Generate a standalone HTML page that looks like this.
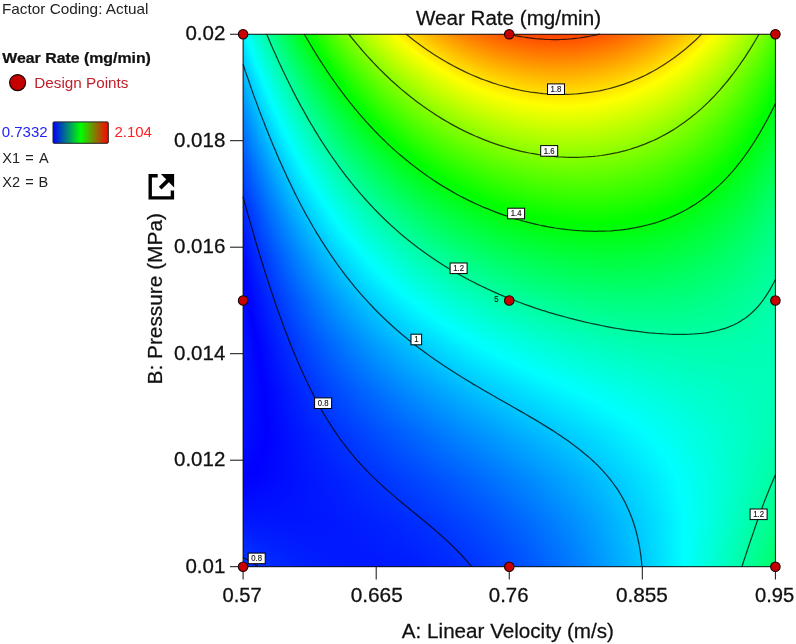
<!DOCTYPE html>
<html><head><meta charset="utf-8"><title>Wear Rate contour</title>
<style>
html,body{margin:0;padding:0;background:#fff}
body{width:796px;height:644px;position:relative;overflow:hidden;font-family:"Liberation Sans",sans-serif}
#heat{position:absolute;left:243px;top:34px;width:532.4px;height:532.7px;overflow:hidden;white-space:nowrap;font-size:0;line-height:0}
#heat i{display:inline-block;width:1px;height:533px;vertical-align:top}
#ov{position:absolute;left:0;top:0;will-change:transform}
text{font-family:"Liberation Sans",sans-serif}
</style></head><body>
<div id="heat"><i style="background:linear-gradient(#00f6ff,#00b5ff 8.3%,#007dff 16.7%,#004eff 25%,#0027ff 33.3%,#000aff 41.7%,#00f 45.4%,#000aff 50%,#0015ff 58.3%,#0017ff 66.7%,#01f 75%,#0001ff 83.3%,#00f 83.7%,#0018ff 91.7%,#003aff)"></i><i style="background:linear-gradient(#00faff,#00b9ff 8.3%,#0080ff 16.7%,#0051ff 25%,#002aff 33.3%,#000dff 41.7%,#00f 46.3%,#0008ff 50%,#0014ff 58.3%,#0016ff 66.7%,#0010ff 75%,#0001ff 83.3%,#00f 83.5%,#0018ff 91.7%,#0039ff)"></i><i style="background:linear-gradient(#0ff,#00bdff 8.3%,#0084ff 16.7%,#0054ff 25%,#002dff 33.3%,#000fff 41.7%,#00f 47.2%,#0006ff 50%,#0012ff 58.3%,#0015ff 66.7%,#000fff 75%,#00f 83.3%,#00f 83.4%,#0018ff 91.7%,#0039ff)"></i><i style="background:linear-gradient(#00fffb,#0ff 0.5%,#00c1ff 8.3%,#08f 16.7%,#0057ff 25%,#0030ff 33.3%,#01f 41.7%,#00f 48.2%,#0004ff 50%,#0010ff 58.3%,#0014ff 66.7%,#000eff 75%,#00f 83.3%,#00f 83.3%,#0018ff 91.7%,#0038ff)"></i><i style="background:linear-gradient(#00fff6,#0ff 1.1%,#00c5ff 8.3%,#008bff 16.7%,#005bff 25%,#03f 33.3%,#0014ff 41.7%,#00f 49.1%,#0002ff 50%,#000fff 58.3%,#0013ff 66.7%,#000eff 75%,#00f 83.2%,#00f 83.3%,#0017ff 91.7%,#0037ff)"></i><i style="background:linear-gradient(#00fff2,#0ff 1.6%,#00c9ff 8.3%,#008fff 16.7%,#005eff 25%,#0036ff 33.3%,#0016ff 41.7%,#00f 50%,#00f 50%,#000dff 58.3%,#0012ff 66.7%,#000dff 75%,#00f 83%,#0001ff 83.3%,#0017ff 91.7%,#0037ff)"></i><i style="background:linear-gradient(#00ffed,#0ff 2.1%,#00cdff 8.3%,#0093ff 16.7%,#0061ff 25%,#0038ff 33.3%,#0019ff 41.7%,#0002ff 50%,#00f 50.9%,#000cff 58.3%,#0010ff 66.7%,#000cff 75%,#00f 82.8%,#0001ff 83.3%,#0017ff 91.7%,#0036ff)"></i><i style="background:linear-gradient(#00ffe9,#0ff 2.6%,#00d1ff 8.3%,#0096ff 16.7%,#0064ff 25%,#003bff 33.3%,#001bff 41.7%,#0004ff 50%,#00f 51.9%,#000aff 58.3%,#000fff 66.7%,#000bff 75%,#00f 82.7%,#0001ff 83.3%,#0017ff 91.7%,#0036ff)"></i><i style="background:linear-gradient(#00ffe4,#0ff 3.1%,#00d5ff 8.3%,#009aff 16.7%,#0067ff 25%,#003eff 33.3%,#001dff 41.7%,#0006ff 50%,#00f 52.8%,#0009ff 58.3%,#000eff 66.7%,#000bff 75%,#00f 82.5%,#0002ff 83.3%,#0017ff 91.7%,#0035ff)"></i><i style="background:linear-gradient(#00ffe0,#0ff 3.7%,#00daff 8.3%,#009eff 16.7%,#006bff 25%,#0041ff 33.3%,#0020ff 41.7%,#0008ff 50%,#00f 53.8%,#0007ff 58.3%,#000dff 66.7%,#000aff 75%,#00f 82.3%,#0002ff 83.3%,#0017ff 91.7%,#0035ff)"></i><i style="background:linear-gradient(#00ffdb,#0ff 4.2%,#00deff 8.3%,#00a1ff 16.7%,#006eff 25%,#04f 33.3%,#02f 41.7%,#000aff 50%,#00f 54.8%,#0006ff 58.3%,#000cff 66.7%,#0009ff 75%,#00f 82.1%,#0002ff 83.3%,#0017ff 91.7%,#0034ff)"></i><i style="background:linear-gradient(#00ffd7,#0ff 4.7%,#00e2ff 8.3%,#00a5ff 16.7%,#0071ff 25%,#0046ff 33.3%,#0025ff 41.7%,#000cff 50%,#00f 55.7%,#0004ff 58.3%,#000bff 66.7%,#0009ff 75%,#00f 81.9%,#0003ff 83.3%,#0017ff 91.7%,#0034ff)"></i><i style="background:linear-gradient(#00ffd2,#0ff 5.2%,#00e6ff 8.3%,#00a8ff 16.7%,#0074ff 25%,#0049ff 33.3%,#0027ff 41.7%,#000eff 50%,#00f 56.7%,#0002ff 58.3%,#000aff 66.7%,#0008ff 75%,#00f 81.7%,#0003ff 83.3%,#0017ff 91.7%,#03f)"></i><i style="background:linear-gradient(#00ffce,#0ff 5.7%,#00e9ff 8.3%,#00acff 16.7%,#07f 25%,#004cff 33.3%,#0029ff 41.7%,#0010ff 50%,#00f 57.7%,#0001ff 58.3%,#0009ff 66.7%,#0007ff 75%,#00f 81.4%,#0003ff 83.3%,#0017ff 91.7%,#03f)"></i><i style="background:linear-gradient(#00ffca,#0ff 6.2%,#00edff 8.3%,#00afff 16.7%,#007bff 25%,#004fff 33.3%,#002cff 41.7%,#0012ff 50%,#0001ff 58.3%,#00f 58.8%,#0007ff 66.7%,#0006ff 75%,#00f 81.1%,#0003ff 83.3%,#0016ff 91.7%,#0032ff)"></i><i style="background:linear-gradient(#00ffc5,#0ff 6.7%,#00f1ff 8.3%,#00b3ff 16.7%,#007eff 25%,#0051ff 33.3%,#002eff 41.7%,#0014ff 50%,#0002ff 58.3%,#00f 59.8%,#0006ff 66.7%,#0006ff 75%,#00f 80.8%,#0004ff 83.3%,#0016ff 91.7%,#0032ff)"></i><i style="background:linear-gradient(#00ffc1,#0ff 7.1%,#00f5ff 8.3%,#00b7ff 16.7%,#0081ff 25%,#0054ff 33.3%,#0030ff 41.7%,#0015ff 50%,#0004ff 58.3%,#00f 60.9%,#0005ff 66.7%,#0005ff 75%,#00f 80.5%,#0004ff 83.3%,#0016ff 91.7%,#0031ff)"></i><i style="background:linear-gradient(#00ffbd,#0ff 7.6%,#00f9ff 8.3%,#00baff 16.7%,#0084ff 25%,#0057ff 33.3%,#03f 41.7%,#0017ff 50%,#0005ff 58.3%,#00f 62%,#0004ff 66.7%,#0004ff 75%,#00f 80.1%,#0004ff 83.3%,#0016ff 91.7%,#0031ff)"></i><i style="background:linear-gradient(#00ffb8,#0ff 8.1%,#00fdff 8.3%,#00beff 16.7%,#0087ff 25%,#005aff 33.3%,#0035ff 41.7%,#0019ff 50%,#0007ff 58.3%,#00f 63.2%,#0003ff 66.7%,#0004ff 75%,#00f 79.7%,#0005ff 83.3%,#0016ff 91.7%,#0030ff)"></i><i style="background:linear-gradient(#00ffb4,#00fffd 8.3%,#0ff 8.6%,#00c1ff 16.7%,#008aff 25%,#005cff 33.3%,#0037ff 41.7%,#001bff 50%,#0008ff 58.3%,#00f 64.5%,#0002ff 66.7%,#0003ff 75%,#00f 79.2%,#0005ff 83.3%,#0016ff 91.7%,#0030ff)"></i><i style="background:linear-gradient(#00ffb0,#00fff9 8.3%,#0ff 9.1%,#00c5ff 16.7%,#008dff 25%,#005fff 33.3%,#003aff 41.7%,#001dff 50%,#000aff 58.3%,#00f 65.8%,#0001ff 66.7%,#0002ff 75%,#00f 78.5%,#0005ff 83.3%,#0016ff 91.7%,#002fff)"></i><i style="background:linear-gradient(#00ffab,#00fff5 8.3%,#0ff 9.5%,#00c8ff 16.7%,#0090ff 25%,#0062ff 33.3%,#003cff 41.7%,#001fff 50%,#000bff 58.3%,#00f 66.7%,#00f 67.3%,#0001ff 75%,#00f 77.8%,#0006ff 83.3%,#0016ff 91.7%,#002fff)"></i><i style="background:linear-gradient(#00ffa7,#00fff1 8.3%,#0ff 10%,#0cf 16.7%,#0093ff 25%,#0064ff 33.3%,#003eff 41.7%,#0021ff 50%,#000dff 58.3%,#0002ff 66.7%,#00f 69%,#0001ff 75%,#00f 76.8%,#0006ff 83.3%,#0016ff 91.7%,#002fff)"></i><i style="background:linear-gradient(#00ffa3,#00ffed 8.3%,#0ff 10.4%,#00cfff 16.7%,#0096ff 25%,#0067ff 33.3%,#0040ff 41.7%,#0023ff 50%,#000eff 58.3%,#0003ff 66.7%,#00f 71.7%,#00f 75%,#0006ff 83.3%,#0016ff 91.7%,#002eff)"></i><i style="background:linear-gradient(#00ff9f,#00ffea 8.3%,#0ff 10.9%,#00d2ff 16.7%,#009aff 25%,#006aff 33.3%,#0043ff 41.7%,#0025ff 50%,#0010ff 58.3%,#0004ff 66.7%,#0001ff 75%,#0007ff 83.3%,#0016ff 91.7%,#002eff)"></i><i style="background:linear-gradient(#00ff9b,#00ffe6 8.3%,#0ff 11.4%,#00d6ff 16.7%,#009dff 25%,#006cff 33.3%,#0045ff 41.7%,#0027ff 50%,#01f 58.3%,#0005ff 66.7%,#0001ff 75%,#0007ff 83.3%,#0016ff 91.7%,#002dff)"></i><i style="background:linear-gradient(#00ff96,#00ffe2 8.3%,#0ff 11.8%,#00d9ff 16.7%,#00a0ff 25%,#006fff 33.3%,#0047ff 41.7%,#0028ff 50%,#0013ff 58.3%,#0006ff 66.7%,#0002ff 75%,#0007ff 83.3%,#0016ff 91.7%,#002dff)"></i><i style="background:linear-gradient(#00ff92,#00ffde 8.3%,#0ff 12.3%,#0df 16.7%,#00a3ff 25%,#0072ff 33.3%,#0049ff 41.7%,#002aff 50%,#0014ff 58.3%,#0007ff 66.7%,#0003ff 75%,#0008ff 83.3%,#0016ff 91.7%,#002cff)"></i><i style="background:linear-gradient(#00ff8e,#00ffda 8.3%,#0ff 12.7%,#00e0ff 16.7%,#00a6ff 25%,#0074ff 33.3%,#004cff 41.7%,#002cff 50%,#0016ff 58.3%,#0008ff 66.7%,#0004ff 75%,#0008ff 83.3%,#0015ff 91.7%,#002cff)"></i><i style="background:linear-gradient(#00ff8a,#00ffd7 8.3%,#0ff 13.2%,#00e3ff 16.7%,#00a9ff 25%,#07f 33.3%,#004eff 41.7%,#002eff 50%,#0017ff 58.3%,#0009ff 66.7%,#0004ff 75%,#0008ff 83.3%,#0015ff 91.7%,#002bff)"></i><i style="background:linear-gradient(#00ff86,#00ffd3 8.3%,#0ff 13.6%,#00e7ff 16.7%,#00acff 25%,#0079ff 33.3%,#0050ff 41.7%,#0030ff 50%,#0019ff 58.3%,#000aff 66.7%,#0005ff 75%,#0009ff 83.3%,#0015ff 91.7%,#002bff)"></i><i style="background:linear-gradient(#00ff82,#00ffcf 8.3%,#0ff 14%,#00eaff 16.7%,#00afff 25%,#007cff 33.3%,#0052ff 41.7%,#0032ff 50%,#001aff 58.3%,#000bff 66.7%,#0006ff 75%,#0009ff 83.3%,#0015ff 91.7%,#002bff)"></i><i style="background:linear-gradient(#00ff7e,#00ffcb 8.3%,#0ff 14.5%,#0ef 16.7%,#00b2ff 25%,#007fff 33.3%,#05f 41.7%,#0034ff 50%,#001cff 58.3%,#000dff 66.7%,#0007ff 75%,#0009ff 83.3%,#0015ff 91.7%,#002aff)"></i><i style="background:linear-gradient(#00ff79,#00ffc8 8.3%,#0ff 14.9%,#00f1ff 16.7%,#00b5ff 25%,#0081ff 33.3%,#0057ff 41.7%,#0035ff 50%,#001dff 58.3%,#000eff 66.7%,#0007ff 75%,#000aff 83.3%,#0015ff 91.7%,#002aff)"></i><i style="background:linear-gradient(#00ff75,#00ffc4 8.3%,#0ff 15.3%,#00f4ff 16.7%,#00b8ff 25%,#0084ff 33.3%,#0059ff 41.7%,#0037ff 50%,#001fff 58.3%,#000fff 66.7%,#0008ff 75%,#000aff 83.3%,#0015ff 91.7%,#0029ff)"></i><i style="background:linear-gradient(#00ff71,#00ffc0 8.3%,#0ff 15.7%,#00f8ff 16.7%,#00baff 25%,#0086ff 33.3%,#005bff 41.7%,#0039ff 50%,#0020ff 58.3%,#0010ff 66.7%,#0009ff 75%,#000aff 83.3%,#0015ff 91.7%,#0029ff)"></i><i style="background:linear-gradient(#00ff6d,#00ffbd 8.3%,#0ff 16.2%,#00fbff 16.7%,#00bdff 25%,#0089ff 33.3%,#005dff 41.7%,#003bff 50%,#0021ff 58.3%,#01f 66.7%,#0009ff 75%,#000bff 83.3%,#0015ff 91.7%,#0029ff)"></i><i style="background:linear-gradient(#00ff69,#00ffb9 8.3%,#0ff 16.6%,#00feff 16.7%,#00c0ff 25%,#008cff 33.3%,#0060ff 41.7%,#003dff 50%,#0023ff 58.3%,#0012ff 66.7%,#000aff 75%,#000bff 83.3%,#0015ff 91.7%,#0028ff)"></i><i style="background:linear-gradient(#00ff65,#00ffb5 8.3%,#00fffd 16.7%,#0ff 17%,#00c3ff 25%,#008eff 33.3%,#0062ff 41.7%,#003fff 50%,#0024ff 58.3%,#0013ff 66.7%,#000bff 75%,#000bff 83.3%,#0015ff 91.7%,#0028ff)"></i><i style="background:linear-gradient(#00ff61,#00ffb2 8.3%,#00fff9 16.7%,#0ff 17.4%,#00c6ff 25%,#0091ff 33.3%,#0064ff 41.7%,#0040ff 50%,#0026ff 58.3%,#0014ff 66.7%,#000cff 75%,#000cff 83.3%,#0015ff 91.7%,#0027ff)"></i><i style="background:linear-gradient(#00ff5d,#00ffae 8.3%,#00fff6 16.7%,#0ff 17.8%,#00c9ff 25%,#0093ff 33.3%,#06f 41.7%,#0042ff 50%,#0027ff 58.3%,#0015ff 66.7%,#000cff 75%,#000cff 83.3%,#0015ff 91.7%,#0027ff)"></i><i style="background:linear-gradient(#00ff59,#0fa 8.3%,#00fff3 16.7%,#0ff 18.2%,#0cf 25%,#0096ff 33.3%,#0068ff 41.7%,#04f 50%,#0029ff 58.3%,#0016ff 66.7%,#000dff 75%,#000dff 83.3%,#0015ff 91.7%,#0027ff)"></i><i style="background:linear-gradient(#0f5,#00ffa7 8.3%,#00fff0 16.7%,#0ff 18.6%,#00cfff 25%,#0098ff 33.3%,#006aff 41.7%,#0046ff 50%,#002aff 58.3%,#0017ff 66.7%,#000eff 75%,#000dff 83.3%,#0015ff 91.7%,#0026ff)"></i><i style="background:linear-gradient(#00ff51,#00ffa3 8.3%,#00ffec 16.7%,#0ff 19%,#00d2ff 25%,#009bff 33.3%,#006dff 41.7%,#0048ff 50%,#002cff 58.3%,#0018ff 66.7%,#000eff 75%,#000dff 83.3%,#0015ff 91.7%,#0026ff)"></i><i style="background:linear-gradient(#00ff4d,#00ffa0 8.3%,#00ffe9 16.7%,#0ff 19.4%,#00d5ff 25%,#009dff 33.3%,#006fff 41.7%,#0049ff 50%,#002dff 58.3%,#001aff 66.7%,#000fff 75%,#000eff 83.3%,#0015ff 91.7%,#0026ff)"></i><i style="background:linear-gradient(#00ff4a,#00ff9c 8.3%,#00ffe6 16.7%,#0ff 19.8%,#00d7ff 25%,#00a0ff 33.3%,#0071ff 41.7%,#004bff 50%,#002eff 58.3%,#001bff 66.7%,#0010ff 75%,#000eff 83.3%,#0015ff 91.7%,#0025ff)"></i><i style="background:linear-gradient(#00ff46,#0f9 8.3%,#00ffe3 16.7%,#0ff 20.2%,#00daff 25%,#00a2ff 33.3%,#0073ff 41.7%,#004dff 50%,#0030ff 58.3%,#001cff 66.7%,#01f 75%,#000eff 83.3%,#0015ff 91.7%,#0025ff)"></i><i style="background:linear-gradient(#00ff42,#00ff95 8.3%,#00ffe0 16.7%,#0ff 20.5%,#0df 25%,#00a5ff 33.3%,#0075ff 41.7%,#004fff 50%,#0031ff 58.3%,#001dff 66.7%,#01f 75%,#000fff 83.3%,#0015ff 91.7%,#0025ff)"></i><i style="background:linear-gradient(#00ff3e,#00ff92 8.3%,#00ffdc 16.7%,#0ff 20.9%,#00e0ff 25%,#00a7ff 33.3%,#07f 41.7%,#0050ff 50%,#03f 58.3%,#001eff 66.7%,#0012ff 75%,#000fff 83.3%,#0015ff 91.7%,#0024ff)"></i><i style="background:linear-gradient(#00ff3a,#00ff8e 8.3%,#00ffd9 16.7%,#0ff 21.3%,#00e3ff 25%,#0af 33.3%,#0079ff 41.7%,#0052ff 50%,#0034ff 58.3%,#001fff 66.7%,#0013ff 75%,#000fff 83.3%,#0015ff 91.7%,#0024ff)"></i><i style="background:linear-gradient(#00ff36,#00ff8b 8.3%,#00ffd6 16.7%,#0ff 21.7%,#00e5ff 25%,#00acff 33.3%,#007bff 41.7%,#0054ff 50%,#0035ff 58.3%,#0020ff 66.7%,#0013ff 75%,#0010ff 83.3%,#0015ff 91.7%,#0024ff)"></i><i style="background:linear-gradient(#00ff32,#00ff87 8.3%,#00ffd3 16.7%,#0ff 22%,#00e8ff 25%,#00aeff 33.3%,#007eff 41.7%,#0056ff 50%,#0037ff 58.3%,#0021ff 66.7%,#0014ff 75%,#0010ff 83.3%,#0015ff 91.7%,#0023ff)"></i><i style="background:linear-gradient(#00ff2f,#00ff84 8.3%,#00ffd0 16.7%,#0ff 22.4%,#00ebff 25%,#00b1ff 33.3%,#0080ff 41.7%,#0057ff 50%,#0038ff 58.3%,#02f 66.7%,#0015ff 75%,#01f 83.3%,#0015ff 91.7%,#0023ff)"></i><i style="background:linear-gradient(#00ff2b,#00ff80 8.3%,#00ffcd 16.7%,#0ff 22.8%,#0ef 25%,#00b3ff 33.3%,#0082ff 41.7%,#0059ff 50%,#003aff 58.3%,#0023ff 66.7%,#0015ff 75%,#01f 83.3%,#0015ff 91.7%,#0023ff)"></i><i style="background:linear-gradient(#00ff27,#00ff7d 8.3%,#00ffca 16.7%,#0ff 23.1%,#00f1ff 25%,#00b6ff 33.3%,#0084ff 41.7%,#005bff 50%,#003bff 58.3%,#0024ff 66.7%,#0016ff 75%,#01f 83.3%,#0015ff 91.7%,#02f)"></i><i style="background:linear-gradient(#00ff23,#00ff79 8.3%,#00ffc7 16.7%,#0ff 23.5%,#00f3ff 25%,#00b8ff 33.3%,#0086ff 41.7%,#005dff 50%,#003cff 58.3%,#0025ff 66.7%,#0017ff 75%,#0012ff 83.3%,#0015ff 91.7%,#02f)"></i><i style="background:linear-gradient(#00ff1f,#00ff76 8.3%,#00ffc3 16.7%,#0ff 23.8%,#00f6ff 25%,#0bf 33.3%,#08f 41.7%,#005eff 50%,#003eff 58.3%,#0026ff 66.7%,#0018ff 75%,#0012ff 83.3%,#0015ff 91.7%,#02f)"></i><i style="background:linear-gradient(#00ff1c,#00ff72 8.3%,#00ffc0 16.7%,#0ff 24.2%,#00f9ff 25%,#00bdff 33.3%,#008aff 41.7%,#0060ff 50%,#003fff 58.3%,#0027ff 66.7%,#0018ff 75%,#0012ff 83.3%,#0015ff 91.7%,#0021ff)"></i><i style="background:linear-gradient(#00ff18,#00ff6f 8.3%,#00ffbd 16.7%,#0ff 24.6%,#00fcff 25%,#00bfff 33.3%,#008cff 41.7%,#0062ff 50%,#0041ff 58.3%,#0028ff 66.7%,#0019ff 75%,#0013ff 83.3%,#0015ff 91.7%,#0021ff)"></i><i style="background:linear-gradient(#00ff14,#00ff6c 8.3%,#00ffba 16.7%,#0ff 24.9%,#00feff 25%,#00c2ff 33.3%,#008eff 41.7%,#0064ff 50%,#0042ff 58.3%,#0029ff 66.7%,#001aff 75%,#0013ff 83.3%,#0015ff 91.7%,#0021ff)"></i><i style="background:linear-gradient(#0f1,#00ff68 8.3%,#00ffb7 16.7%,#00fffd 25%,#0ff 25.2%,#00c4ff 33.3%,#0090ff 41.7%,#0065ff 50%,#0043ff 58.3%,#002aff 66.7%,#001aff 75%,#0014ff 83.3%,#0016ff 91.7%,#0021ff)"></i><i style="background:linear-gradient(#00ff0d,#00ff65 8.3%,#00ffb4 16.7%,#00fffa 25%,#0ff 25.6%,#00c6ff 33.3%,#0092ff 41.7%,#0067ff 50%,#0045ff 58.3%,#002bff 66.7%,#001bff 75%,#0014ff 83.3%,#0016ff 91.7%,#0020ff)"></i><i style="background:linear-gradient(#00ff09,#00ff62 8.3%,#00ffb1 16.7%,#00fff8 25%,#0ff 25.9%,#00c9ff 33.3%,#0094ff 41.7%,#0069ff 50%,#0046ff 58.3%,#002cff 66.7%,#001cff 75%,#0014ff 83.3%,#0016ff 91.7%,#0020ff)"></i><i style="background:linear-gradient(#00ff06,#00ff5e 8.3%,#00ffae 16.7%,#00fff5 25%,#0ff 26.3%,#00cbff 33.3%,#0096ff 41.7%,#006aff 50%,#0047ff 58.3%,#002eff 66.7%,#001dff 75%,#0015ff 83.3%,#0016ff 91.7%,#0020ff)"></i><i style="background:linear-gradient(#00ff02,#00ff5b 8.3%,#00ffab 16.7%,#00fff2 25%,#0ff 26.6%,#00cdff 33.3%,#0098ff 41.7%,#006cff 50%,#0049ff 58.3%,#002fff 66.7%,#001dff 75%,#0015ff 83.3%,#0016ff 91.7%,#001fff)"></i><i style="background:linear-gradient(#02ff00,#0f0 0.1%,#00ff58 8.3%,#00ffa8 16.7%,#00fff0 25%,#0ff 26.9%,#00d0ff 33.3%,#009aff 41.7%,#006eff 50%,#004aff 58.3%,#0030ff 66.7%,#001eff 75%,#0015ff 83.3%,#0016ff 91.7%,#001fff)"></i><i style="background:linear-gradient(#05ff00,#0f0 0.5%,#00ff54 8.3%,#00ffa5 16.7%,#00ffed 25%,#0ff 27.3%,#00d2ff 33.3%,#009cff 41.7%,#006fff 50%,#004cff 58.3%,#0031ff 66.7%,#001fff 75%,#0016ff 83.3%,#0016ff 91.7%,#001fff)"></i><i style="background:linear-gradient(#09ff00,#0f0 0.8%,#00ff51 8.3%,#00ffa2 16.7%,#00ffea 25%,#0ff 27.6%,#00d4ff 33.3%,#009eff 41.7%,#0071ff 50%,#004dff 58.3%,#0032ff 66.7%,#001fff 75%,#0016ff 83.3%,#0016ff 91.7%,#001fff)"></i><i style="background:linear-gradient(#0cff00,#0f0 1.1%,#00ff4e 8.3%,#00ff9f 16.7%,#00ffe8 25%,#0ff 27.9%,#00d7ff 33.3%,#00a0ff 41.7%,#0073ff 50%,#004eff 58.3%,#03f 66.7%,#0020ff 75%,#0017ff 83.3%,#0016ff 91.7%,#001eff)"></i><i style="background:linear-gradient(#10ff00,#0f0 1.4%,#00ff4b 8.3%,#00ff9d 16.7%,#00ffe5 25%,#0ff 28.2%,#00d9ff 33.3%,#00a2ff 41.7%,#0074ff 50%,#0050ff 58.3%,#0034ff 66.7%,#0021ff 75%,#0017ff 83.3%,#0016ff 91.7%,#001eff)"></i><i style="background:linear-gradient(#14ff00,#0f0 1.7%,#00ff47 8.3%,#00ff9a 16.7%,#00ffe3 25%,#0ff 28.5%,#00dbff 33.3%,#00a4ff 41.7%,#0076ff 50%,#0051ff 58.3%,#0035ff 66.7%,#02f 75%,#0017ff 83.3%,#0016ff 91.7%,#001eff)"></i><i style="background:linear-gradient(#17ff00,#0f0 2%,#0f4 8.3%,#00ff97 16.7%,#00ffe0 25%,#0ff 28.9%,#00deff 33.3%,#00a6ff 41.7%,#0078ff 50%,#0052ff 58.3%,#0036ff 66.7%,#02f 75%,#0018ff 83.3%,#0016ff 91.7%,#001eff)"></i><i style="background:linear-gradient(#1bff00,#0f0 2.3%,#00ff41 8.3%,#00ff94 16.7%,#0fd 25%,#0ff 29.2%,#00e0ff 33.3%,#00a8ff 41.7%,#0079ff 50%,#0054ff 58.3%,#0037ff 66.7%,#0023ff 75%,#0018ff 83.3%,#0016ff 91.7%,#001dff)"></i><i style="background:linear-gradient(#1eff00,#0f0 2.6%,#00ff3e 8.3%,#00ff91 16.7%,#00ffdb 25%,#0ff 29.5%,#00e2ff 33.3%,#0af 41.7%,#007bff 50%,#05f 58.3%,#0038ff 66.7%,#0024ff 75%,#0019ff 83.3%,#0016ff 91.7%,#001dff)"></i><i style="background:linear-gradient(#2f0,#0f0 2.9%,#00ff3b 8.3%,#00ff8e 16.7%,#00ffd8 25%,#0ff 29.8%,#00e4ff 33.3%,#00acff 41.7%,#007dff 50%,#0056ff 58.3%,#0039ff 66.7%,#0024ff 75%,#0019ff 83.3%,#0016ff 91.7%,#001dff)"></i><i style="background:linear-gradient(#25ff00,#0f0 3.2%,#00ff38 8.3%,#00ff8b 16.7%,#00ffd6 25%,#0ff 30.1%,#00e7ff 33.3%,#00aeff 41.7%,#007eff 50%,#0058ff 58.3%,#003aff 66.7%,#0025ff 75%,#0019ff 83.3%,#0017ff 91.7%,#001dff)"></i><i style="background:linear-gradient(#28ff00,#0f0 3.5%,#00ff34 8.3%,#0f8 16.7%,#00ffd3 25%,#0ff 30.4%,#00e9ff 33.3%,#00b0ff 41.7%,#0080ff 50%,#0059ff 58.3%,#003bff 66.7%,#0026ff 75%,#001aff 83.3%,#0017ff 91.7%,#001dff)"></i><i style="background:linear-gradient(#2cff00,#0f0 3.8%,#00ff31 8.3%,#00ff86 16.7%,#00ffd1 25%,#0ff 30.7%,#00ebff 33.3%,#00b2ff 41.7%,#0081ff 50%,#005aff 58.3%,#003cff 66.7%,#0026ff 75%,#001aff 83.3%,#0017ff 91.7%,#001cff)"></i><i style="background:linear-gradient(#2fff00,#0f0 4.1%,#00ff2e 8.3%,#00ff83 16.7%,#00ffce 25%,#0ff 31%,#00edff 33.3%,#00b4ff 41.7%,#0083ff 50%,#005bff 58.3%,#003dff 66.7%,#0027ff 75%,#001bff 83.3%,#0017ff 91.7%,#001cff)"></i><i style="background:linear-gradient(#3f0,#0f0 4.4%,#00ff2b 8.3%,#00ff80 16.7%,#0fc 25%,#0ff 31.3%,#00efff 33.3%,#00b6ff 41.7%,#0085ff 50%,#005dff 58.3%,#003eff 66.7%,#0028ff 75%,#001bff 83.3%,#0017ff 91.7%,#001cff)"></i><i style="background:linear-gradient(#36ff00,#0f0 4.7%,#00ff28 8.3%,#00ff7d 16.7%,#00ffc9 25%,#0ff 31.6%,#00f2ff 33.3%,#00b7ff 41.7%,#0086ff 50%,#005eff 58.3%,#003fff 66.7%,#0029ff 75%,#001bff 83.3%,#0017ff 91.7%,#001cff)"></i><i style="background:linear-gradient(#3aff00,#0f0 5%,#00ff25 8.3%,#00ff7a 16.7%,#00ffc7 25%,#0ff 31.9%,#00f4ff 33.3%,#00b9ff 41.7%,#08f 50%,#005fff 58.3%,#0040ff 66.7%,#0029ff 75%,#001cff 83.3%,#0017ff 91.7%,#001cff)"></i><i style="background:linear-gradient(#3dff00,#0f0 5.3%,#0f2 8.3%,#00ff78 16.7%,#00ffc4 25%,#0ff 32.2%,#00f6ff 33.3%,#0bf 41.7%,#0089ff 50%,#0061ff 58.3%,#0041ff 66.7%,#002aff 75%,#001cff 83.3%,#0017ff 91.7%,#001bff)"></i><i style="background:linear-gradient(#40ff00,#0f0 5.5%,#00ff1f 8.3%,#00ff75 16.7%,#00ffc2 25%,#0ff 32.5%,#00f8ff 33.3%,#00bdff 41.7%,#008bff 50%,#0062ff 58.3%,#0042ff 66.7%,#002bff 75%,#001dff 83.3%,#0017ff 91.7%,#001bff)"></i><i style="background:linear-gradient(#4f0,#0f0 5.8%,#00ff1c 8.3%,#00ff72 16.7%,#00ffbf 25%,#0ff 32.7%,#00faff 33.3%,#00bfff 41.7%,#008dff 50%,#0063ff 58.3%,#0043ff 66.7%,#002bff 75%,#001dff 83.3%,#0018ff 91.7%,#001bff)"></i><i style="background:linear-gradient(#47ff00,#0f0 6.1%,#00ff19 8.3%,#00ff6f 16.7%,#00ffbd 25%,#0ff 33%,#00fdff 33.3%,#00c1ff 41.7%,#008eff 50%,#0065ff 58.3%,#04f 66.7%,#002cff 75%,#001dff 83.3%,#0018ff 91.7%,#001bff)"></i><i style="background:linear-gradient(#4aff00,#0f0 6.4%,#00ff16 8.3%,#00ff6d 16.7%,#00ffba 25%,#0ff 33.3%,#0ff 33.3%,#00c3ff 41.7%,#0090ff 50%,#06f 58.3%,#0045ff 66.7%,#002dff 75%,#001eff 83.3%,#0018ff 91.7%,#001bff)"></i><i style="background:linear-gradient(#4eff00,#0f0 6.7%,#00ff13 8.3%,#00ff6a 16.7%,#00ffb8 25%,#00fffd 33.3%,#0ff 33.6%,#00c5ff 41.7%,#0091ff 50%,#0067ff 58.3%,#0046ff 66.7%,#002eff 75%,#001eff 83.3%,#0018ff 91.7%,#001bff)"></i><i style="background:linear-gradient(#51ff00,#0f0 6.9%,#00ff10 8.3%,#00ff67 16.7%,#00ffb6 25%,#00fffb 33.3%,#0ff 33.8%,#00c6ff 41.7%,#0093ff 50%,#0068ff 58.3%,#0047ff 66.7%,#002eff 75%,#001fff 83.3%,#0018ff 91.7%,#001aff)"></i><i style="background:linear-gradient(#54ff00,#0f0 7.2%,#00ff0d 8.3%,#00ff64 16.7%,#00ffb3 25%,#00fff9 33.3%,#0ff 34.1%,#00c8ff 41.7%,#0094ff 50%,#006aff 58.3%,#0048ff 66.7%,#002fff 75%,#001fff 83.3%,#0018ff 91.7%,#001aff)"></i><i style="background:linear-gradient(#57ff00,#0f0 7.5%,#00ff0a 8.3%,#00ff62 16.7%,#00ffb1 25%,#00fff7 33.3%,#0ff 34.4%,#00caff 41.7%,#0096ff 50%,#006bff 58.3%,#0049ff 66.7%,#0030ff 75%,#001fff 83.3%,#0018ff 91.7%,#001aff)"></i><i style="background:linear-gradient(#5bff00,#0f0 7.7%,#00ff07 8.3%,#00ff5f 16.7%,#00ffae 25%,#00fff5 33.3%,#0ff 34.6%,#0cf 41.7%,#0098ff 50%,#006cff 58.3%,#004aff 66.7%,#0030ff 75%,#0020ff 83.3%,#0018ff 91.7%,#001aff)"></i><i style="background:linear-gradient(#5eff00,#0f0 8%,#00ff04 8.3%,#00ff5c 16.7%,#00ffac 25%,#00fff3 33.3%,#0ff 34.9%,#00ceff 41.7%,#09f 50%,#006dff 58.3%,#004bff 66.7%,#0031ff 75%,#0020ff 83.3%,#0019ff 91.7%,#001aff)"></i><i style="background:linear-gradient(#61ff00,#0f0 8.3%,#00ff01 8.3%,#00ff5a 16.7%,#0fa 25%,#00fff0 33.3%,#0ff 35.2%,#00d0ff 41.7%,#009bff 50%,#006fff 58.3%,#004cff 66.7%,#0032ff 75%,#0021ff 83.3%,#0019ff 91.7%,#001aff)"></i><i style="background:linear-gradient(#64ff00,#02ff00 8.3%,#0f0 8.5%,#00ff57 16.7%,#00ffa7 25%,#0fe 33.3%,#0ff 35.4%,#00d1ff 41.7%,#009cff 50%,#0070ff 58.3%,#004dff 66.7%,#0032ff 75%,#0021ff 83.3%,#0019ff 91.7%,#001aff)"></i><i style="background:linear-gradient(#67ff00,#05ff00 8.3%,#0f0 8.8%,#00ff54 16.7%,#00ffa5 25%,#00ffec 33.3%,#0ff 35.7%,#00d3ff 41.7%,#009eff 50%,#0071ff 58.3%,#004eff 66.7%,#03f 75%,#02f 83.3%,#0019ff 91.7%,#0019ff)"></i><i style="background:linear-gradient(#6bff00,#08ff00 8.3%,#0f0 9%,#00ff52 16.7%,#00ffa3 25%,#00ffea 33.3%,#0ff 36%,#00d5ff 41.7%,#009fff 50%,#0072ff 58.3%,#004fff 66.7%,#0034ff 75%,#02f 83.3%,#0019ff 91.7%,#0019ff)"></i><i style="background:linear-gradient(#6eff00,#0bff00 8.3%,#0f0 9.3%,#00ff4f 16.7%,#00ffa0 25%,#00ffe8 33.3%,#0ff 36.2%,#00d7ff 41.7%,#00a1ff 50%,#0074ff 58.3%,#0050ff 66.7%,#0035ff 75%,#02f 83.3%,#0019ff 91.7%,#0019ff)"></i><i style="background:linear-gradient(#71ff00,#0eff00 8.3%,#0f0 9.5%,#00ff4d 16.7%,#00ff9e 25%,#00ffe6 33.3%,#0ff 36.5%,#00d9ff 41.7%,#00a2ff 50%,#0075ff 58.3%,#0051ff 66.7%,#0035ff 75%,#0023ff 83.3%,#0019ff 91.7%,#0019ff)"></i><i style="background:linear-gradient(#74ff00,#10ff00 8.3%,#0f0 9.8%,#00ff4a 16.7%,#00ff9c 25%,#00ffe4 33.3%,#0ff 36.7%,#00daff 41.7%,#00a4ff 50%,#0076ff 58.3%,#0052ff 66.7%,#0036ff 75%,#0023ff 83.3%,#001aff 91.7%,#0019ff)"></i><i style="background:linear-gradient(#7f0,#13ff00 8.3%,#0f0 10%,#00ff48 16.7%,#0f9 25%,#00ffe2 33.3%,#0ff 37%,#00dcff 41.7%,#00a5ff 50%,#07f 58.3%,#0053ff 66.7%,#0037ff 75%,#0024ff 83.3%,#001aff 91.7%,#0019ff)"></i><i style="background:linear-gradient(#7aff00,#16ff00 8.3%,#0f0 10.3%,#00ff45 16.7%,#00ff97 25%,#00ffe0 33.3%,#0ff 37.2%,#00deff 41.7%,#00a7ff 50%,#0079ff 58.3%,#0053ff 66.7%,#0037ff 75%,#0024ff 83.3%,#001aff 91.7%,#0019ff)"></i><i style="background:linear-gradient(#7dff00,#19ff00 8.3%,#0f0 10.5%,#00ff42 16.7%,#00ff95 25%,#00ffde 33.3%,#0ff 37.5%,#00e0ff 41.7%,#00a8ff 50%,#007aff 58.3%,#0054ff 66.7%,#0038ff 75%,#0025ff 83.3%,#001aff 91.7%,#0019ff)"></i><i style="background:linear-gradient(#80ff00,#1cff00 8.3%,#0f0 10.8%,#00ff40 16.7%,#00ff92 25%,#00ffdc 33.3%,#0ff 37.7%,#00e1ff 41.7%,#0af 50%,#007bff 58.3%,#05f 66.7%,#0039ff 75%,#0025ff 83.3%,#001aff 91.7%,#0019ff)"></i><i style="background:linear-gradient(#83ff00,#1fff00 8.3%,#0f0 11%,#00ff3d 16.7%,#00ff90 25%,#00ffda 33.3%,#0ff 37.9%,#00e3ff 41.7%,#00abff 50%,#007cff 58.3%,#0056ff 66.7%,#0039ff 75%,#0025ff 83.3%,#001bff 91.7%,#0019ff)"></i><i style="background:linear-gradient(#86ff00,#21ff00 8.3%,#0f0 11.2%,#00ff3b 16.7%,#00ff8e 25%,#00ffd8 33.3%,#0ff 38.2%,#00e5ff 41.7%,#00adff 50%,#007eff 58.3%,#0057ff 66.7%,#003aff 75%,#0026ff 83.3%,#001bff 91.7%,#0018ff)"></i><i style="background:linear-gradient(#89ff00,#24ff00 8.3%,#0f0 11.5%,#00ff38 16.7%,#00ff8c 25%,#00ffd6 33.3%,#0ff 38.4%,#00e7ff 41.7%,#00aeff 50%,#007fff 58.3%,#0058ff 66.7%,#003bff 75%,#0026ff 83.3%,#001bff 91.7%,#0018ff)"></i><i style="background:linear-gradient(#8cff00,#27ff00 8.3%,#0f0 11.7%,#00ff36 16.7%,#00ff89 25%,#00ffd4 33.3%,#0ff 38.6%,#00e8ff 41.7%,#00b0ff 50%,#0080ff 58.3%,#0059ff 66.7%,#003cff 75%,#0027ff 83.3%,#001bff 91.7%,#0018ff)"></i><i style="background:linear-gradient(#8fff00,#2aff00 8.3%,#0f0 12%,#0f3 16.7%,#00ff87 25%,#00ffd2 33.3%,#0ff 38.9%,#00eaff 41.7%,#00b1ff 50%,#0081ff 58.3%,#005aff 66.7%,#003cff 75%,#0027ff 83.3%,#001bff 91.7%,#0018ff)"></i><i style="background:linear-gradient(#92ff00,#2cff00 8.3%,#0f0 12.2%,#00ff31 16.7%,#00ff85 25%,#00ffd0 33.3%,#0ff 39.1%,#00ecff 41.7%,#00b3ff 50%,#0082ff 58.3%,#005bff 66.7%,#003dff 75%,#0028ff 83.3%,#001bff 91.7%,#0018ff)"></i><i style="background:linear-gradient(#95ff00,#2fff00 8.3%,#0f0 12.4%,#00ff2e 16.7%,#00ff83 25%,#00ffce 33.3%,#0ff 39.4%,#00edff 41.7%,#00b4ff 50%,#0084ff 58.3%,#005cff 66.7%,#003eff 75%,#0028ff 83.3%,#001cff 91.7%,#0018ff)"></i><i style="background:linear-gradient(#98ff00,#32ff00 8.3%,#0f0 12.7%,#00ff2c 16.7%,#00ff81 25%,#0fc 33.3%,#0ff 39.6%,#00efff 41.7%,#00b5ff 50%,#0085ff 58.3%,#005dff 66.7%,#003eff 75%,#0029ff 83.3%,#001cff 91.7%,#0018ff)"></i><i style="background:linear-gradient(#9bff00,#34ff00 8.3%,#0f0 12.9%,#00ff2a 16.7%,#00ff7e 25%,#00ffca 33.3%,#0ff 39.8%,#00f1ff 41.7%,#00b7ff 50%,#0086ff 58.3%,#005eff 66.7%,#003fff 75%,#0029ff 83.3%,#001cff 91.7%,#0018ff)"></i><i style="background:linear-gradient(#9eff00,#37ff00 8.3%,#0f0 13.1%,#00ff27 16.7%,#00ff7c 25%,#00ffc8 33.3%,#0ff 40%,#00f2ff 41.7%,#00b8ff 50%,#0087ff 58.3%,#005fff 66.7%,#0040ff 75%,#0029ff 83.3%,#001cff 91.7%,#0018ff)"></i><i style="background:linear-gradient(#a1ff00,#3aff00 8.3%,#0f0 13.3%,#00ff25 16.7%,#00ff7a 25%,#00ffc6 33.3%,#0ff 40.2%,#00f4ff 41.7%,#00baff 50%,#08f 58.3%,#0060ff 66.7%,#0040ff 75%,#002aff 83.3%,#001cff 91.7%,#0018ff)"></i><i style="background:linear-gradient(#a4ff00,#3cff00 8.3%,#0f0 13.6%,#0f2 16.7%,#00ff78 25%,#00ffc5 33.3%,#0ff 40.5%,#00f6ff 41.7%,#0bf 50%,#008aff 58.3%,#0061ff 66.7%,#0041ff 75%,#002aff 83.3%,#001dff 91.7%,#0018ff)"></i><i style="background:linear-gradient(#a7ff00,#3fff00 8.3%,#0f0 13.8%,#00ff20 16.7%,#00ff76 25%,#00ffc3 33.3%,#0ff 40.7%,#00f7ff 41.7%,#00bdff 50%,#008bff 58.3%,#0062ff 66.7%,#0042ff 75%,#002bff 83.3%,#001dff 91.7%,#0018ff)"></i><i style="background:linear-gradient(#af0,#42ff00 8.3%,#0f0 14%,#00ff1e 16.7%,#00ff74 25%,#00ffc1 33.3%,#0ff 40.9%,#00f9ff 41.7%,#00beff 50%,#008cff 58.3%,#0063ff 66.7%,#0042ff 75%,#002bff 83.3%,#001dff 91.7%,#0018ff)"></i><i style="background:linear-gradient(#acff00,#4f0 8.3%,#0f0 14.2%,#00ff1b 16.7%,#00ff72 25%,#00ffbf 33.3%,#0ff 41.1%,#00fbff 41.7%,#00bfff 50%,#008dff 58.3%,#0064ff 66.7%,#0043ff 75%,#002cff 83.3%,#001dff 91.7%,#0018ff)"></i><i style="background:linear-gradient(#afff00,#47ff00 8.3%,#0f0 14.4%,#00ff19 16.7%,#00ff6f 25%,#00ffbd 33.3%,#0ff 41.3%,#00fcff 41.7%,#00c1ff 50%,#008eff 58.3%,#0065ff 66.7%,#04f 75%,#002cff 83.3%,#001eff 91.7%,#0018ff)"></i><i style="background:linear-gradient(#b2ff00,#49ff00 8.3%,#0f0 14.6%,#00ff17 16.7%,#00ff6d 25%,#0fb 33.3%,#0ff 41.5%,#00feff 41.7%,#00c2ff 50%,#008fff 58.3%,#0065ff 66.7%,#0045ff 75%,#002dff 83.3%,#001eff 91.7%,#0018ff)"></i><i style="background:linear-gradient(#b5ff00,#4cff00 8.3%,#0f0 14.8%,#00ff14 16.7%,#00ff6b 25%,#00ffb9 33.3%,#00fffe 41.7%,#0ff 41.8%,#00c4ff 50%,#0091ff 58.3%,#06f 66.7%,#0045ff 75%,#002dff 83.3%,#001eff 91.7%,#0018ff)"></i><i style="background:linear-gradient(#b8ff00,#4eff00 8.3%,#0f0 15.1%,#00ff12 16.7%,#00ff69 25%,#00ffb7 33.3%,#00fffd 41.7%,#0ff 42%,#00c5ff 50%,#0092ff 58.3%,#0067ff 66.7%,#0046ff 75%,#002eff 83.3%,#001eff 91.7%,#0018ff)"></i><i style="background:linear-gradient(#baff00,#51ff00 8.3%,#0f0 15.3%,#00ff10 16.7%,#00ff67 25%,#00ffb6 33.3%,#00fffb 41.7%,#0ff 42.2%,#00c6ff 50%,#0093ff 58.3%,#0068ff 66.7%,#0047ff 75%,#002eff 83.3%,#001eff 91.7%,#0018ff)"></i><i style="background:linear-gradient(#bdff00,#53ff00 8.3%,#0f0 15.5%,#00ff0d 16.7%,#00ff65 25%,#00ffb4 33.3%,#00fffa 41.7%,#0ff 42.4%,#00c8ff 50%,#0094ff 58.3%,#0069ff 66.7%,#0047ff 75%,#002fff 83.3%,#001fff 91.7%,#0018ff)"></i><i style="background:linear-gradient(#c0ff00,#56ff00 8.3%,#0f0 15.7%,#00ff0b 16.7%,#00ff63 25%,#00ffb2 33.3%,#00fff8 41.7%,#0ff 42.6%,#00c9ff 50%,#0095ff 58.3%,#006aff 66.7%,#0048ff 75%,#002fff 83.3%,#001fff 91.7%,#0018ff)"></i><i style="background:linear-gradient(#c3ff00,#58ff00 8.3%,#0f0 15.9%,#00ff09 16.7%,#00ff61 25%,#00ffb0 33.3%,#00fff6 41.7%,#0ff 42.8%,#00cbff 50%,#0096ff 58.3%,#006bff 66.7%,#0049ff 75%,#002fff 83.3%,#001fff 91.7%,#0018ff)"></i><i style="background:linear-gradient(#c5ff00,#5bff00 8.3%,#0f0 16.1%,#00ff07 16.7%,#00ff5f 25%,#00ffae 33.3%,#00fff5 41.7%,#0ff 43%,#0cf 50%,#0097ff 58.3%,#006cff 66.7%,#0049ff 75%,#0030ff 83.3%,#001fff 91.7%,#0018ff)"></i><i style="background:linear-gradient(#c8ff00,#5dff00 8.3%,#0f0 16.3%,#00ff04 16.7%,#00ff5d 25%,#00ffac 33.3%,#00fff3 41.7%,#0ff 43.2%,#00cdff 50%,#09f 58.3%,#006dff 66.7%,#004aff 75%,#0030ff 83.3%,#0020ff 91.7%,#0018ff)"></i><i style="background:linear-gradient(#cbff00,#60ff00 8.3%,#0f0 16.5%,#00ff02 16.7%,#00ff5b 25%,#00ffab 33.3%,#00fff2 41.7%,#0ff 43.4%,#00cfff 50%,#009aff 58.3%,#006eff 66.7%,#004bff 75%,#0031ff 83.3%,#0020ff 91.7%,#0018ff)"></i><i style="background:linear-gradient(#cdff00,#62ff00 8.3%,#0f0 16.7%,#0f0 16.7%,#00ff59 25%,#00ffa9 33.3%,#00fff0 41.7%,#0ff 43.6%,#00d0ff 50%,#009bff 58.3%,#006fff 66.7%,#004cff 75%,#0031ff 83.3%,#0020ff 91.7%,#0018ff)"></i><i style="background:linear-gradient(#d0ff00,#65ff00 8.3%,#02ff00 16.7%,#0f0 16.9%,#00ff57 25%,#00ffa7 33.3%,#0fe 41.7%,#0ff 43.8%,#00d1ff 50%,#009cff 58.3%,#0070ff 66.7%,#004cff 75%,#0032ff 83.3%,#0020ff 91.7%,#0018ff)"></i><i style="background:linear-gradient(#d3ff00,#67ff00 8.3%,#05ff00 16.7%,#0f0 17.1%,#0f5 25%,#00ffa5 33.3%,#00ffed 41.7%,#0ff 44%,#00d3ff 50%,#009dff 58.3%,#0070ff 66.7%,#004dff 75%,#0032ff 83.3%,#0021ff 91.7%,#0018ff)"></i><i style="background:linear-gradient(#d5ff00,#6aff00 8.3%,#07ff00 16.7%,#0f0 17.3%,#00ff53 25%,#00ffa4 33.3%,#00ffeb 41.7%,#0ff 44.2%,#00d4ff 50%,#009eff 58.3%,#0071ff 66.7%,#004eff 75%,#03f 83.3%,#0021ff 91.7%,#0018ff)"></i><i style="background:linear-gradient(#d8ff00,#6cff00 8.3%,#09ff00 16.7%,#0f0 17.5%,#00ff51 25%,#00ffa2 33.3%,#00ffea 41.7%,#0ff 44.4%,#00d5ff 50%,#009fff 58.3%,#0072ff 66.7%,#004eff 75%,#03f 83.3%,#0021ff 91.7%,#0018ff)"></i><i style="background:linear-gradient(#daff00,#6eff00 8.3%,#0bff00 16.7%,#0f0 17.7%,#00ff4f 25%,#00ffa0 33.3%,#00ffe8 41.7%,#0ff 44.5%,#00d7ff 50%,#00a0ff 58.3%,#0073ff 66.7%,#004fff 75%,#0034ff 83.3%,#0021ff 91.7%,#0018ff)"></i><i style="background:linear-gradient(#df0,#71ff00 8.3%,#0dff00 16.7%,#0f0 17.8%,#00ff4d 25%,#00ff9e 33.3%,#00ffe7 41.7%,#0ff 44.7%,#00d8ff 50%,#00a2ff 58.3%,#0074ff 66.7%,#0050ff 75%,#0034ff 83.3%,#02f 91.7%,#0018ff)"></i><i style="background:linear-gradient(#e0ff00,#73ff00 8.3%,#0fff00 16.7%,#0f0 18%,#00ff4b 25%,#00ff9d 33.3%,#00ffe5 41.7%,#0ff 44.9%,#00d9ff 50%,#00a3ff 58.3%,#0075ff 66.7%,#0050ff 75%,#0035ff 83.3%,#02f 91.7%,#0018ff)"></i><i style="background:linear-gradient(#e2ff00,#75ff00 8.3%,#12ff00 16.7%,#0f0 18.2%,#00ff49 25%,#00ff9b 33.3%,#00ffe4 41.7%,#0ff 45.1%,#00dbff 50%,#00a4ff 58.3%,#0076ff 66.7%,#0051ff 75%,#0035ff 83.3%,#02f 91.7%,#0018ff)"></i><i style="background:linear-gradient(#e5ff00,#78ff00 8.3%,#14ff00 16.7%,#0f0 18.4%,#00ff47 25%,#0f9 33.3%,#00ffe2 41.7%,#0ff 45.3%,#00dcff 50%,#00a5ff 58.3%,#07f 66.7%,#0052ff 75%,#0036ff 83.3%,#0023ff 91.7%,#0018ff)"></i><i style="background:linear-gradient(#e7ff00,#7aff00 8.3%,#16ff00 16.7%,#0f0 18.6%,#00ff45 25%,#00ff97 33.3%,#00ffe1 41.7%,#0ff 45.5%,#0df 50%,#00a6ff 58.3%,#0078ff 66.7%,#0052ff 75%,#0036ff 83.3%,#0023ff 91.7%,#0019ff)"></i><i style="background:linear-gradient(#eaff00,#7cff00 8.3%,#18ff00 16.7%,#0f0 18.8%,#00ff43 25%,#00ff96 33.3%,#00ffdf 41.7%,#0ff 45.6%,#00deff 50%,#00a7ff 58.3%,#0079ff 66.7%,#0053ff 75%,#0037ff 83.3%,#0023ff 91.7%,#0019ff)"></i><i style="background:linear-gradient(#ecff00,#7fff00 8.3%,#1aff00 16.7%,#0f0 18.9%,#00ff42 25%,#00ff94 33.3%,#00ffde 41.7%,#0ff 45.8%,#00e0ff 50%,#00a8ff 58.3%,#0079ff 66.7%,#0054ff 75%,#0037ff 83.3%,#0023ff 91.7%,#0019ff)"></i><i style="background:linear-gradient(#efff00,#81ff00 8.3%,#1cff00 16.7%,#0f0 19.1%,#00ff40 25%,#00ff92 33.3%,#00ffdc 41.7%,#0ff 46%,#00e1ff 50%,#00a9ff 58.3%,#007aff 66.7%,#0054ff 75%,#0038ff 83.3%,#0024ff 91.7%,#0019ff)"></i><i style="background:linear-gradient(#f1ff00,#83ff00 8.3%,#1eff00 16.7%,#0f0 19.3%,#00ff3e 25%,#00ff91 33.3%,#00ffdb 41.7%,#0ff 46.2%,#00e2ff 50%,#0af 58.3%,#007bff 66.7%,#05f 75%,#0038ff 83.3%,#0024ff 91.7%,#0019ff)"></i><i style="background:linear-gradient(#f3ff00,#85ff00 8.3%,#20ff00 16.7%,#0f0 19.5%,#00ff3c 25%,#00ff8f 33.3%,#00ffd9 41.7%,#0ff 46.4%,#00e4ff 50%,#00abff 58.3%,#007cff 66.7%,#0056ff 75%,#0039ff 83.3%,#0024ff 91.7%,#0019ff)"></i><i style="background:linear-gradient(#f6ff00,#8f0 8.3%,#2f0 16.7%,#0f0 19.7%,#00ff3a 25%,#00ff8d 33.3%,#00ffd8 41.7%,#0ff 46.5%,#00e5ff 50%,#00acff 58.3%,#007dff 66.7%,#0057ff 75%,#0039ff 83.3%,#0025ff 91.7%,#0019ff)"></i><i style="background:linear-gradient(#f8ff00,#8aff00 8.3%,#24ff00 16.7%,#0f0 19.8%,#00ff38 25%,#00ff8c 33.3%,#00ffd6 41.7%,#0ff 46.7%,#00e6ff 50%,#00adff 58.3%,#007eff 66.7%,#0057ff 75%,#003aff 83.3%,#0025ff 91.7%,#0019ff)"></i><i style="background:linear-gradient(#fbff00,#8cff00 8.3%,#26ff00 16.7%,#0f0 20%,#00ff36 25%,#00ff8a 33.3%,#00ffd5 41.7%,#0ff 46.9%,#00e7ff 50%,#00afff 58.3%,#007fff 66.7%,#0058ff 75%,#003aff 83.3%,#0025ff 91.7%,#0019ff)"></i><i style="background:linear-gradient(#fdff00,#8eff00 8.3%,#28ff00 16.7%,#0f0 20.2%,#00ff35 25%,#0f8 33.3%,#00ffd3 41.7%,#0ff 47%,#00e9ff 50%,#00b0ff 58.3%,#0080ff 66.7%,#0059ff 75%,#003bff 83.3%,#0026ff 91.7%,#0019ff)"></i><i style="background:linear-gradient(#ff0,#ff0 0%,#90ff00 8.3%,#2aff00 16.7%,#0f0 20.3%,#0f3 25%,#00ff87 33.3%,#00ffd2 41.7%,#0ff 47.2%,#00eaff 50%,#00b1ff 58.3%,#0080ff 66.7%,#0059ff 75%,#003bff 83.3%,#0026ff 91.7%,#001aff)"></i><i style="background:linear-gradient(#fffc00,#ff0 0.2%,#93ff00 8.3%,#2cff00 16.7%,#0f0 20.5%,#00ff31 25%,#00ff85 33.3%,#00ffd1 41.7%,#0ff 47.4%,#00ebff 50%,#00b2ff 58.3%,#0081ff 66.7%,#005aff 75%,#003cff 83.3%,#0026ff 91.7%,#001aff)"></i><i style="background:linear-gradient(#fffa00,#ff0 0.4%,#95ff00 8.3%,#2eff00 16.7%,#0f0 20.7%,#00ff2f 25%,#00ff84 33.3%,#00ffcf 41.7%,#0ff 47.5%,#00ecff 50%,#00b3ff 58.3%,#0082ff 66.7%,#005bff 75%,#003cff 83.3%,#0026ff 91.7%,#001aff)"></i><i style="background:linear-gradient(#fff800,#ff0 0.5%,#97ff00 8.3%,#30ff00 16.7%,#0f0 20.9%,#00ff2d 25%,#00ff82 33.3%,#00ffce 41.7%,#0ff 47.7%,#0ef 50%,#00b4ff 58.3%,#0083ff 66.7%,#005bff 75%,#003dff 83.3%,#0027ff 91.7%,#001aff)"></i><i style="background:linear-gradient(#fff500,#ff0 0.7%,#9f0 8.3%,#32ff00 16.7%,#0f0 21%,#00ff2c 25%,#00ff80 33.3%,#0fc 41.7%,#0ff 47.9%,#00efff 50%,#00b5ff 58.3%,#0084ff 66.7%,#005cff 75%,#003dff 83.3%,#0027ff 91.7%,#001aff)"></i><i style="background:linear-gradient(#fff300,#ff0 0.9%,#9bff00 8.3%,#34ff00 16.7%,#0f0 21.2%,#00ff2a 25%,#00ff7f 33.3%,#00ffcb 41.7%,#0ff 48%,#00f0ff 50%,#00b6ff 58.3%,#0085ff 66.7%,#005dff 75%,#003eff 83.3%,#0027ff 91.7%,#001aff)"></i><i style="background:linear-gradient(#fff100,#ff0 1%,#9dff00 8.3%,#36ff00 16.7%,#0f0 21.3%,#00ff28 25%,#00ff7d 33.3%,#00ffca 41.7%,#0ff 48.2%,#00f1ff 50%,#00b7ff 58.3%,#0086ff 66.7%,#005dff 75%,#003eff 83.3%,#0028ff 91.7%,#001aff)"></i><i style="background:linear-gradient(#fe0,#ff0 1.2%,#9fff00 8.3%,#38ff00 16.7%,#0f0 21.5%,#00ff26 25%,#00ff7c 33.3%,#00ffc8 41.7%,#0ff 48.4%,#00f2ff 50%,#00b8ff 58.3%,#0087ff 66.7%,#005eff 75%,#003fff 83.3%,#0028ff 91.7%,#001bff)"></i><i style="background:linear-gradient(#ffec00,#ff0 1.4%,#a1ff00 8.3%,#3aff00 16.7%,#0f0 21.7%,#00ff25 25%,#00ff7a 33.3%,#00ffc7 41.7%,#0ff 48.5%,#00f4ff 50%,#00b9ff 58.3%,#0087ff 66.7%,#005fff 75%,#003fff 83.3%,#0028ff 91.7%,#001bff)"></i><i style="background:linear-gradient(#ffea00,#ff0 1.5%,#a3ff00 8.3%,#3cff00 16.7%,#0f0 21.8%,#00ff23 25%,#00ff79 33.3%,#00ffc5 41.7%,#0ff 48.7%,#00f5ff 50%,#00baff 58.3%,#08f 66.7%,#005fff 75%,#0040ff 83.3%,#0029ff 91.7%,#001bff)"></i><i style="background:linear-gradient(#ffe800,#ff0 1.7%,#a6ff00 8.3%,#3eff00 16.7%,#0f0 22%,#00ff21 25%,#0f7 33.3%,#00ffc4 41.7%,#0ff 48.8%,#00f6ff 50%,#0bf 58.3%,#0089ff 66.7%,#0060ff 75%,#0040ff 83.3%,#0029ff 91.7%,#001bff)"></i><i style="background:linear-gradient(#ffe500,#ff0 1.8%,#a8ff00 8.3%,#3fff00 16.7%,#0f0 22.1%,#00ff20 25%,#00ff76 33.3%,#00ffc3 41.7%,#0ff 49%,#00f7ff 50%,#00bcff 58.3%,#008aff 66.7%,#0061ff 75%,#0041ff 83.3%,#0029ff 91.7%,#001bff)"></i><i style="background:linear-gradient(#ffe300,#ff0 2%,#af0 8.3%,#41ff00 16.7%,#0f0 22.3%,#00ff1e 25%,#00ff74 33.3%,#00ffc1 41.7%,#0ff 49.1%,#00f8ff 50%,#00bdff 58.3%,#008bff 66.7%,#0062ff 75%,#0041ff 83.3%,#002aff 91.7%,#001bff)"></i><i style="background:linear-gradient(#ffe100,#ff0 2.1%,#acff00 8.3%,#43ff00 16.7%,#0f0 22.4%,#00ff1c 25%,#00ff73 33.3%,#00ffc0 41.7%,#0ff 49.3%,#00faff 50%,#00beff 58.3%,#008cff 66.7%,#0062ff 75%,#0042ff 83.3%,#002aff 91.7%,#001cff)"></i><i style="background:linear-gradient(#ffdf00,#ff0 2.3%,#aeff00 8.3%,#45ff00 16.7%,#0f0 22.6%,#00ff1b 25%,#00ff71 33.3%,#00ffbf 41.7%,#0ff 49.5%,#00fbff 50%,#00bfff 58.3%,#008dff 66.7%,#0063ff 75%,#0042ff 83.3%,#002bff 91.7%,#001cff)"></i><i style="background:linear-gradient(#fd0,#ff0 2.4%,#b0ff00 8.3%,#47ff00 16.7%,#0f0 22.8%,#00ff19 25%,#00ff70 33.3%,#00ffbd 41.7%,#0ff 49.6%,#00fcff 50%,#00c0ff 58.3%,#008dff 66.7%,#0064ff 75%,#0043ff 83.3%,#002bff 91.7%,#001cff)"></i><i style="background:linear-gradient(#ffdb00,#ff0 2.6%,#b2ff00 8.3%,#49ff00 16.7%,#0f0 22.9%,#00ff17 25%,#00ff6e 33.3%,#00ffbc 41.7%,#0ff 49.8%,#00fdff 50%,#00c1ff 58.3%,#008eff 66.7%,#0064ff 75%,#0043ff 83.3%,#002bff 91.7%,#001cff)"></i><i style="background:linear-gradient(#ffd900,#ff0 2.7%,#b4ff00 8.3%,#4aff00 16.7%,#0f0 23.1%,#00ff16 25%,#00ff6d 33.3%,#0fb 41.7%,#0ff 49.9%,#00feff 50%,#00c2ff 58.3%,#008fff 66.7%,#0065ff 75%,#04f 83.3%,#002cff 91.7%,#001cff)"></i><i style="background:linear-gradient(#ffd600,#ff0 2.9%,#b5ff00 8.3%,#4cff00 16.7%,#0f0 23.2%,#00ff14 25%,#00ff6b 33.3%,#00ffb9 41.7%,#0ff 50%,#0ff 50%,#00c3ff 58.3%,#0090ff 66.7%,#06f 75%,#04f 83.3%,#002cff 91.7%,#001dff)"></i><i style="background:linear-gradient(#ffd400,#ff0 3%,#b7ff00 8.3%,#4eff00 16.7%,#0f0 23.4%,#00ff12 25%,#00ff6a 33.3%,#00ffb8 41.7%,#00fffd 50%,#0ff 50.2%,#00c4ff 58.3%,#0091ff 66.7%,#06f 75%,#0045ff 83.3%,#002cff 91.7%,#001dff)"></i><i style="background:linear-gradient(#ffd200,#ff0 3.2%,#b9ff00 8.3%,#50ff00 16.7%,#0f0 23.5%,#0f1 25%,#00ff68 33.3%,#00ffb7 41.7%,#00fffc 50%,#0ff 50.3%,#00c5ff 58.3%,#0092ff 66.7%,#0067ff 75%,#0045ff 83.3%,#002dff 91.7%,#001dff)"></i><i style="background:linear-gradient(#ffd000,#ff0 3.3%,#bf0 8.3%,#51ff00 16.7%,#0f0 23.6%,#00ff0f 25%,#00ff67 33.3%,#00ffb5 41.7%,#00fffb 50%,#0ff 50.5%,#00c6ff 58.3%,#0092ff 66.7%,#0068ff 75%,#0046ff 83.3%,#002dff 91.7%,#001dff)"></i><i style="background:linear-gradient(#ffce00,#ff0 3.5%,#bdff00 8.3%,#53ff00 16.7%,#0f0 23.8%,#00ff0e 25%,#00ff65 33.3%,#00ffb4 41.7%,#00fffa 50%,#0ff 50.6%,#00c7ff 58.3%,#0093ff 66.7%,#0068ff 75%,#0046ff 83.3%,#002dff 91.7%,#001eff)"></i><i style="background:linear-gradient(#fc0,#ff0 3.6%,#bfff00 8.3%,#5f0 16.7%,#0f0 23.9%,#00ff0c 25%,#00ff64 33.3%,#00ffb3 41.7%,#00fff9 50%,#0ff 50.8%,#00c8ff 58.3%,#0094ff 66.7%,#0069ff 75%,#0047ff 83.3%,#002eff 91.7%,#001eff)"></i><i style="background:linear-gradient(#ffca00,#ff0 3.8%,#c1ff00 8.3%,#57ff00 16.7%,#0f0 24.1%,#00ff0a 25%,#00ff62 33.3%,#00ffb2 41.7%,#00fff8 50%,#0ff 50.9%,#00c9ff 58.3%,#0095ff 66.7%,#006aff 75%,#0047ff 83.3%,#002eff 91.7%,#001eff)"></i><i style="background:linear-gradient(#ffc800,#ff0 3.9%,#c3ff00 8.3%,#58ff00 16.7%,#0f0 24.2%,#00ff09 25%,#00ff61 33.3%,#00ffb0 41.7%,#00fff7 50%,#0ff 51.1%,#00caff 58.3%,#0096ff 66.7%,#006aff 75%,#0048ff 83.3%,#002fff 91.7%,#001eff)"></i><i style="background:linear-gradient(#ffc600,#ff0 4%,#c5ff00 8.3%,#5aff00 16.7%,#0f0 24.3%,#00ff07 25%,#00ff60 33.3%,#00ffaf 41.7%,#00fff6 50%,#0ff 51.2%,#00cbff 58.3%,#0097ff 66.7%,#006bff 75%,#0049ff 83.3%,#002fff 91.7%,#001eff)"></i><i style="background:linear-gradient(#ffc400,#ff0 4.2%,#c6ff00 8.3%,#5cff00 16.7%,#0f0 24.5%,#00ff06 25%,#00ff5e 33.3%,#00ffae 41.7%,#00fff4 50%,#0ff 51.3%,#0cf 58.3%,#0097ff 66.7%,#006cff 75%,#0049ff 83.3%,#002fff 91.7%,#001fff)"></i><i style="background:linear-gradient(#ffc200,#ff0 4.3%,#c8ff00 8.3%,#5dff00 16.7%,#0f0 24.6%,#00ff04 25%,#00ff5d 33.3%,#00ffad 41.7%,#00fff3 50%,#0ff 51.5%,#00cdff 58.3%,#0098ff 66.7%,#006cff 75%,#004aff 83.3%,#0030ff 91.7%,#001fff)"></i><i style="background:linear-gradient(#ffc000,#ff0 4.4%,#caff00 8.3%,#5fff00 16.7%,#0f0 24.8%,#00ff03 25%,#00ff5b 33.3%,#00ffab 41.7%,#00fff2 50%,#0ff 51.6%,#00ceff 58.3%,#09f 66.7%,#006dff 75%,#004aff 83.3%,#0030ff 91.7%,#001fff)"></i><i style="background:linear-gradient(#ffbe00,#ff0 4.6%,#cf0 8.3%,#61ff00 16.7%,#0f0 24.9%,#00ff01 25%,#00ff5a 33.3%,#0fa 41.7%,#00fff1 50%,#0ff 51.8%,#00cfff 58.3%,#009aff 66.7%,#006eff 75%,#004bff 83.3%,#0031ff 91.7%,#0020ff)"></i><i style="background:linear-gradient(#ffbc00,#ff0 4.7%,#ceff00 8.3%,#62ff00 16.7%,#0f0 25%,#0f0 25%,#00ff59 33.3%,#00ffa9 41.7%,#00fff0 50%,#0ff 51.9%,#00d0ff 58.3%,#009bff 66.7%,#006eff 75%,#004bff 83.3%,#0031ff 91.7%,#0020ff)"></i><i style="background:linear-gradient(#fb0,#ff0 4.8%,#cfff00 8.3%,#64ff00 16.7%,#02ff00 25%,#0f0 25.2%,#00ff57 33.3%,#00ffa8 41.7%,#00ffef 50%,#0ff 52%,#00d1ff 58.3%,#009bff 66.7%,#006fff 75%,#004cff 83.3%,#0031ff 91.7%,#0020ff)"></i><i style="background:linear-gradient(#ffb900,#ff0 5%,#d1ff00 8.3%,#6f0 16.7%,#03ff00 25%,#0f0 25.3%,#00ff56 33.3%,#00ffa6 41.7%,#0fe 50%,#0ff 52.2%,#00d2ff 58.3%,#009cff 66.7%,#0070ff 75%,#004cff 83.3%,#0032ff 91.7%,#0020ff)"></i><i style="background:linear-gradient(#ffb700,#ff0 5.1%,#d3ff00 8.3%,#67ff00 16.7%,#05ff00 25%,#0f0 25.4%,#0f5 33.3%,#00ffa5 41.7%,#00ffed 50%,#0ff 52.3%,#00d3ff 58.3%,#009dff 66.7%,#0070ff 75%,#004dff 83.3%,#0032ff 91.7%,#0021ff)"></i><i style="background:linear-gradient(#ffb500,#ff0 5.2%,#d5ff00 8.3%,#69ff00 16.7%,#06ff00 25%,#0f0 25.6%,#00ff53 33.3%,#00ffa4 41.7%,#00ffec 50%,#0ff 52.4%,#00d4ff 58.3%,#009eff 66.7%,#0071ff 75%,#004dff 83.3%,#03f 91.7%,#0021ff)"></i><i style="background:linear-gradient(#ffb300,#ff0 5.3%,#d6ff00 8.3%,#6aff00 16.7%,#08ff00 25%,#0f0 25.7%,#00ff52 33.3%,#00ffa3 41.7%,#00ffeb 50%,#0ff 52.6%,#00d5ff 58.3%,#009fff 66.7%,#0072ff 75%,#004eff 83.3%,#03f 91.7%,#0021ff)"></i><i style="background:linear-gradient(#ffb100,#ff0 5.5%,#d8ff00 8.3%,#6cff00 16.7%,#09ff00 25%,#0f0 25.8%,#00ff51 33.3%,#00ffa2 41.7%,#00ffea 50%,#0ff 52.7%,#00d5ff 58.3%,#009fff 66.7%,#0073ff 75%,#004fff 83.3%,#0034ff 91.7%,#0021ff)"></i><i style="background:linear-gradient(#ffaf00,#ff0 5.6%,#daff00 8.3%,#6eff00 16.7%,#0bff00 25%,#0f0 25.9%,#00ff4f 33.3%,#00ffa1 41.7%,#00ffe9 50%,#0ff 52.8%,#00d6ff 58.3%,#00a0ff 66.7%,#0073ff 75%,#004fff 83.3%,#0034ff 91.7%,#02f)"></i><i style="background:linear-gradient(#ffae00,#ff0 5.7%,#dbff00 8.3%,#6fff00 16.7%,#0cff00 25%,#0f0 26.1%,#00ff4e 33.3%,#00ff9f 41.7%,#00ffe7 50%,#0ff 53%,#00d7ff 58.3%,#00a1ff 66.7%,#0074ff 75%,#0050ff 83.3%,#0034ff 91.7%,#02f)"></i><i style="background:linear-gradient(#ffac00,#ff0 5.8%,#df0 8.3%,#71ff00 16.7%,#0dff00 25%,#0f0 26.2%,#00ff4d 33.3%,#00ff9e 41.7%,#00ffe6 50%,#0ff 53.1%,#00d8ff 58.3%,#00a2ff 66.7%,#0075ff 75%,#0050ff 83.3%,#0035ff 91.7%,#02f)"></i><i style="background:linear-gradient(#fa0,#ff0 6%,#dfff00 8.3%,#72ff00 16.7%,#0fff00 25%,#0f0 26.3%,#00ff4c 33.3%,#00ff9d 41.7%,#00ffe5 50%,#0ff 53.2%,#00d9ff 58.3%,#00a3ff 66.7%,#0075ff 75%,#0051ff 83.3%,#0035ff 91.7%,#0023ff)"></i><i style="background:linear-gradient(#ffa800,#ff0 6.1%,#e0ff00 8.3%,#74ff00 16.7%,#10ff00 25%,#0f0 26.4%,#00ff4a 33.3%,#00ff9c 41.7%,#00ffe4 50%,#0ff 53.3%,#00daff 58.3%,#00a3ff 66.7%,#0076ff 75%,#0051ff 83.3%,#0036ff 91.7%,#0023ff)"></i><i style="background:linear-gradient(#ffa700,#ff0 6.2%,#e2ff00 8.3%,#75ff00 16.7%,#12ff00 25%,#0f0 26.6%,#00ff49 33.3%,#00ff9b 41.7%,#00ffe3 50%,#0ff 53.5%,#00dbff 58.3%,#00a4ff 66.7%,#07f 75%,#0052ff 83.3%,#0036ff 91.7%,#0023ff)"></i><i style="background:linear-gradient(#ffa500,#ff0 6.3%,#e3ff00 8.3%,#7f0 16.7%,#13ff00 25%,#0f0 26.7%,#00ff48 33.3%,#00ff9a 41.7%,#00ffe2 50%,#0ff 53.6%,#00dcff 58.3%,#00a5ff 66.7%,#07f 75%,#0052ff 83.3%,#0037ff 91.7%,#0024ff)"></i><i style="background:linear-gradient(#ffa300,#ff0 6.4%,#e5ff00 8.3%,#78ff00 16.7%,#14ff00 25%,#0f0 26.8%,#00ff47 33.3%,#00ff98 41.7%,#00ffe1 50%,#0ff 53.7%,#0df 58.3%,#00a6ff 66.7%,#0078ff 75%,#0053ff 83.3%,#0037ff 91.7%,#0024ff)"></i><i style="background:linear-gradient(#ffa200,#ff0 6.6%,#e7ff00 8.3%,#7aff00 16.7%,#16ff00 25%,#0f0 26.9%,#00ff45 33.3%,#00ff97 41.7%,#00ffe0 50%,#0ff 53.8%,#00deff 58.3%,#00a7ff 66.7%,#0079ff 75%,#0054ff 83.3%,#0037ff 91.7%,#0024ff)"></i><i style="background:linear-gradient(#ffa000,#ff0 6.7%,#e8ff00 8.3%,#7bff00 16.7%,#17ff00 25%,#0f0 27%,#0f4 33.3%,#00ff96 41.7%,#00ffdf 50%,#0ff 54%,#00dfff 58.3%,#00a7ff 66.7%,#0079ff 75%,#0054ff 83.3%,#0038ff 91.7%,#0025ff)"></i><i style="background:linear-gradient(#ff9e00,#ff0 6.8%,#eaff00 8.3%,#7cff00 16.7%,#18ff00 25%,#0f0 27.2%,#00ff43 33.3%,#00ff95 41.7%,#00ffde 50%,#0ff 54.1%,#00e0ff 58.3%,#00a8ff 66.7%,#007aff 75%,#05f 83.3%,#0038ff 91.7%,#0025ff)"></i><i style="background:linear-gradient(#ff9d00,#ff0 6.9%,#ebff00 8.3%,#7eff00 16.7%,#1aff00 25%,#0f0 27.3%,#00ff42 33.3%,#00ff94 41.7%,#0fd 50%,#0ff 54.2%,#00e0ff 58.3%,#00a9ff 66.7%,#007bff 75%,#05f 83.3%,#0039ff 91.7%,#0025ff)"></i><i style="background:linear-gradient(#ff9b00,#ff0 7%,#edff00 8.3%,#7fff00 16.7%,#1bff00 25%,#0f0 27.4%,#00ff40 33.3%,#00ff93 41.7%,#00ffdc 50%,#0ff 54.3%,#00e1ff 58.3%,#0af 66.7%,#007bff 75%,#0056ff 83.3%,#0039ff 91.7%,#0026ff)"></i><i style="background:linear-gradient(#f90,#ff0 7.1%,#ef0 8.3%,#81ff00 16.7%,#1cff00 25%,#0f0 27.5%,#00ff3f 33.3%,#00ff92 41.7%,#00ffdb 50%,#0ff 54.5%,#00e2ff 58.3%,#00abff 66.7%,#007cff 75%,#0056ff 83.3%,#003aff 91.7%,#0026ff)"></i><i style="background:linear-gradient(#ff9800,#ff0 7.2%,#f0ff00 8.3%,#82ff00 16.7%,#1eff00 25%,#0f0 27.6%,#00ff3e 33.3%,#00ff91 41.7%,#00ffda 50%,#0ff 54.6%,#00e3ff 58.3%,#00abff 66.7%,#007dff 75%,#0057ff 83.3%,#003aff 91.7%,#0026ff)"></i><i style="background:linear-gradient(#ff9600,#ff0 7.3%,#f1ff00 8.3%,#84ff00 16.7%,#1fff00 25%,#0f0 27.7%,#00ff3d 33.3%,#00ff90 41.7%,#00ffd9 50%,#0ff 54.7%,#00e4ff 58.3%,#00acff 66.7%,#007dff 75%,#0058ff 83.3%,#003bff 91.7%,#0027ff)"></i><i style="background:linear-gradient(#ff9500,#ff0 7.4%,#f3ff00 8.3%,#85ff00 16.7%,#20ff00 25%,#0f0 27.8%,#00ff3c 33.3%,#00ff8f 41.7%,#00ffd8 50%,#0ff 54.8%,#00e5ff 58.3%,#00adff 66.7%,#007eff 75%,#0058ff 83.3%,#003bff 91.7%,#0027ff)"></i><i style="background:linear-gradient(#ff9300,#ff0 7.5%,#f4ff00 8.3%,#86ff00 16.7%,#21ff00 25%,#0f0 27.9%,#00ff3a 33.3%,#00ff8d 41.7%,#00ffd7 50%,#0ff 54.9%,#00e6ff 58.3%,#00aeff 66.7%,#007fff 75%,#0059ff 83.3%,#003cff 91.7%,#0028ff)"></i><i style="background:linear-gradient(#ff9100,#ff0 7.6%,#f6ff00 8.3%,#8f0 16.7%,#23ff00 25%,#0f0 28%,#00ff39 33.3%,#00ff8c 41.7%,#00ffd6 50%,#0ff 55.1%,#00e7ff 58.3%,#00aeff 66.7%,#007fff 75%,#0059ff 83.3%,#003cff 91.7%,#0028ff)"></i><i style="background:linear-gradient(#ff9000,#ff0 7.8%,#f7ff00 8.3%,#89ff00 16.7%,#24ff00 25%,#0f0 28.1%,#00ff38 33.3%,#00ff8b 41.7%,#00ffd5 50%,#0ff 55.2%,#00e7ff 58.3%,#00afff 66.7%,#0080ff 75%,#005aff 83.3%,#003dff 91.7%,#0028ff)"></i><i style="background:linear-gradient(#ff8e00,#ff0 7.9%,#f9ff00 8.3%,#8aff00 16.7%,#25ff00 25%,#0f0 28.3%,#00ff37 33.3%,#00ff8a 41.7%,#00ffd5 50%,#0ff 55.3%,#00e8ff 58.3%,#00b0ff 66.7%,#0081ff 75%,#005aff 83.3%,#003dff 91.7%,#0029ff)"></i><i style="background:linear-gradient(#ff8d00,#ff0 8%,#faff00 8.3%,#8cff00 16.7%,#26ff00 25%,#0f0 28.4%,#00ff36 33.3%,#00ff89 41.7%,#00ffd4 50%,#0ff 55.4%,#00e9ff 58.3%,#00b1ff 66.7%,#0081ff 75%,#005bff 83.3%,#003eff 91.7%,#0029ff)"></i><i style="background:linear-gradient(#ff8b00,#ff0 8.1%,#fbff00 8.3%,#8dff00 16.7%,#28ff00 25%,#0f0 28.5%,#00ff35 33.3%,#0f8 41.7%,#00ffd3 50%,#0ff 55.5%,#00eaff 58.3%,#00b1ff 66.7%,#0082ff 75%,#005cff 83.3%,#003eff 91.7%,#002aff)"></i><i style="background:linear-gradient(#ff8a00,#ff0 8.2%,#fdff00 8.3%,#8eff00 16.7%,#29ff00 25%,#0f0 28.6%,#00ff34 33.3%,#00ff87 41.7%,#00ffd2 50%,#0ff 55.6%,#00ebff 58.3%,#00b2ff 66.7%,#0083ff 75%,#005cff 83.3%,#003fff 91.7%,#002aff)"></i><i style="background:linear-gradient(#f80,#ff0 8.3%,#feff00 8.3%,#8fff00 16.7%,#2aff00 25%,#0f0 28.7%,#0f3 33.3%,#00ff86 41.7%,#00ffd1 50%,#0ff 55.8%,#00ecff 58.3%,#00b3ff 66.7%,#0083ff 75%,#005dff 83.3%,#003fff 91.7%,#002aff)"></i><i style="background:linear-gradient(#ff8700,#ff0 8.3%,#ff0 8.4%,#91ff00 16.7%,#2bff00 25%,#0f0 28.8%,#00ff31 33.3%,#00ff85 41.7%,#00ffd0 50%,#0ff 55.9%,#00ecff 58.3%,#00b4ff 66.7%,#0084ff 75%,#005dff 83.3%,#0040ff 91.7%,#002bff)"></i><i style="background:linear-gradient(#ff8600,#fffd00 8.3%,#ff0 8.5%,#92ff00 16.7%,#2cff00 25%,#0f0 28.9%,#00ff30 33.3%,#00ff84 41.7%,#00ffcf 50%,#0ff 56%,#00edff 58.3%,#00b4ff 66.7%,#0085ff 75%,#005eff 83.3%,#0040ff 91.7%,#002bff)"></i><i style="background:linear-gradient(#ff8400,#fffc00 8.3%,#ff0 8.6%,#93ff00 16.7%,#2dff00 25%,#0f0 29%,#00ff2f 33.3%,#00ff83 41.7%,#00ffce 50%,#0ff 56.1%,#0ef 58.3%,#00b5ff 66.7%,#0085ff 75%,#005eff 83.3%,#0041ff 91.7%,#002cff)"></i><i style="background:linear-gradient(#ff8300,#fffb00 8.3%,#ff0 8.6%,#94ff00 16.7%,#2fff00 25%,#0f0 29.1%,#00ff2e 33.3%,#00ff82 41.7%,#00ffcd 50%,#0ff 56.2%,#00efff 58.3%,#00b6ff 66.7%,#0086ff 75%,#005fff 83.3%,#0041ff 91.7%,#002cff)"></i><i style="background:linear-gradient(#ff8100,#fff900 8.3%,#ff0 8.7%,#96ff00 16.7%,#30ff00 25%,#0f0 29.2%,#00ff2d 33.3%,#00ff81 41.7%,#0fc 50%,#0ff 56.3%,#00f0ff 58.3%,#00b7ff 66.7%,#0087ff 75%,#0060ff 83.3%,#0042ff 91.7%,#002cff)"></i><i style="background:linear-gradient(#ff8000,#fff800 8.3%,#ff0 8.8%,#97ff00 16.7%,#31ff00 25%,#0f0 29.3%,#00ff2c 33.3%,#00ff80 41.7%,#00ffcb 50%,#0ff 56.4%,#00f1ff 58.3%,#00b7ff 66.7%,#0087ff 75%,#0060ff 83.3%,#0042ff 91.7%,#002dff)"></i><i style="background:linear-gradient(#ff7f00,#fff700 8.3%,#ff0 8.9%,#98ff00 16.7%,#32ff00 25%,#0f0 29.4%,#00ff2b 33.3%,#00ff7f 41.7%,#00ffca 50%,#0ff 56.5%,#00f1ff 58.3%,#00b8ff 66.7%,#08f 75%,#0061ff 83.3%,#0043ff 91.7%,#002dff)"></i><i style="background:linear-gradient(#ff7d00,#fff500 8.3%,#ff0 9%,#9f0 16.7%,#3f0 25%,#0f0 29.5%,#00ff2a 33.3%,#00ff7e 41.7%,#00ffc9 50%,#0ff 56.6%,#00f2ff 58.3%,#00b9ff 66.7%,#0089ff 75%,#0061ff 83.3%,#0043ff 91.7%,#002eff)"></i><i style="background:linear-gradient(#ff7c00,#fff400 8.3%,#ff0 9.1%,#9aff00 16.7%,#34ff00 25%,#0f0 29.6%,#00ff29 33.3%,#00ff7d 41.7%,#00ffc9 50%,#0ff 56.8%,#00f3ff 58.3%,#00baff 66.7%,#0089ff 75%,#0062ff 83.3%,#04f 91.7%,#002eff)"></i><i style="background:linear-gradient(#ff7b00,#fff300 8.3%,#ff0 9.2%,#9cff00 16.7%,#35ff00 25%,#0f0 29.7%,#00ff28 33.3%,#00ff7c 41.7%,#00ffc8 50%,#0ff 56.9%,#00f4ff 58.3%,#00baff 66.7%,#008aff 75%,#0063ff 83.3%,#04f 91.7%,#002fff)"></i><i style="background:linear-gradient(#ff7900,#fff200 8.3%,#ff0 9.3%,#9dff00 16.7%,#36ff00 25%,#0f0 29.8%,#00ff27 33.3%,#00ff7b 41.7%,#00ffc7 50%,#0ff 57%,#00f5ff 58.3%,#0bf 66.7%,#008bff 75%,#0063ff 83.3%,#0045ff 91.7%,#002fff)"></i><i style="background:linear-gradient(#ff7800,#fff100 8.3%,#ff0 9.4%,#9eff00 16.7%,#38ff00 25%,#0f0 29.8%,#00ff26 33.3%,#00ff7a 41.7%,#00ffc6 50%,#0ff 57.1%,#00f6ff 58.3%,#00bcff 66.7%,#008bff 75%,#0064ff 83.3%,#0045ff 91.7%,#0030ff)"></i><i style="background:linear-gradient(#f70,#ffef00 8.3%,#ff0 9.5%,#9fff00 16.7%,#39ff00 25%,#0f0 29.9%,#00ff25 33.3%,#00ff7a 41.7%,#00ffc5 50%,#0ff 57.2%,#00f6ff 58.3%,#00bdff 66.7%,#008cff 75%,#0064ff 83.3%,#0046ff 91.7%,#0030ff)"></i><i style="background:linear-gradient(#ff7600,#fe0 8.3%,#ff0 9.6%,#a0ff00 16.7%,#3aff00 25%,#0f0 30%,#00ff24 33.3%,#00ff79 41.7%,#00ffc4 50%,#0ff 57.3%,#00f7ff 58.3%,#00bdff 66.7%,#008dff 75%,#0065ff 83.3%,#0046ff 91.7%,#0031ff)"></i><i style="background:linear-gradient(#ff7400,#ffed00 8.3%,#ff0 9.6%,#a1ff00 16.7%,#3bff00 25%,#0f0 30.1%,#00ff23 33.3%,#00ff78 41.7%,#00ffc3 50%,#0ff 57.4%,#00f8ff 58.3%,#00beff 66.7%,#008dff 75%,#06f 83.3%,#0047ff 91.7%,#0031ff)"></i><i style="background:linear-gradient(#ff7300,#ffec00 8.3%,#ff0 9.7%,#a2ff00 16.7%,#3cff00 25%,#0f0 30.2%,#0f2 33.3%,#0f7 41.7%,#00ffc3 50%,#0ff 57.5%,#00f9ff 58.3%,#00bfff 66.7%,#008eff 75%,#06f 83.3%,#0047ff 91.7%,#0032ff)"></i><i style="background:linear-gradient(#ff7200,#ffeb00 8.3%,#ff0 9.8%,#a3ff00 16.7%,#3dff00 25%,#0f0 30.3%,#00ff21 33.3%,#00ff76 41.7%,#00ffc2 50%,#0ff 57.6%,#00f9ff 58.3%,#00c0ff 66.7%,#008fff 75%,#0067ff 83.3%,#0048ff 91.7%,#0032ff)"></i><i style="background:linear-gradient(#ff7100,#ffea00 8.3%,#ff0 9.9%,#a5ff00 16.7%,#3eff00 25%,#0f0 30.4%,#00ff20 33.3%,#00ff75 41.7%,#00ffc1 50%,#0ff 57.7%,#00faff 58.3%,#00c0ff 66.7%,#008fff 75%,#0067ff 83.3%,#0048ff 91.7%,#03f)"></i><i style="background:linear-gradient(#ff7000,#ffe800 8.3%,#ff0 10%,#a6ff00 16.7%,#3fff00 25%,#0f0 30.5%,#00ff1f 33.3%,#00ff74 41.7%,#00ffc0 50%,#0ff 57.8%,#00fbff 58.3%,#00c1ff 66.7%,#0090ff 75%,#0068ff 83.3%,#0049ff 91.7%,#03f)"></i><i style="background:linear-gradient(#ff6e00,#ffe700 8.3%,#ff0 10%,#a7ff00 16.7%,#40ff00 25%,#0f0 30.6%,#00ff1e 33.3%,#00ff73 41.7%,#00ffbf 50%,#0ff 57.9%,#00fcff 58.3%,#00c2ff 66.7%,#0091ff 75%,#0069ff 83.3%,#004aff 91.7%,#03f)"></i><i style="background:linear-gradient(#ff6d00,#ffe600 8.3%,#ff0 10.1%,#a8ff00 16.7%,#41ff00 25%,#0f0 30.6%,#00ff1d 33.3%,#00ff72 41.7%,#00ffbe 50%,#0ff 58%,#00fdff 58.3%,#00c2ff 66.7%,#0091ff 75%,#0069ff 83.3%,#004aff 91.7%,#0034ff)"></i><i style="background:linear-gradient(#ff6c00,#ffe500 8.3%,#ff0 10.2%,#a9ff00 16.7%,#42ff00 25%,#0f0 30.7%,#00ff1c 33.3%,#00ff71 41.7%,#00ffbe 50%,#0ff 58.1%,#00fdff 58.3%,#00c3ff 66.7%,#0092ff 75%,#006aff 83.3%,#004bff 91.7%,#0035ff)"></i><i style="background:linear-gradient(#ff6b00,#ffe400 8.3%,#ff0 10.3%,#af0 16.7%,#43ff00 25%,#0f0 30.8%,#00ff1b 33.3%,#00ff71 41.7%,#00ffbd 50%,#0ff 58.2%,#00feff 58.3%,#00c4ff 66.7%,#0093ff 75%,#006bff 83.3%,#004bff 91.7%,#0035ff)"></i><i style="background:linear-gradient(#ff6a00,#ffe300 8.3%,#ff0 10.3%,#abff00 16.7%,#4f0 25%,#0f0 30.9%,#00ff1a 33.3%,#00ff70 41.7%,#00ffbc 50%,#0ff 58.3%,#0ff 58.3%,#00c5ff 66.7%,#0093ff 75%,#006bff 83.3%,#004cff 91.7%,#0036ff)"></i><i style="background:linear-gradient(#ff6900,#ffe200 8.3%,#ff0 10.4%,#acff00 16.7%,#45ff00 25%,#0f0 31%,#00ff1a 33.3%,#00ff6f 41.7%,#0fb 50%,#00fffe 58.3%,#0ff 58.4%,#00c5ff 66.7%,#0094ff 75%,#006cff 83.3%,#004cff 91.7%,#0036ff)"></i><i style="background:linear-gradient(#ff6800,#ffe100 8.3%,#ff0 10.5%,#adff00 16.7%,#46ff00 25%,#0f0 31.1%,#00ff19 33.3%,#00ff6e 41.7%,#00ffba 50%,#00fffe 58.3%,#0ff 58.5%,#00c6ff 66.7%,#0095ff 75%,#006cff 83.3%,#004dff 91.7%,#0037ff)"></i><i style="background:linear-gradient(#ff6700,#ffe000 8.3%,#ff0 10.6%,#aeff00 16.7%,#46ff00 25%,#0f0 31.1%,#00ff18 33.3%,#00ff6d 41.7%,#00ffba 50%,#00fffd 58.3%,#0ff 58.6%,#00c7ff 66.7%,#0095ff 75%,#006dff 83.3%,#004eff 91.7%,#0037ff)"></i><i style="background:linear-gradient(#f60,#ffdf00 8.3%,#ff0 10.6%,#afff00 16.7%,#47ff00 25%,#0f0 31.2%,#00ff17 33.3%,#00ff6c 41.7%,#00ffb9 50%,#00fffc 58.3%,#0ff 58.7%,#00c7ff 66.7%,#0096ff 75%,#006eff 83.3%,#004eff 91.7%,#0038ff)"></i><i style="background:linear-gradient(#ff6500,#ffde00 8.3%,#ff0 10.7%,#b0ff00 16.7%,#48ff00 25%,#0f0 31.3%,#00ff16 33.3%,#00ff6c 41.7%,#00ffb8 50%,#00fffb 58.3%,#0ff 58.8%,#00c8ff 66.7%,#0097ff 75%,#006eff 83.3%,#004fff 91.7%,#0038ff)"></i><i style="background:linear-gradient(#ff6400,#fd0 8.3%,#ff0 10.8%,#b1ff00 16.7%,#49ff00 25%,#0f0 31.4%,#00ff15 33.3%,#00ff6b 41.7%,#00ffb7 50%,#00fffb 58.3%,#0ff 58.9%,#00c9ff 66.7%,#0097ff 75%,#006fff 83.3%,#004fff 91.7%,#0039ff)"></i><i style="background:linear-gradient(#ff6300,#ffdc00 8.3%,#ff0 10.8%,#b1ff00 16.7%,#4aff00 25%,#0f0 31.5%,#00ff14 33.3%,#00ff6a 41.7%,#00ffb6 50%,#00fffa 58.3%,#0ff 59%,#00caff 66.7%,#0098ff 75%,#006fff 83.3%,#0050ff 91.7%,#0039ff)"></i><i style="background:linear-gradient(#ff6200,#ffdb00 8.3%,#ff0 10.9%,#b2ff00 16.7%,#4bff00 25%,#0f0 31.5%,#00ff14 33.3%,#00ff69 41.7%,#00ffb6 50%,#00fff9 58.3%,#0ff 59.1%,#00caff 66.7%,#09f 75%,#0070ff 83.3%,#0050ff 91.7%,#003aff)"></i><i style="background:linear-gradient(#ff6100,#ffda00 8.3%,#ff0 11%,#b3ff00 16.7%,#4cff00 25%,#0f0 31.6%,#00ff13 33.3%,#00ff68 41.7%,#00ffb5 50%,#00fff8 58.3%,#0ff 59.2%,#00cbff 66.7%,#09f 75%,#0071ff 83.3%,#0051ff 91.7%,#003aff)"></i><i style="background:linear-gradient(#ff6000,#ffd900 8.3%,#ff0 11.1%,#b4ff00 16.7%,#4dff00 25%,#0f0 31.7%,#00ff12 33.3%,#00ff68 41.7%,#00ffb4 50%,#00fff8 58.3%,#0ff 59.3%,#0cf 66.7%,#009aff 75%,#0071ff 83.3%,#0052ff 91.7%,#003bff)"></i><i style="background:linear-gradient(#ff5f00,#ffd800 8.3%,#ff0 11.1%,#b5ff00 16.7%,#4eff00 25%,#0f0 31.8%,#0f1 33.3%,#00ff67 41.7%,#00ffb3 50%,#00fff7 58.3%,#0ff 59.4%,#0cf 66.7%,#009bff 75%,#0072ff 83.3%,#0052ff 91.7%,#003cff)"></i><i style="background:linear-gradient(#ff5e00,#ffd700 8.3%,#ff0 11.2%,#b6ff00 16.7%,#4eff00 25%,#0f0 31.8%,#00ff10 33.3%,#0f6 41.7%,#00ffb3 50%,#00fff6 58.3%,#0ff 59.5%,#00cdff 66.7%,#009bff 75%,#0073ff 83.3%,#0053ff 91.7%,#003cff)"></i><i style="background:linear-gradient(#ff5d00,#ffd700 8.3%,#ff0 11.2%,#b7ff00 16.7%,#4fff00 25%,#0f0 31.9%,#00ff0f 33.3%,#00ff65 41.7%,#00ffb2 50%,#00fff6 58.3%,#0ff 59.6%,#00ceff 66.7%,#009cff 75%,#0073ff 83.3%,#0053ff 91.7%,#003dff)"></i><i style="background:linear-gradient(#ff5c00,#ffd600 8.3%,#ff0 11.3%,#b8ff00 16.7%,#50ff00 25%,#0f0 32%,#00ff0f 33.3%,#00ff64 41.7%,#00ffb1 50%,#00fff5 58.3%,#0ff 59.7%,#00ceff 66.7%,#009dff 75%,#0074ff 83.3%,#0054ff 91.7%,#003dff)"></i><i style="background:linear-gradient(#ff5b00,#ffd500 8.3%,#ff0 11.4%,#b8ff00 16.7%,#51ff00 25%,#0f0 32.1%,#00ff0e 33.3%,#00ff64 41.7%,#00ffb0 50%,#00fff4 58.3%,#0ff 59.8%,#00cfff 66.7%,#009dff 75%,#0075ff 83.3%,#05f 91.7%,#003eff)"></i><i style="background:linear-gradient(#ff5a00,#ffd400 8.3%,#ff0 11.4%,#b9ff00 16.7%,#52ff00 25%,#0f0 32.1%,#00ff0d 33.3%,#00ff63 41.7%,#00ffb0 50%,#00fff3 58.3%,#0ff 59.9%,#00d0ff 66.7%,#009eff 75%,#0075ff 83.3%,#05f 91.7%,#003eff)"></i><i style="background:linear-gradient(#ff5900,#ffd300 8.3%,#ff0 11.5%,#baff00 16.7%,#52ff00 25%,#0f0 32.2%,#00ff0c 33.3%,#00ff62 41.7%,#00ffaf 50%,#00fff3 58.3%,#0ff 60%,#00d0ff 66.7%,#009fff 75%,#0076ff 83.3%,#0056ff 91.7%,#003fff)"></i><i style="background:linear-gradient(#ff5900,#ffd200 8.3%,#ff0 11.6%,#bf0 16.7%,#53ff00 25%,#0f0 32.3%,#00ff0c 33.3%,#00ff61 41.7%,#00ffae 50%,#00fff2 58.3%,#0ff 60.1%,#00d1ff 66.7%,#009fff 75%,#0076ff 83.3%,#0057ff 91.7%,#0040ff)"></i><i style="background:linear-gradient(#ff5800,#ffd200 8.3%,#ff0 11.6%,#bcff00 16.7%,#54ff00 25%,#0f0 32.3%,#00ff0b 33.3%,#00ff61 41.7%,#00ffad 50%,#00fff1 58.3%,#0ff 60.2%,#00d2ff 66.7%,#00a0ff 75%,#07f 83.3%,#0057ff 91.7%,#0040ff)"></i><i style="background:linear-gradient(#ff5700,#ffd100 8.3%,#ff0 11.7%,#bcff00 16.7%,#5f0 25%,#0f0 32.4%,#00ff0a 33.3%,#00ff60 41.7%,#00ffad 50%,#00fff1 58.3%,#0ff 60.3%,#00d2ff 66.7%,#00a1ff 75%,#0078ff 83.3%,#0058ff 91.7%,#0041ff)"></i><i style="background:linear-gradient(#ff5600,#ffd000 8.3%,#ff0 11.7%,#bdff00 16.7%,#5f0 25%,#0f0 32.5%,#00ff09 33.3%,#00ff5f 41.7%,#00ffac 50%,#00fff0 58.3%,#0ff 60.4%,#00d3ff 66.7%,#00a1ff 75%,#0078ff 83.3%,#0058ff 91.7%,#0042ff)"></i><i style="background:linear-gradient(#f50,#ffcf00 8.3%,#ff0 11.8%,#beff00 16.7%,#56ff00 25%,#0f0 32.5%,#00ff09 33.3%,#00ff5f 41.7%,#00ffab 50%,#00ffef 58.3%,#0ff 60.4%,#00d4ff 66.7%,#00a2ff 75%,#0079ff 83.3%,#0059ff 91.7%,#0042ff)"></i><i style="background:linear-gradient(#f50,#ffce00 8.3%,#ff0 11.8%,#bfff00 16.7%,#57ff00 25%,#0f0 32.6%,#00ff08 33.3%,#00ff5e 41.7%,#00ffab 50%,#00ffef 58.3%,#0ff 60.5%,#00d5ff 66.7%,#00a3ff 75%,#007aff 83.3%,#005aff 91.7%,#0043ff)"></i><i style="background:linear-gradient(#ff5400,#ffce00 8.3%,#ff0 11.9%,#bfff00 16.7%,#58ff00 25%,#0f0 32.7%,#00ff07 33.3%,#00ff5d 41.7%,#0fa 50%,#0fe 58.3%,#0ff 60.6%,#00d5ff 66.7%,#00a3ff 75%,#007aff 83.3%,#005aff 91.7%,#0043ff)"></i><i style="background:linear-gradient(#ff5300,#ffcd00 8.3%,#ff0 11.9%,#c0ff00 16.7%,#58ff00 25%,#0f0 32.7%,#00ff06 33.3%,#00ff5c 41.7%,#00ffa9 50%,#00ffed 58.3%,#0ff 60.7%,#00d6ff 66.7%,#00a4ff 75%,#007bff 83.3%,#005bff 91.7%,#04f)"></i><i style="background:linear-gradient(#ff5200,#fc0 8.3%,#ff0 12%,#c1ff00 16.7%,#59ff00 25%,#0f0 32.8%,#00ff06 33.3%,#00ff5c 41.7%,#00ffa9 50%,#00ffed 58.3%,#0ff 60.8%,#00d7ff 66.7%,#00a5ff 75%,#007cff 83.3%,#005cff 91.7%,#0045ff)"></i><i style="background:linear-gradient(#ff5200,#fc0 8.3%,#ff0 12%,#c2ff00 16.7%,#5aff00 25%,#0f0 32.9%,#00ff05 33.3%,#00ff5b 41.7%,#00ffa8 50%,#00ffec 58.3%,#0ff 60.9%,#00d7ff 66.7%,#00a5ff 75%,#007cff 83.3%,#005cff 91.7%,#0045ff)"></i><i style="background:linear-gradient(#ff5100,#ffcb00 8.3%,#ff0 12.1%,#c2ff00 16.7%,#5aff00 25%,#0f0 32.9%,#00ff04 33.3%,#00ff5a 41.7%,#00ffa7 50%,#00ffeb 58.3%,#0ff 61%,#00d8ff 66.7%,#00a6ff 75%,#007dff 83.3%,#005dff 91.7%,#0046ff)"></i><i style="background:linear-gradient(#ff5000,#ffca00 8.3%,#ff0 12.2%,#c3ff00 16.7%,#5bff00 25%,#0f0 33%,#00ff04 33.3%,#00ff5a 41.7%,#00ffa7 50%,#00ffeb 58.3%,#0ff 61.1%,#00d8ff 66.7%,#00a7ff 75%,#007eff 83.3%,#005eff 91.7%,#0047ff)"></i><i style="background:linear-gradient(#ff5000,#ffca00 8.3%,#ff0 12.2%,#c4ff00 16.7%,#5cff00 25%,#0f0 33%,#00ff03 33.3%,#00ff59 41.7%,#00ffa6 50%,#00ffea 58.3%,#0ff 61.2%,#00d9ff 66.7%,#00a7ff 75%,#007eff 83.3%,#005eff 91.7%,#0047ff)"></i><i style="background:linear-gradient(#ff4f00,#ffc900 8.3%,#ff0 12.2%,#c4ff00 16.7%,#5cff00 25%,#0f0 33.1%,#00ff02 33.3%,#00ff58 41.7%,#00ffa5 50%,#00ffe9 58.3%,#0ff 61.3%,#00daff 66.7%,#00a8ff 75%,#007fff 83.3%,#005fff 91.7%,#0048ff)"></i><i style="background:linear-gradient(#ff4e00,#ffc800 8.3%,#ff0 12.3%,#c5ff00 16.7%,#5dff00 25%,#0f0 33.2%,#00ff02 33.3%,#00ff58 41.7%,#00ffa5 50%,#00ffe9 58.3%,#0ff 61.4%,#00daff 66.7%,#00a9ff 75%,#0080ff 83.3%,#0060ff 91.7%,#0049ff)"></i><i style="background:linear-gradient(#ff4e00,#ffc800 8.3%,#ff0 12.3%,#c5ff00 16.7%,#5eff00 25%,#0f0 33.2%,#00ff01 33.3%,#00ff57 41.7%,#00ffa4 50%,#00ffe8 58.3%,#0ff 61.5%,#00dbff 66.7%,#00a9ff 75%,#0080ff 83.3%,#0060ff 91.7%,#0049ff)"></i><i style="background:linear-gradient(#ff4d00,#ffc700 8.3%,#ff0 12.4%,#c6ff00 16.7%,#5eff00 25%,#0f0 33.3%,#00ff01 33.3%,#00ff57 41.7%,#00ffa3 50%,#00ffe7 58.3%,#0ff 61.5%,#00dcff 66.7%,#0af 75%,#0081ff 83.3%,#0061ff 91.7%,#004aff)"></i><i style="background:linear-gradient(#ff4d00,#ffc600 8.3%,#ff0 12.4%,#c7ff00 16.7%,#5fff00 25%,#0f0 33.3%,#0f0 33.3%,#00ff56 41.7%,#00ffa3 50%,#00ffe7 58.3%,#0ff 61.6%,#00dcff 66.7%,#00abff 75%,#0082ff 83.3%,#0062ff 91.7%,#004bff)"></i><i style="background:linear-gradient(#ff4c00,#ffc600 8.3%,#ff0 12.5%,#c7ff00 16.7%,#5fff00 25%,#01ff00 33.3%,#0f0 33.4%,#0f5 41.7%,#00ffa2 50%,#00ffe6 58.3%,#0ff 61.7%,#0df 66.7%,#00abff 75%,#0082ff 83.3%,#0062ff 91.7%,#004bff)"></i><i style="background:linear-gradient(#ff4c00,#ffc500 8.3%,#ff0 12.5%,#c8ff00 16.7%,#60ff00 25%,#01ff00 33.3%,#0f0 33.5%,#0f5 41.7%,#00ffa1 50%,#00ffe5 58.3%,#0ff 61.8%,#00deff 66.7%,#00acff 75%,#0083ff 83.3%,#0063ff 91.7%,#004cff)"></i><i style="background:linear-gradient(#ff4b00,#ffc500 8.3%,#ff0 12.6%,#c8ff00 16.7%,#61ff00 25%,#02ff00 33.3%,#0f0 33.5%,#00ff54 41.7%,#00ffa1 50%,#00ffe5 58.3%,#0ff 61.9%,#00deff 66.7%,#00acff 75%,#0084ff 83.3%,#0064ff 91.7%,#004dff)"></i><i style="background:linear-gradient(#ff4a00,#ffc400 8.3%,#ff0 12.6%,#c9ff00 16.7%,#61ff00 25%,#02ff00 33.3%,#0f0 33.6%,#00ff53 41.7%,#00ffa0 50%,#00ffe4 58.3%,#0ff 62%,#00dfff 66.7%,#00adff 75%,#0084ff 83.3%,#0064ff 91.7%,#004dff)"></i><i style="background:linear-gradient(#ff4a00,#ffc400 8.3%,#ff0 12.6%,#caff00 16.7%,#62ff00 25%,#03ff00 33.3%,#0f0 33.6%,#00ff53 41.7%,#00ffa0 50%,#00ffe3 58.3%,#0ff 62.1%,#00e0ff 66.7%,#00aeff 75%,#0085ff 83.3%,#0065ff 91.7%,#004eff)"></i><i style="background:linear-gradient(#ff4900,#ffc300 8.3%,#ff0 12.7%,#caff00 16.7%,#62ff00 25%,#04ff00 33.3%,#0f0 33.7%,#00ff52 41.7%,#00ff9f 50%,#00ffe3 58.3%,#0ff 62.2%,#00e0ff 66.7%,#00aeff 75%,#0086ff 83.3%,#06f 91.7%,#004fff)"></i><i style="background:linear-gradient(#ff4900,#ffc300 8.3%,#ff0 12.7%,#cbff00 16.7%,#63ff00 25%,#04ff00 33.3%,#0f0 33.7%,#00ff52 41.7%,#00ff9e 50%,#00ffe2 58.3%,#0ff 62.3%,#00e1ff 66.7%,#00afff 75%,#0086ff 83.3%,#06f 91.7%,#004fff)"></i><i style="background:linear-gradient(#ff4900,#ffc200 8.3%,#ff0 12.8%,#cbff00 16.7%,#63ff00 25%,#05ff00 33.3%,#0f0 33.8%,#00ff51 41.7%,#00ff9e 50%,#00ffe2 58.3%,#0ff 62.3%,#00e2ff 66.7%,#00b0ff 75%,#0087ff 83.3%,#0067ff 91.7%,#0050ff)"></i><i style="background:linear-gradient(#ff4800,#ffc200 8.3%,#ff0 12.8%,#cf0 16.7%,#64ff00 25%,#05ff00 33.3%,#0f0 33.8%,#00ff51 41.7%,#00ff9d 50%,#00ffe1 58.3%,#0ff 62.4%,#00e2ff 66.7%,#00b0ff 75%,#08f 83.3%,#0068ff 91.7%,#0051ff)"></i><i style="background:linear-gradient(#ff4800,#ffc100 8.3%,#ff0 12.8%,#cf0 16.7%,#64ff00 25%,#06ff00 33.3%,#0f0 33.9%,#00ff50 41.7%,#00ff9d 50%,#00ffe0 58.3%,#0ff 62.5%,#00e3ff 66.7%,#00b1ff 75%,#08f 83.3%,#0068ff 91.7%,#0052ff)"></i><i style="background:linear-gradient(#ff4700,#ffc100 8.3%,#ff0 12.8%,#cdff00 16.7%,#65ff00 25%,#06ff00 33.3%,#0f0 33.9%,#00ff4f 41.7%,#00ff9c 50%,#00ffe0 58.3%,#0ff 62.6%,#00e3ff 66.7%,#00b2ff 75%,#0089ff 83.3%,#0069ff 91.7%,#0052ff)"></i><i style="background:linear-gradient(#ff4700,#ffc000 8.3%,#ff0 12.9%,#cdff00 16.7%,#65ff00 25%,#07ff00 33.3%,#0f0 34%,#00ff4f 41.7%,#00ff9c 50%,#00ffdf 58.3%,#0ff 62.7%,#00e4ff 66.7%,#00b2ff 75%,#008aff 83.3%,#006aff 91.7%,#0053ff)"></i><i style="background:linear-gradient(#ff4600,#ffc000 8.3%,#ff0 12.9%,#cdff00 16.7%,#6f0 25%,#07ff00 33.3%,#0f0 34%,#00ff4e 41.7%,#00ff9b 50%,#00ffdf 58.3%,#0ff 62.8%,#00e5ff 66.7%,#00b3ff 75%,#008aff 83.3%,#006bff 91.7%,#0054ff)"></i><i style="background:linear-gradient(#ff4600,#ffbf00 8.3%,#ff0 13%,#ceff00 16.7%,#6f0 25%,#08ff00 33.3%,#0f0 34.1%,#00ff4e 41.7%,#00ff9a 50%,#00ffde 58.3%,#0ff 62.9%,#00e5ff 66.7%,#00b4ff 75%,#008bff 83.3%,#006bff 91.7%,#05f)"></i><i style="background:linear-gradient(#ff4600,#ffbf00 8.3%,#ff0 13%,#ceff00 16.7%,#67ff00 25%,#08ff00 33.3%,#0f0 34.1%,#00ff4d 41.7%,#00ff9a 50%,#0fd 58.3%,#0ff 62.9%,#00e6ff 66.7%,#00b4ff 75%,#008cff 83.3%,#006cff 91.7%,#05f)"></i><i style="background:linear-gradient(#ff4500,#ffbf00 8.3%,#ff0 13%,#cfff00 16.7%,#67ff00 25%,#09ff00 33.3%,#0f0 34.2%,#00ff4d 41.7%,#0f9 50%,#0fd 58.3%,#0ff 63%,#00e7ff 66.7%,#00b5ff 75%,#008cff 83.3%,#006dff 91.7%,#0056ff)"></i><i style="background:linear-gradient(#ff4500,#ffbe00 8.3%,#ff0 13%,#cfff00 16.7%,#68ff00 25%,#09ff00 33.3%,#0f0 34.2%,#00ff4c 41.7%,#0f9 50%,#00ffdc 58.3%,#0ff 63.1%,#00e7ff 66.7%,#00b6ff 75%,#008dff 83.3%,#006dff 91.7%,#0057ff)"></i><i style="background:linear-gradient(#ff4500,#ffbe00 8.3%,#ff0 13.1%,#d0ff00 16.7%,#68ff00 25%,#0aff00 33.3%,#0f0 34.2%,#00ff4c 41.7%,#00ff98 50%,#00ffdc 58.3%,#0ff 63.2%,#00e8ff 66.7%,#00b6ff 75%,#008eff 83.3%,#006eff 91.7%,#0058ff)"></i><i style="background:linear-gradient(#f40,#ffbe00 8.3%,#ff0 13.1%,#d0ff00 16.7%,#69ff00 25%,#0aff00 33.3%,#0f0 34.3%,#00ff4b 41.7%,#00ff98 50%,#00ffdb 58.3%,#0ff 63.3%,#00e8ff 66.7%,#00b7ff 75%,#008eff 83.3%,#006fff 91.7%,#0058ff)"></i><i style="background:linear-gradient(#f40,#ffbd00 8.3%,#ff0 13.1%,#d0ff00 16.7%,#69ff00 25%,#0bff00 33.3%,#0f0 34.3%,#00ff4b 41.7%,#00ff97 50%,#00ffdb 58.3%,#0ff 63.4%,#00e9ff 66.7%,#00b8ff 75%,#008fff 83.3%,#0070ff 91.7%,#0059ff)"></i><i style="background:linear-gradient(#f40,#ffbd00 8.3%,#ff0 13.2%,#d1ff00 16.7%,#69ff00 25%,#0bff00 33.3%,#0f0 34.4%,#00ff4a 41.7%,#00ff97 50%,#00ffda 58.3%,#0ff 63.5%,#00eaff 66.7%,#00b8ff 75%,#0090ff 83.3%,#0070ff 91.7%,#005aff)"></i><i style="background:linear-gradient(#ff4300,#ffbd00 8.3%,#ff0 13.2%,#d1ff00 16.7%,#6aff00 25%,#0cff00 33.3%,#0f0 34.4%,#00ff4a 41.7%,#00ff96 50%,#00ffd9 58.3%,#0ff 63.5%,#00eaff 66.7%,#00b9ff 75%,#0090ff 83.3%,#0071ff 91.7%,#005bff)"></i><i style="background:linear-gradient(#ff4300,#ffbc00 8.3%,#ff0 13.2%,#d1ff00 16.7%,#6aff00 25%,#0cff00 33.3%,#0f0 34.4%,#00ff49 41.7%,#00ff96 50%,#00ffd9 58.3%,#0ff 63.6%,#00ebff 66.7%,#00baff 75%,#0091ff 83.3%,#0072ff 91.7%,#005bff)"></i><i style="background:linear-gradient(#ff4300,#ffbc00 8.3%,#ff0 13.2%,#d2ff00 16.7%,#6bff00 25%,#0cff00 33.3%,#0f0 34.5%,#00ff49 41.7%,#00ff95 50%,#00ffd8 58.3%,#0ff 63.7%,#00ebff 66.7%,#00baff 75%,#0092ff 83.3%,#0073ff 91.7%,#005cff)"></i><i style="background:linear-gradient(#ff4300,#ffbc00 8.3%,#ff0 13.2%,#d2ff00 16.7%,#6bff00 25%,#0dff00 33.3%,#0f0 34.5%,#00ff48 41.7%,#00ff95 50%,#00ffd8 58.3%,#0ff 63.8%,#00ecff 66.7%,#0bf 75%,#0093ff 83.3%,#0073ff 91.7%,#005dff)"></i><i style="background:linear-gradient(#ff4300,#ffbc00 8.3%,#ff0 13.3%,#d2ff00 16.7%,#6bff00 25%,#0dff00 33.3%,#0f0 34.6%,#00ff48 41.7%,#00ff94 50%,#00ffd7 58.3%,#0ff 63.9%,#00edff 66.7%,#0bf 75%,#0093ff 83.3%,#0074ff 91.7%,#005eff)"></i><i style="background:linear-gradient(#ff4200,#fb0 8.3%,#ff0 13.3%,#d3ff00 16.7%,#6cff00 25%,#0eff00 33.3%,#0f0 34.6%,#00ff48 41.7%,#00ff94 50%,#00ffd7 58.3%,#0ff 64%,#00edff 66.7%,#00bcff 75%,#0094ff 83.3%,#0075ff 91.7%,#005fff)"></i><i style="background:linear-gradient(#ff4200,#fb0 8.3%,#ff0 13.3%,#d3ff00 16.7%,#6cff00 25%,#0eff00 33.3%,#0f0 34.6%,#00ff47 41.7%,#00ff93 50%,#00ffd6 58.3%,#0ff 64.1%,#0ef 66.7%,#00bdff 75%,#0095ff 83.3%,#0076ff 91.7%,#005fff)"></i><i style="background:linear-gradient(#ff4200,#fb0 8.3%,#ff0 13.3%,#d3ff00 16.7%,#6cff00 25%,#0eff00 33.3%,#0f0 34.7%,#00ff47 41.7%,#00ff93 50%,#00ffd6 58.3%,#0ff 64.1%,#0ef 66.7%,#00bdff 75%,#0095ff 83.3%,#0076ff 91.7%,#0060ff)"></i><i style="background:linear-gradient(#ff4200,#fb0 8.3%,#ff0 13.3%,#d3ff00 16.7%,#6dff00 25%,#0fff00 33.3%,#0f0 34.7%,#00ff46 41.7%,#00ff92 50%,#00ffd5 58.3%,#0ff 64.2%,#00efff 66.7%,#00beff 75%,#0096ff 83.3%,#07f 91.7%,#0061ff)"></i><i style="background:linear-gradient(#ff4200,#ffba00 8.3%,#ff0 13.4%,#d4ff00 16.7%,#6dff00 25%,#0fff00 33.3%,#0f0 34.8%,#00ff46 41.7%,#00ff92 50%,#00ffd4 58.3%,#0ff 64.3%,#00f0ff 66.7%,#00bfff 75%,#0097ff 83.3%,#0078ff 91.7%,#0062ff)"></i><i style="background:linear-gradient(#ff4200,#ffba00 8.3%,#ff0 13.4%,#d4ff00 16.7%,#6dff00 25%,#0fff00 33.3%,#0f0 34.8%,#00ff45 41.7%,#00ff91 50%,#00ffd4 58.3%,#0ff 64.4%,#00f0ff 66.7%,#00bfff 75%,#0098ff 83.3%,#0079ff 91.7%,#0063ff)"></i><i style="background:linear-gradient(#ff4200,#ffba00 8.3%,#ff0 13.4%,#d4ff00 16.7%,#6dff00 25%,#10ff00 33.3%,#0f0 34.8%,#00ff45 41.7%,#00ff91 50%,#00ffd3 58.3%,#0ff 64.5%,#00f1ff 66.7%,#00c0ff 75%,#0098ff 83.3%,#0079ff 91.7%,#0064ff)"></i><i style="background:linear-gradient(#ff4100,#ffba00 8.3%,#ff0 13.4%,#d4ff00 16.7%,#6eff00 25%,#10ff00 33.3%,#0f0 34.8%,#00ff45 41.7%,#00ff90 50%,#00ffd3 58.3%,#0ff 64.6%,#00f1ff 66.7%,#00c1ff 75%,#09f 83.3%,#007aff 91.7%,#0064ff)"></i><i style="background:linear-gradient(#ff4100,#ffba00 8.3%,#ff0 13.4%,#d5ff00 16.7%,#6eff00 25%,#10ff00 33.3%,#0f0 34.9%,#0f4 41.7%,#00ff90 50%,#00ffd2 58.3%,#0ff 64.7%,#00f2ff 66.7%,#00c1ff 75%,#009aff 83.3%,#007bff 91.7%,#0065ff)"></i><i style="background:linear-gradient(#ff4100,#ffba00 8.3%,#ff0 13.4%,#d5ff00 16.7%,#6eff00 25%,#1f0 33.3%,#0f0 34.9%,#0f4 41.7%,#00ff8f 50%,#00ffd2 58.3%,#0ff 64.8%,#00f3ff 66.7%,#00c2ff 75%,#009aff 83.3%,#007cff 91.7%,#06f)"></i><i style="background:linear-gradient(#ff4100,#ffba00 8.3%,#ff0 13.4%,#d5ff00 16.7%,#6eff00 25%,#1f0 33.3%,#0f0 34.9%,#00ff43 41.7%,#00ff8f 50%,#00ffd1 58.3%,#0ff 64.8%,#00f3ff 66.7%,#00c3ff 75%,#009bff 83.3%,#007cff 91.7%,#0067ff)"></i><i style="background:linear-gradient(#ff4100,#ffba00 8.3%,#ff0 13.5%,#d5ff00 16.7%,#6fff00 25%,#1f0 33.3%,#0f0 35%,#00ff43 41.7%,#00ff8e 50%,#00ffd1 58.3%,#0ff 64.9%,#00f4ff 66.7%,#00c3ff 75%,#009cff 83.3%,#007dff 91.7%,#0068ff)"></i><i style="background:linear-gradient(#ff4100,#ffb900 8.3%,#ff0 13.5%,#d5ff00 16.7%,#6fff00 25%,#12ff00 33.3%,#0f0 35%,#00ff43 41.7%,#00ff8e 50%,#00ffd0 58.3%,#0ff 65%,#00f4ff 66.7%,#00c4ff 75%,#009cff 83.3%,#007eff 91.7%,#0069ff)"></i><i style="background:linear-gradient(#ff4100,#ffb900 8.3%,#ff0 13.5%,#d5ff00 16.7%,#6fff00 25%,#12ff00 33.3%,#0f0 35%,#00ff42 41.7%,#00ff8e 50%,#00ffd0 58.3%,#0ff 65.1%,#00f5ff 66.7%,#00c5ff 75%,#009dff 83.3%,#007fff 91.7%,#0069ff)"></i><i style="background:linear-gradient(#ff4100,#ffb900 8.3%,#ff0 13.5%,#d5ff00 16.7%,#6fff00 25%,#12ff00 33.3%,#0f0 35.1%,#00ff42 41.7%,#00ff8d 50%,#00ffcf 58.3%,#0ff 65.2%,#00f5ff 66.7%,#00c5ff 75%,#009eff 83.3%,#0080ff 91.7%,#006aff)"></i><i style="background:linear-gradient(#ff4100,#ffb900 8.3%,#ff0 13.5%,#d6ff00 16.7%,#70ff00 25%,#13ff00 33.3%,#0f0 35.1%,#00ff42 41.7%,#00ff8d 50%,#00ffcf 58.3%,#0ff 65.3%,#00f6ff 66.7%,#00c6ff 75%,#009fff 83.3%,#0080ff 91.7%,#006bff)"></i><i style="background:linear-gradient(#ff4100,#ffb900 8.3%,#ff0 13.5%,#d6ff00 16.7%,#70ff00 25%,#13ff00 33.3%,#0f0 35.1%,#00ff41 41.7%,#00ff8c 50%,#00ffce 58.3%,#0ff 65.3%,#00f7ff 66.7%,#00c6ff 75%,#009fff 83.3%,#0081ff 91.7%,#006cff)"></i><i style="background:linear-gradient(#ff4100,#ffb900 8.3%,#ff0 13.5%,#d6ff00 16.7%,#70ff00 25%,#13ff00 33.3%,#0f0 35.1%,#00ff41 41.7%,#00ff8c 50%,#00ffce 58.3%,#0ff 65.4%,#00f7ff 66.7%,#00c7ff 75%,#00a0ff 83.3%,#0082ff 91.7%,#006dff)"></i><i style="background:linear-gradient(#ff4100,#ffb900 8.3%,#ff0 13.5%,#d6ff00 16.7%,#70ff00 25%,#13ff00 33.3%,#0f0 35.2%,#00ff41 41.7%,#00ff8c 50%,#00ffcd 58.3%,#0ff 65.5%,#00f8ff 66.7%,#00c8ff 75%,#00a1ff 83.3%,#0083ff 91.7%,#006eff)"></i><i style="background:linear-gradient(#ff4200,#ffb900 8.3%,#ff0 13.5%,#d6ff00 16.7%,#70ff00 25%,#14ff00 33.3%,#0f0 35.2%,#00ff40 41.7%,#00ff8b 50%,#00ffcd 58.3%,#0ff 65.6%,#00f8ff 66.7%,#00c8ff 75%,#00a2ff 83.3%,#0084ff 91.7%,#006fff)"></i><i style="background:linear-gradient(#ff4200,#ffb900 8.3%,#ff0 13.5%,#d6ff00 16.7%,#70ff00 25%,#14ff00 33.3%,#0f0 35.2%,#00ff40 41.7%,#00ff8b 50%,#0fc 58.3%,#0ff 65.7%,#00f9ff 66.7%,#00c9ff 75%,#00a2ff 83.3%,#0084ff 91.7%,#0070ff)"></i><i style="background:linear-gradient(#ff4200,#ffb900 8.3%,#ff0 13.5%,#d6ff00 16.7%,#71ff00 25%,#14ff00 33.3%,#0f0 35.2%,#00ff40 41.7%,#00ff8a 50%,#0fc 58.3%,#0ff 65.8%,#00f9ff 66.7%,#00caff 75%,#00a3ff 83.3%,#0085ff 91.7%,#0071ff)"></i><i style="background:linear-gradient(#ff4200,#ffb900 8.3%,#ff0 13.5%,#d6ff00 16.7%,#71ff00 25%,#14ff00 33.3%,#0f0 35.3%,#00ff3f 41.7%,#00ff8a 50%,#00ffcb 58.3%,#0ff 65.9%,#00faff 66.7%,#00caff 75%,#00a4ff 83.3%,#0086ff 91.7%,#0071ff)"></i><i style="background:linear-gradient(#ff4200,#ffb900 8.3%,#ff0 13.5%,#d6ff00 16.7%,#71ff00 25%,#14ff00 33.3%,#0f0 35.3%,#00ff3f 41.7%,#00ff8a 50%,#00ffcb 58.3%,#0ff 66%,#00faff 66.7%,#00cbff 75%,#00a4ff 83.3%,#0087ff 91.7%,#0072ff)"></i><i style="background:linear-gradient(#ff4200,#ffb900 8.3%,#ff0 13.5%,#d6ff00 16.7%,#71ff00 25%,#15ff00 33.3%,#0f0 35.3%,#00ff3f 41.7%,#00ff89 50%,#00ffcb 58.3%,#0ff 66%,#00fbff 66.7%,#0cf 75%,#00a5ff 83.3%,#08f 91.7%,#0073ff)"></i><i style="background:linear-gradient(#ff4200,#ffba00 8.3%,#ff0 13.5%,#d6ff00 16.7%,#71ff00 25%,#15ff00 33.3%,#0f0 35.3%,#00ff3f 41.7%,#00ff89 50%,#00ffca 58.3%,#0ff 66.1%,#00fcff 66.7%,#0cf 75%,#00a6ff 83.3%,#0089ff 91.7%,#0074ff)"></i><i style="background:linear-gradient(#ff4300,#ffba00 8.3%,#ff0 13.5%,#d6ff00 16.7%,#71ff00 25%,#15ff00 33.3%,#0f0 35.3%,#00ff3e 41.7%,#0f8 50%,#00ffca 58.3%,#0ff 66.2%,#00fcff 66.7%,#00cdff 75%,#00a7ff 83.3%,#0089ff 91.7%,#0075ff)"></i><i style="background:linear-gradient(#ff4300,#ffba00 8.3%,#ff0 13.5%,#d6ff00 16.7%,#71ff00 25%,#15ff00 33.3%,#0f0 35.4%,#00ff3e 41.7%,#0f8 50%,#00ffc9 58.3%,#0ff 66.3%,#00fdff 66.7%,#00ceff 75%,#00a7ff 83.3%,#008aff 91.7%,#0076ff)"></i><i style="background:linear-gradient(#ff4300,#ffba00 8.3%,#ff0 13.5%,#d6ff00 16.7%,#71ff00 25%,#15ff00 33.3%,#0f0 35.4%,#00ff3e 41.7%,#0f8 50%,#00ffc9 58.3%,#0ff 66.4%,#00fdff 66.7%,#00ceff 75%,#00a8ff 83.3%,#008bff 91.7%,#07f)"></i><i style="background:linear-gradient(#ff4300,#ffba00 8.3%,#ff0 13.5%,#d6ff00 16.7%,#71ff00 25%,#15ff00 33.3%,#0f0 35.4%,#00ff3e 41.7%,#00ff87 50%,#00ffc8 58.3%,#0ff 66.5%,#00feff 66.7%,#00cfff 75%,#00a9ff 83.3%,#008cff 91.7%,#0078ff)"></i><i style="background:linear-gradient(#f40,#ffba00 8.3%,#ff0 13.5%,#d6ff00 16.7%,#71ff00 25%,#16ff00 33.3%,#0f0 35.4%,#00ff3d 41.7%,#00ff87 50%,#00ffc8 58.3%,#0ff 66.5%,#00feff 66.7%,#00cfff 75%,#0af 83.3%,#008dff 91.7%,#0079ff)"></i><i style="background:linear-gradient(#f40,#ffba00 8.3%,#ff0 13.5%,#d6ff00 16.7%,#71ff00 25%,#16ff00 33.3%,#0f0 35.4%,#00ff3d 41.7%,#00ff87 50%,#00ffc7 58.3%,#0ff 66.6%,#0ff 66.7%,#00d0ff 75%,#0af 83.3%,#008eff 91.7%,#007aff)"></i><i style="background:linear-gradient(#f40,#fb0 8.3%,#ff0 13.5%,#d6ff00 16.7%,#71ff00 25%,#16ff00 33.3%,#0f0 35.4%,#00ff3d 41.7%,#00ff86 50%,#00ffc7 58.3%,#0ff 66.7%,#0ff 66.7%,#00d1ff 75%,#00abff 83.3%,#008eff 91.7%,#007bff)"></i><i style="background:linear-gradient(#f40,#fb0 8.3%,#ff0 13.5%,#d6ff00 16.7%,#71ff00 25%,#16ff00 33.3%,#0f0 35.5%,#00ff3d 41.7%,#00ff86 50%,#00ffc7 58.3%,#00fffe 66.7%,#0ff 66.8%,#00d1ff 75%,#00acff 83.3%,#008fff 91.7%,#007cff)"></i><i style="background:linear-gradient(#ff4500,#fb0 8.3%,#ff0 13.4%,#d6ff00 16.7%,#71ff00 25%,#16ff00 33.3%,#0f0 35.5%,#00ff3c 41.7%,#00ff86 50%,#00ffc6 58.3%,#00fffe 66.7%,#0ff 66.9%,#00d2ff 75%,#00adff 83.3%,#0090ff 91.7%,#007dff)"></i><i style="background:linear-gradient(#ff4500,#fb0 8.3%,#ff0 13.4%,#d6ff00 16.7%,#71ff00 25%,#16ff00 33.3%,#0f0 35.5%,#00ff3c 41.7%,#00ff85 50%,#00ffc6 58.3%,#00fffd 66.7%,#0ff 67%,#00d3ff 75%,#00adff 83.3%,#0091ff 91.7%,#007eff)"></i><i style="background:linear-gradient(#ff4500,#fb0 8.3%,#ff0 13.4%,#d5ff00 16.7%,#71ff00 25%,#16ff00 33.3%,#0f0 35.5%,#00ff3c 41.7%,#00ff85 50%,#00ffc5 58.3%,#00fffc 66.7%,#0ff 67.1%,#00d3ff 75%,#00aeff 83.3%,#0092ff 91.7%,#007fff)"></i><i style="background:linear-gradient(#ff4600,#ffbc00 8.3%,#ff0 13.4%,#d5ff00 16.7%,#71ff00 25%,#16ff00 33.3%,#0f0 35.5%,#00ff3c 41.7%,#00ff85 50%,#00ffc5 58.3%,#00fffc 66.7%,#0ff 67.2%,#00d4ff 75%,#00afff 83.3%,#0093ff 91.7%,#0080ff)"></i><i style="background:linear-gradient(#ff4600,#ffbc00 8.3%,#ff0 13.4%,#d5ff00 16.7%,#71ff00 25%,#16ff00 33.3%,#0f0 35.5%,#00ff3c 41.7%,#00ff84 50%,#00ffc4 58.3%,#00fffb 66.7%,#0ff 67.3%,#00d5ff 75%,#00b0ff 83.3%,#0094ff 91.7%,#0080ff)"></i><i style="background:linear-gradient(#ff4600,#ffbc00 8.3%,#ff0 13.4%,#d5ff00 16.7%,#71ff00 25%,#16ff00 33.3%,#0f0 35.5%,#00ff3b 41.7%,#00ff84 50%,#00ffc4 58.3%,#00fffb 66.7%,#0ff 67.3%,#00d5ff 75%,#00b0ff 83.3%,#0094ff 91.7%,#0081ff)"></i><i style="background:linear-gradient(#ff4700,#ffbc00 8.3%,#ff0 13.4%,#d5ff00 16.7%,#71ff00 25%,#17ff00 33.3%,#0f0 35.5%,#00ff3b 41.7%,#00ff84 50%,#00ffc4 58.3%,#00fffa 66.7%,#0ff 67.4%,#00d6ff 75%,#00b1ff 83.3%,#0095ff 91.7%,#0082ff)"></i><i style="background:linear-gradient(#ff4700,#ffbd00 8.3%,#ff0 13.3%,#d5ff00 16.7%,#71ff00 25%,#17ff00 33.3%,#0f0 35.5%,#00ff3b 41.7%,#00ff84 50%,#00ffc3 58.3%,#00fffa 66.7%,#0ff 67.5%,#00d6ff 75%,#00b2ff 83.3%,#0096ff 91.7%,#0083ff)"></i><i style="background:linear-gradient(#ff4800,#ffbd00 8.3%,#ff0 13.3%,#d4ff00 16.7%,#71ff00 25%,#17ff00 33.3%,#0f0 35.6%,#00ff3b 41.7%,#00ff83 50%,#00ffc3 58.3%,#00fff9 66.7%,#0ff 67.6%,#00d7ff 75%,#00b3ff 83.3%,#0097ff 91.7%,#0084ff)"></i><i style="background:linear-gradient(#ff4800,#ffbd00 8.3%,#ff0 13.3%,#d4ff00 16.7%,#71ff00 25%,#17ff00 33.3%,#0f0 35.6%,#00ff3b 41.7%,#00ff83 50%,#00ffc2 58.3%,#00fff9 66.7%,#0ff 67.7%,#00d8ff 75%,#00b3ff 83.3%,#0098ff 91.7%,#0085ff)"></i><i style="background:linear-gradient(#ff4900,#ffbe00 8.3%,#ff0 13.3%,#d4ff00 16.7%,#71ff00 25%,#17ff00 33.3%,#0f0 35.6%,#00ff3b 41.7%,#00ff83 50%,#00ffc2 58.3%,#00fff8 66.7%,#0ff 67.8%,#00d8ff 75%,#00b4ff 83.3%,#09f 91.7%,#0086ff)"></i><i style="background:linear-gradient(#ff4900,#ffbe00 8.3%,#ff0 13.3%,#d4ff00 16.7%,#71ff00 25%,#17ff00 33.3%,#0f0 35.6%,#00ff3a 41.7%,#00ff83 50%,#00ffc2 58.3%,#00fff8 66.7%,#0ff 67.9%,#00d9ff 75%,#00b5ff 83.3%,#009aff 91.7%,#0087ff)"></i><i style="background:linear-gradient(#ff4a00,#ffbe00 8.3%,#ff0 13.2%,#d4ff00 16.7%,#71ff00 25%,#17ff00 33.3%,#0f0 35.6%,#00ff3a 41.7%,#00ff82 50%,#00ffc1 58.3%,#00fff7 66.7%,#0ff 68%,#00daff 75%,#00b6ff 83.3%,#009bff 91.7%,#08f)"></i><i style="background:linear-gradient(#ff4a00,#ffbf00 8.3%,#ff0 13.2%,#d3ff00 16.7%,#71ff00 25%,#17ff00 33.3%,#0f0 35.6%,#00ff3a 41.7%,#00ff82 50%,#00ffc1 58.3%,#00fff7 66.7%,#0ff 68.1%,#00daff 75%,#00b6ff 83.3%,#009bff 91.7%,#0089ff)"></i><i style="background:linear-gradient(#ff4b00,#ffbf00 8.3%,#ff0 13.2%,#d3ff00 16.7%,#70ff00 25%,#17ff00 33.3%,#0f0 35.6%,#00ff3a 41.7%,#00ff82 50%,#00ffc0 58.3%,#00fff6 66.7%,#0ff 68.2%,#00dbff 75%,#00b7ff 83.3%,#009cff 91.7%,#008bff)"></i><i style="background:linear-gradient(#ff4b00,#ffc000 8.3%,#ff0 13.2%,#d3ff00 16.7%,#70ff00 25%,#17ff00 33.3%,#0f0 35.6%,#00ff3a 41.7%,#00ff81 50%,#00ffc0 58.3%,#00fff6 66.7%,#0ff 68.3%,#00dcff 75%,#00b8ff 83.3%,#009dff 91.7%,#008cff)"></i><i style="background:linear-gradient(#ff4c00,#ffc000 8.3%,#ff0 13.1%,#d3ff00 16.7%,#70ff00 25%,#17ff00 33.3%,#0f0 35.6%,#00ff3a 41.7%,#00ff81 50%,#00ffc0 58.3%,#00fff5 66.7%,#0ff 68.4%,#00dcff 75%,#00b9ff 83.3%,#009eff 91.7%,#008dff)"></i><i style="background:linear-gradient(#ff4c00,#ffc000 8.3%,#ff0 13.1%,#d2ff00 16.7%,#70ff00 25%,#17ff00 33.3%,#0f0 35.6%,#00ff3a 41.7%,#00ff81 50%,#00ffbf 58.3%,#00fff5 66.7%,#0ff 68.5%,#0df 75%,#00b9ff 83.3%,#009fff 91.7%,#008eff)"></i><i style="background:linear-gradient(#ff4d00,#ffc100 8.3%,#ff0 13.1%,#d2ff00 16.7%,#70ff00 25%,#17ff00 33.3%,#0f0 35.6%,#00ff3a 41.7%,#00ff81 50%,#00ffbf 58.3%,#00fff4 66.7%,#0ff 68.5%,#00deff 75%,#00baff 83.3%,#00a0ff 91.7%,#008fff)"></i><i style="background:linear-gradient(#ff4d00,#ffc100 8.3%,#ff0 13.1%,#d2ff00 16.7%,#70ff00 25%,#17ff00 33.3%,#0f0 35.6%,#00ff3a 41.7%,#00ff81 50%,#00ffbf 58.3%,#00fff4 66.7%,#0ff 68.6%,#00deff 75%,#0bf 83.3%,#00a1ff 91.7%,#0090ff)"></i><i style="background:linear-gradient(#ff4e00,#ffc200 8.3%,#ff0 13%,#d1ff00 16.7%,#6fff00 25%,#17ff00 33.3%,#0f0 35.6%,#00ff39 41.7%,#00ff80 50%,#00ffbe 58.3%,#00fff3 66.7%,#0ff 68.7%,#00dfff 75%,#00bcff 83.3%,#00a2ff 91.7%,#0091ff)"></i><i style="background:linear-gradient(#ff4f00,#ffc200 8.3%,#ff0 13%,#d1ff00 16.7%,#6fff00 25%,#16ff00 33.3%,#0f0 35.6%,#00ff39 41.7%,#00ff80 50%,#00ffbe 58.3%,#00fff3 66.7%,#0ff 68.8%,#00dfff 75%,#00bdff 83.3%,#00a3ff 91.7%,#0092ff)"></i><i style="background:linear-gradient(#ff4f00,#ffc300 8.3%,#ff0 13%,#d1ff00 16.7%,#6fff00 25%,#16ff00 33.3%,#0f0 35.6%,#00ff39 41.7%,#00ff80 50%,#00ffbe 58.3%,#00fff2 66.7%,#0ff 68.9%,#00e0ff 75%,#00bdff 83.3%,#00a4ff 91.7%,#0093ff)"></i><i style="background:linear-gradient(#ff5000,#ffc300 8.3%,#ff0 12.9%,#d0ff00 16.7%,#6fff00 25%,#16ff00 33.3%,#0f0 35.6%,#00ff39 41.7%,#00ff80 50%,#00ffbd 58.3%,#00fff2 66.7%,#0ff 69%,#00e1ff 75%,#00beff 83.3%,#00a4ff 91.7%,#0094ff)"></i><i style="background:linear-gradient(#ff5100,#ffc400 8.3%,#ff0 12.9%,#d0ff00 16.7%,#6fff00 25%,#16ff00 33.3%,#0f0 35.6%,#00ff39 41.7%,#00ff7f 50%,#00ffbd 58.3%,#00fff1 66.7%,#0ff 69.1%,#00e1ff 75%,#00bfff 83.3%,#00a5ff 91.7%,#0095ff)"></i><i style="background:linear-gradient(#ff5100,#ffc400 8.3%,#ff0 12.8%,#cfff00 16.7%,#6eff00 25%,#16ff00 33.3%,#0f0 35.6%,#00ff39 41.7%,#00ff7f 50%,#00ffbd 58.3%,#00fff1 66.7%,#0ff 69.2%,#00e2ff 75%,#00c0ff 83.3%,#00a6ff 91.7%,#0096ff)"></i><i style="background:linear-gradient(#ff5200,#ffc500 8.3%,#ff0 12.8%,#cfff00 16.7%,#6eff00 25%,#16ff00 33.3%,#0f0 35.6%,#00ff39 41.7%,#00ff7f 50%,#00ffbc 58.3%,#00fff0 66.7%,#0ff 69.3%,#00e3ff 75%,#00c0ff 83.3%,#00a7ff 91.7%,#0097ff)"></i><i style="background:linear-gradient(#ff5300,#ffc500 8.3%,#ff0 12.8%,#cfff00 16.7%,#6eff00 25%,#16ff00 33.3%,#0f0 35.5%,#00ff39 41.7%,#00ff7f 50%,#00ffbc 58.3%,#00fff0 66.7%,#0ff 69.4%,#00e3ff 75%,#00c1ff 83.3%,#00a8ff 91.7%,#0098ff)"></i><i style="background:linear-gradient(#ff5300,#ffc600 8.3%,#ff0 12.7%,#ceff00 16.7%,#6eff00 25%,#16ff00 33.3%,#0f0 35.5%,#00ff39 41.7%,#00ff7f 50%,#00ffbc 58.3%,#00ffef 66.7%,#0ff 69.5%,#00e4ff 75%,#00c2ff 83.3%,#00a9ff 91.7%,#09f)"></i><i style="background:linear-gradient(#ff5400,#ffc700 8.3%,#ff0 12.7%,#ceff00 16.7%,#6dff00 25%,#16ff00 33.3%,#0f0 35.5%,#00ff39 41.7%,#00ff7f 50%,#0fb 58.3%,#00ffef 66.7%,#0ff 69.6%,#00e4ff 75%,#00c3ff 83.3%,#0af 91.7%,#009aff)"></i><i style="background:linear-gradient(#f50,#ffc700 8.3%,#ff0 12.7%,#cdff00 16.7%,#6dff00 25%,#16ff00 33.3%,#0f0 35.5%,#00ff39 41.7%,#00ff7e 50%,#0fb 58.3%,#0fe 66.7%,#0ff 69.7%,#00e5ff 75%,#00c4ff 83.3%,#00abff 91.7%,#009bff)"></i><i style="background:linear-gradient(#ff5600,#ffc800 8.3%,#ff0 12.6%,#cdff00 16.7%,#6dff00 25%,#15ff00 33.3%,#0f0 35.5%,#00ff39 41.7%,#00ff7e 50%,#0fb 58.3%,#0fe 66.7%,#0ff 69.8%,#00e6ff 75%,#00c4ff 83.3%,#00acff 91.7%,#009dff)"></i><i style="background:linear-gradient(#ff5600,#ffc800 8.3%,#ff0 12.6%,#cf0 16.7%,#6cff00 25%,#15ff00 33.3%,#0f0 35.5%,#00ff39 41.7%,#00ff7e 50%,#00ffba 58.3%,#00ffed 66.7%,#0ff 69.9%,#00e6ff 75%,#00c5ff 83.3%,#00adff 91.7%,#009eff)"></i><i style="background:linear-gradient(#ff5700,#ffc900 8.3%,#ff0 12.5%,#cf0 16.7%,#6cff00 25%,#15ff00 33.3%,#0f0 35.5%,#00ff39 41.7%,#00ff7e 50%,#00ffba 58.3%,#00ffed 66.7%,#0ff 70%,#00e7ff 75%,#00c6ff 83.3%,#00aeff 91.7%,#009fff)"></i><i style="background:linear-gradient(#ff5800,#ffca00 8.3%,#ff0 12.5%,#cbff00 16.7%,#6cff00 25%,#15ff00 33.3%,#0f0 35.5%,#00ff39 41.7%,#00ff7e 50%,#00ffba 58.3%,#00ffec 66.7%,#0ff 70.1%,#00e8ff 75%,#00c7ff 83.3%,#00afff 91.7%,#00a0ff)"></i><i style="background:linear-gradient(#ff5900,#ffca00 8.3%,#ff0 12.4%,#cbff00 16.7%,#6bff00 25%,#15ff00 33.3%,#0f0 35.5%,#00ff39 41.7%,#00ff7e 50%,#00ffb9 58.3%,#00ffec 66.7%,#0ff 70.2%,#00e8ff 75%,#00c8ff 83.3%,#00b0ff 91.7%,#00a1ff)"></i><i style="background:linear-gradient(#ff5a00,#ffcb00 8.3%,#ff0 12.4%,#caff00 16.7%,#6bff00 25%,#15ff00 33.3%,#0f0 35.4%,#00ff39 41.7%,#00ff7d 50%,#00ffb9 58.3%,#00ffec 66.7%,#0ff 70.3%,#00e9ff 75%,#00c8ff 83.3%,#00b1ff 91.7%,#00a2ff)"></i><i style="background:linear-gradient(#ff5b00,#fc0 8.3%,#ff0 12.3%,#caff00 16.7%,#6bff00 25%,#14ff00 33.3%,#0f0 35.4%,#00ff39 41.7%,#00ff7d 50%,#00ffb9 58.3%,#00ffeb 66.7%,#0ff 70.5%,#00eaff 75%,#00c9ff 83.3%,#00b2ff 91.7%,#00a3ff)"></i><i style="background:linear-gradient(#ff5b00,#fc0 8.3%,#ff0 12.3%,#c9ff00 16.7%,#6aff00 25%,#14ff00 33.3%,#0f0 35.4%,#00ff39 41.7%,#00ff7d 50%,#00ffb8 58.3%,#00ffeb 66.7%,#0ff 70.6%,#00eaff 75%,#00caff 83.3%,#00b3ff 91.7%,#00a4ff)"></i><i style="background:linear-gradient(#ff5c00,#ffcd00 8.3%,#ff0 12.2%,#c9ff00 16.7%,#6aff00 25%,#14ff00 33.3%,#0f0 35.4%,#00ff39 41.7%,#00ff7d 50%,#00ffb8 58.3%,#00ffea 66.7%,#0ff 70.7%,#00ebff 75%,#00cbff 83.3%,#00b4ff 91.7%,#00a6ff)"></i><i style="background:linear-gradient(#ff5d00,#ffce00 8.3%,#ff0 12.2%,#c8ff00 16.7%,#6aff00 25%,#14ff00 33.3%,#0f0 35.4%,#00ff39 41.7%,#00ff7d 50%,#00ffb8 58.3%,#00ffea 66.7%,#0ff 70.8%,#00ebff 75%,#0cf 83.3%,#00b5ff 91.7%,#00a7ff)"></i><i style="background:linear-gradient(#ff5e00,#ffcf00 8.3%,#ff0 12.1%,#c8ff00 16.7%,#69ff00 25%,#14ff00 33.3%,#0f0 35.4%,#00ff39 41.7%,#00ff7d 50%,#00ffb8 58.3%,#00ffe9 66.7%,#0ff 70.9%,#00ecff 75%,#0cf 83.3%,#00b6ff 91.7%,#00a8ff)"></i><i style="background:linear-gradient(#ff5f00,#ffcf00 8.3%,#ff0 12.1%,#c7ff00 16.7%,#69ff00 25%,#13ff00 33.3%,#0f0 35.3%,#00ff39 41.7%,#00ff7d 50%,#00ffb7 58.3%,#00ffe9 66.7%,#0ff 71%,#00edff 75%,#00cdff 83.3%,#00b7ff 91.7%,#00a9ff)"></i><i style="background:linear-gradient(#ff6000,#ffd000 8.3%,#ff0 12%,#c7ff00 16.7%,#68ff00 25%,#13ff00 33.3%,#0f0 35.3%,#00ff39 41.7%,#00ff7d 50%,#00ffb7 58.3%,#00ffe8 66.7%,#0ff 71.1%,#00edff 75%,#00ceff 83.3%,#00b8ff 91.7%,#0af)"></i><i style="background:linear-gradient(#ff6100,#ffd100 8.3%,#ff0 12%,#c6ff00 16.7%,#68ff00 25%,#13ff00 33.3%,#0f0 35.3%,#00ff39 41.7%,#00ff7d 50%,#00ffb7 58.3%,#00ffe8 66.7%,#0ff 71.2%,#0ef 75%,#00cfff 83.3%,#00b8ff 91.7%,#00abff)"></i><i style="background:linear-gradient(#ff6200,#ffd200 8.3%,#ff0 11.9%,#c5ff00 16.7%,#67ff00 25%,#13ff00 33.3%,#0f0 35.3%,#00ff39 41.7%,#00ff7c 50%,#00ffb6 58.3%,#00ffe7 66.7%,#0ff 71.4%,#00efff 75%,#00d0ff 83.3%,#00b9ff 91.7%,#00acff)"></i><i style="background:linear-gradient(#ff6300,#ffd300 8.3%,#ff0 11.8%,#c5ff00 16.7%,#67ff00 25%,#12ff00 33.3%,#0f0 35.2%,#00ff3a 41.7%,#00ff7c 50%,#00ffb6 58.3%,#00ffe7 66.7%,#0ff 71.5%,#00efff 75%,#00d0ff 83.3%,#00baff 91.7%,#00aeff)"></i><i style="background:linear-gradient(#ff6400,#ffd300 8.3%,#ff0 11.8%,#c4ff00 16.7%,#67ff00 25%,#12ff00 33.3%,#0f0 35.2%,#00ff3a 41.7%,#00ff7c 50%,#00ffb6 58.3%,#00ffe7 66.7%,#0ff 71.6%,#00f0ff 75%,#00d1ff 83.3%,#0bf 91.7%,#00afff)"></i><i style="background:linear-gradient(#ff6500,#ffd400 8.3%,#ff0 11.7%,#c3ff00 16.7%,#6f0 25%,#12ff00 33.3%,#0f0 35.2%,#00ff3a 41.7%,#00ff7c 50%,#00ffb6 58.3%,#00ffe6 66.7%,#0ff 71.7%,#00f0ff 75%,#00d2ff 83.3%,#00bcff 91.7%,#00b0ff)"></i><i style="background:linear-gradient(#f60,#ffd500 8.3%,#ff0 11.7%,#c3ff00 16.7%,#6f0 25%,#1f0 33.3%,#0f0 35.2%,#00ff3a 41.7%,#00ff7c 50%,#00ffb5 58.3%,#00ffe6 66.7%,#0ff 71.8%,#00f1ff 75%,#00d3ff 83.3%,#00bdff 91.7%,#00b1ff)"></i><i style="background:linear-gradient(#ff6700,#ffd600 8.3%,#ff0 11.6%,#c2ff00 16.7%,#65ff00 25%,#1f0 33.3%,#0f0 35.1%,#00ff3a 41.7%,#00ff7c 50%,#00ffb5 58.3%,#00ffe5 66.7%,#0ff 72%,#00f2ff 75%,#00d4ff 83.3%,#00beff 91.7%,#00b2ff)"></i><i style="background:linear-gradient(#ff6800,#ffd700 8.3%,#ff0 11.5%,#c1ff00 16.7%,#65ff00 25%,#1f0 33.3%,#0f0 35.1%,#00ff3a 41.7%,#00ff7c 50%,#00ffb5 58.3%,#00ffe5 66.7%,#0ff 72.1%,#00f2ff 75%,#00d4ff 83.3%,#00bfff 91.7%,#00b3ff)"></i><i style="background:linear-gradient(#ff6900,#ffd800 8.3%,#ff0 11.5%,#c1ff00 16.7%,#64ff00 25%,#10ff00 33.3%,#0f0 35.1%,#00ff3a 41.7%,#00ff7c 50%,#00ffb5 58.3%,#00ffe4 66.7%,#0ff 72.2%,#00f3ff 75%,#00d5ff 83.3%,#00c0ff 91.7%,#00b5ff)"></i><i style="background:linear-gradient(#ff6a00,#ffd900 8.3%,#ff0 11.4%,#c0ff00 16.7%,#64ff00 25%,#10ff00 33.3%,#0f0 35%,#00ff3a 41.7%,#00ff7c 50%,#00ffb4 58.3%,#00ffe4 66.7%,#0ff 72.3%,#00f4ff 75%,#00d6ff 83.3%,#00c1ff 91.7%,#00b6ff)"></i><i style="background:linear-gradient(#ff6b00,#ffd900 8.3%,#ff0 11.3%,#bfff00 16.7%,#63ff00 25%,#10ff00 33.3%,#0f0 35%,#00ff3b 41.7%,#00ff7c 50%,#00ffb4 58.3%,#00ffe3 66.7%,#0ff 72.5%,#00f4ff 75%,#00d7ff 83.3%,#00c2ff 91.7%,#00b7ff)"></i><i style="background:linear-gradient(#ff6c00,#ffda00 8.3%,#ff0 11.3%,#beff00 16.7%,#62ff00 25%,#0fff00 33.3%,#0f0 35%,#00ff3b 41.7%,#00ff7c 50%,#00ffb4 58.3%,#00ffe3 66.7%,#0ff 72.6%,#00f5ff 75%,#00d8ff 83.3%,#00c3ff 91.7%,#00b8ff)"></i><i style="background:linear-gradient(#ff6e00,#ffdb00 8.3%,#ff0 11.2%,#beff00 16.7%,#62ff00 25%,#0fff00 33.3%,#0f0 34.9%,#00ff3b 41.7%,#00ff7c 50%,#00ffb4 58.3%,#00ffe3 66.7%,#0ff 72.7%,#00f5ff 75%,#00d9ff 83.3%,#00c5ff 91.7%,#00baff)"></i><i style="background:linear-gradient(#ff6f00,#ffdc00 8.3%,#ff0 11.1%,#bdff00 16.7%,#61ff00 25%,#0fff00 33.3%,#0f0 34.9%,#00ff3b 41.7%,#00ff7c 50%,#00ffb3 58.3%,#00ffe2 66.7%,#0ff 72.8%,#00f6ff 75%,#00d9ff 83.3%,#00c6ff 91.7%,#0bf)"></i><i style="background:linear-gradient(#ff7000,#fd0 8.3%,#ff0 11.1%,#bcff00 16.7%,#61ff00 25%,#0eff00 33.3%,#0f0 34.9%,#00ff3b 41.7%,#00ff7c 50%,#00ffb3 58.3%,#00ffe2 66.7%,#0ff 73%,#00f7ff 75%,#00daff 83.3%,#00c7ff 91.7%,#00bcff)"></i><i style="background:linear-gradient(#ff7100,#ffde00 8.3%,#ff0 11%,#bf0 16.7%,#60ff00 25%,#0eff00 33.3%,#0f0 34.8%,#00ff3b 41.7%,#00ff7c 50%,#00ffb3 58.3%,#00ffe1 66.7%,#0ff 73.1%,#00f7ff 75%,#00dbff 83.3%,#00c8ff 91.7%,#00bdff)"></i><i style="background:linear-gradient(#ff7200,#ffdf00 8.3%,#ff0 10.9%,#bf0 16.7%,#60ff00 25%,#0eff00 33.3%,#0f0 34.8%,#00ff3c 41.7%,#00ff7c 50%,#00ffb3 58.3%,#00ffe1 66.7%,#0ff 73.3%,#00f8ff 75%,#00dcff 83.3%,#00c9ff 91.7%,#00beff)"></i><i style="background:linear-gradient(#ff7300,#ffe000 8.3%,#ff0 10.8%,#baff00 16.7%,#5fff00 25%,#0dff00 33.3%,#0f0 34.8%,#00ff3c 41.7%,#00ff7c 50%,#00ffb2 58.3%,#00ffe0 66.7%,#0ff 73.4%,#00f9ff 75%,#0df 83.3%,#00caff 91.7%,#00c0ff)"></i><i style="background:linear-gradient(#ff7500,#ffe100 8.3%,#ff0 10.7%,#b9ff00 16.7%,#5eff00 25%,#0dff00 33.3%,#0f0 34.7%,#00ff3c 41.7%,#00ff7c 50%,#00ffb2 58.3%,#00ffe0 66.7%,#0ff 73.5%,#00f9ff 75%,#0df 83.3%,#00cbff 91.7%,#00c1ff)"></i><i style="background:linear-gradient(#ff7600,#ffe200 8.3%,#ff0 10.7%,#b8ff00 16.7%,#5eff00 25%,#0cff00 33.3%,#0f0 34.7%,#00ff3c 41.7%,#00ff7c 50%,#00ffb2 58.3%,#00ffe0 66.7%,#0ff 73.7%,#00faff 75%,#00deff 83.3%,#0cf 91.7%,#00c2ff)"></i><i style="background:linear-gradient(#f70,#ffe300 8.3%,#ff0 10.6%,#b7ff00 16.7%,#5dff00 25%,#0cff00 33.3%,#0f0 34.6%,#00ff3c 41.7%,#00ff7c 50%,#00ffb2 58.3%,#00ffdf 66.7%,#0ff 73.8%,#00faff 75%,#00dfff 83.3%,#00cdff 91.7%,#00c3ff)"></i><i style="background:linear-gradient(#ff7800,#ffe400 8.3%,#ff0 10.5%,#b7ff00 16.7%,#5dff00 25%,#0cff00 33.3%,#0f0 34.6%,#00ff3d 41.7%,#00ff7c 50%,#00ffb2 58.3%,#00ffdf 66.7%,#0ff 74%,#00fbff 75%,#00e0ff 83.3%,#00ceff 91.7%,#00c5ff)"></i><i style="background:linear-gradient(#ff7a00,#ffe500 8.3%,#ff0 10.4%,#b6ff00 16.7%,#5cff00 25%,#0bff00 33.3%,#0f0 34.5%,#00ff3d 41.7%,#00ff7c 50%,#00ffb1 58.3%,#00ffde 66.7%,#0ff 74.1%,#00fcff 75%,#00e1ff 83.3%,#00cfff 91.7%,#00c6ff)"></i><i style="background:linear-gradient(#ff7b00,#ffe700 8.3%,#ff0 10.3%,#b5ff00 16.7%,#5bff00 25%,#0bff00 33.3%,#0f0 34.5%,#00ff3d 41.7%,#00ff7c 50%,#00ffb1 58.3%,#00ffde 66.7%,#0ff 74.3%,#00fcff 75%,#00e2ff 83.3%,#00d0ff 91.7%,#00c7ff)"></i><i style="background:linear-gradient(#ff7c00,#ffe800 8.3%,#ff0 10.2%,#b4ff00 16.7%,#5bff00 25%,#0aff00 33.3%,#0f0 34.5%,#00ff3d 41.7%,#00ff7c 50%,#00ffb1 58.3%,#00ffde 66.7%,#0ff 74.5%,#00fdff 75%,#00e2ff 83.3%,#00d1ff 91.7%,#00c8ff)"></i><i style="background:linear-gradient(#ff7e00,#ffe900 8.3%,#ff0 10.2%,#b3ff00 16.7%,#5aff00 25%,#0aff00 33.3%,#0f0 34.4%,#00ff3d 41.7%,#00ff7c 50%,#00ffb1 58.3%,#0fd 66.7%,#0ff 74.6%,#00feff 75%,#00e3ff 83.3%,#00d2ff 91.7%,#00caff)"></i><i style="background:linear-gradient(#ff7f00,#ffea00 8.3%,#ff0 10.1%,#b2ff00 16.7%,#59ff00 25%,#09ff00 33.3%,#0f0 34.4%,#00ff3e 41.7%,#00ff7c 50%,#00ffb1 58.3%,#0fd 66.7%,#0ff 74.8%,#00feff 75%,#00e4ff 83.3%,#00d3ff 91.7%,#00cbff)"></i><i style="background:linear-gradient(#ff8000,#ffeb00 8.3%,#ff0 10%,#b1ff00 16.7%,#59ff00 25%,#09ff00 33.3%,#0f0 34.3%,#00ff3e 41.7%,#00ff7c 50%,#00ffb1 58.3%,#00ffdc 66.7%,#0ff 75%,#0ff 75%,#00e5ff 83.3%,#00d4ff 91.7%,#0cf)"></i><i style="background:linear-gradient(#ff8200,#ffec00 8.3%,#ff0 9.9%,#b0ff00 16.7%,#58ff00 25%,#08ff00 33.3%,#0f0 34.3%,#00ff3e 41.7%,#00ff7c 50%,#00ffb0 58.3%,#00ffdc 66.7%,#0ff 75%,#0ff 75.1%,#00e6ff 83.3%,#00d5ff 91.7%,#00ceff)"></i><i style="background:linear-gradient(#ff8300,#ffed00 8.3%,#ff0 9.8%,#afff00 16.7%,#57ff00 25%,#08ff00 33.3%,#0f0 34.2%,#00ff3f 41.7%,#00ff7c 50%,#00ffb0 58.3%,#00ffdc 66.7%,#00fffe 75%,#0ff 75.3%,#00e7ff 83.3%,#00d6ff 91.7%,#00cfff)"></i><i style="background:linear-gradient(#ff8500,#fe0 8.3%,#ff0 9.7%,#aeff00 16.7%,#56ff00 25%,#07ff00 33.3%,#0f0 34.2%,#00ff3f 41.7%,#00ff7c 50%,#00ffb0 58.3%,#00ffdb 66.7%,#00fffd 75%,#0ff 75.5%,#00e8ff 83.3%,#00d7ff 91.7%,#00d0ff)"></i><i style="background:linear-gradient(#ff8600,#fff000 8.3%,#ff0 9.6%,#adff00 16.7%,#56ff00 25%,#07ff00 33.3%,#0f0 34.1%,#00ff3f 41.7%,#00ff7c 50%,#00ffb0 58.3%,#00ffdb 66.7%,#00fffd 75%,#0ff 75.7%,#00e8ff 83.3%,#00d8ff 91.7%,#00d1ff)"></i><i style="background:linear-gradient(#ff8700,#fff100 8.3%,#ff0 9.5%,#acff00 16.7%,#5f0 25%,#06ff00 33.3%,#0f0 34%,#00ff3f 41.7%,#00ff7c 50%,#00ffb0 58.3%,#00ffda 66.7%,#00fffc 75%,#0ff 75.8%,#00e9ff 83.3%,#00d9ff 91.7%,#00d3ff)"></i><i style="background:linear-gradient(#ff8900,#fff200 8.3%,#ff0 9.4%,#abff00 16.7%,#54ff00 25%,#06ff00 33.3%,#0f0 34%,#00ff40 41.7%,#00ff7c 50%,#00ffaf 58.3%,#00ffda 66.7%,#00fffb 75%,#0ff 76%,#00eaff 83.3%,#00dbff 91.7%,#00d4ff)"></i><i style="background:linear-gradient(#ff8a00,#fff300 8.3%,#ff0 9.3%,#af0 16.7%,#53ff00 25%,#05ff00 33.3%,#0f0 33.9%,#00ff40 41.7%,#00ff7c 50%,#00ffaf 58.3%,#00ffda 66.7%,#00fffb 75%,#0ff 76.2%,#00ebff 83.3%,#00dcff 91.7%,#00d5ff)"></i><i style="background:linear-gradient(#ff8c00,#fff500 8.3%,#ff0 9.2%,#a9ff00 16.7%,#53ff00 25%,#05ff00 33.3%,#0f0 33.9%,#00ff40 41.7%,#00ff7c 50%,#00ffaf 58.3%,#00ffd9 66.7%,#00fffa 75%,#0ff 76.4%,#00ecff 83.3%,#0df 91.7%,#00d7ff)"></i><i style="background:linear-gradient(#ff8d00,#fff600 8.3%,#ff0 9.1%,#a8ff00 16.7%,#52ff00 25%,#04ff00 33.3%,#0f0 33.8%,#00ff41 41.7%,#00ff7c 50%,#00ffaf 58.3%,#00ffd9 66.7%,#00fffa 75%,#0ff 76.6%,#00edff 83.3%,#00deff 91.7%,#00d8ff)"></i><i style="background:linear-gradient(#ff8f00,#fff700 8.3%,#ff0 9%,#a7ff00 16.7%,#51ff00 25%,#04ff00 33.3%,#0f0 33.7%,#00ff41 41.7%,#00ff7c 50%,#00ffaf 58.3%,#00ffd8 66.7%,#00fff9 75%,#0ff 76.9%,#00edff 83.3%,#00dfff 91.7%,#00d9ff)"></i><i style="background:linear-gradient(#ff9000,#fff800 8.3%,#ff0 8.9%,#a6ff00 16.7%,#50ff00 25%,#03ff00 33.3%,#0f0 33.7%,#00ff41 41.7%,#00ff7c 50%,#00ffaf 58.3%,#00ffd8 66.7%,#00fff8 75%,#0ff 77.1%,#0ef 83.3%,#00e0ff 91.7%,#00dbff)"></i><i style="background:linear-gradient(#ff9200,#fffa00 8.3%,#ff0 8.8%,#a5ff00 16.7%,#4fff00 25%,#02ff00 33.3%,#0f0 33.6%,#00ff42 41.7%,#00ff7d 50%,#00ffaf 58.3%,#00ffd8 66.7%,#00fff8 75%,#0ff 77.3%,#00efff 83.3%,#00e1ff 91.7%,#00dcff)"></i><i style="background:linear-gradient(#ff9300,#fffb00 8.3%,#ff0 8.7%,#a4ff00 16.7%,#4fff00 25%,#02ff00 33.3%,#0f0 33.6%,#00ff42 41.7%,#00ff7d 50%,#00ffae 58.3%,#00ffd7 66.7%,#00fff7 75%,#0ff 77.5%,#00f0ff 83.3%,#00e2ff 91.7%,#0df)"></i><i style="background:linear-gradient(#ff9500,#fffc00 8.3%,#ff0 8.6%,#a3ff00 16.7%,#4eff00 25%,#01ff00 33.3%,#0f0 33.5%,#00ff42 41.7%,#00ff7d 50%,#00ffae 58.3%,#00ffd7 66.7%,#00fff6 75%,#0ff 77.8%,#00f1ff 83.3%,#00e3ff 91.7%,#00dfff)"></i><i style="background:linear-gradient(#ff9600,#fffe00 8.3%,#ff0 8.5%,#a2ff00 16.7%,#4dff00 25%,#01ff00 33.3%,#0f0 33.4%,#00ff43 41.7%,#00ff7d 50%,#00ffae 58.3%,#00ffd7 66.7%,#00fff6 75%,#0ff 78%,#00f2ff 83.3%,#00e4ff 91.7%,#00e0ff)"></i><i style="background:linear-gradient(#ff9800,#ff0 8.3%,#a1ff00 16.7%,#4cff00 25%,#0f0 33.3%,#0f0 33.3%,#00ff43 41.7%,#00ff7d 50%,#00ffae 58.3%,#00ffd6 66.7%,#00fff5 75%,#0ff 78.3%,#00f3ff 83.3%,#00e6ff 91.7%,#00e1ff)"></i><i style="background:linear-gradient(#ff9a00,#ff0 8.2%,#feff00 8.3%,#a0ff00 16.7%,#4bff00 25%,#0f0 33.3%,#00ff01 33.3%,#00ff43 41.7%,#00ff7d 50%,#00ffae 58.3%,#00ffd6 66.7%,#00fff5 75%,#0ff 78.5%,#00f4ff 83.3%,#00e7ff 91.7%,#00e3ff)"></i><i style="background:linear-gradient(#ff9b00,#ff0 8.1%,#fcff00 8.3%,#9fff00 16.7%,#4aff00 25%,#0f0 33.2%,#00ff01 33.3%,#0f4 41.7%,#00ff7d 50%,#00ffae 58.3%,#00ffd5 66.7%,#00fff4 75%,#0ff 78.8%,#00f4ff 83.3%,#00e8ff 91.7%,#00e4ff)"></i><i style="background:linear-gradient(#ff9d00,#ff0 8%,#fbff00 8.3%,#9eff00 16.7%,#49ff00 25%,#0f0 33.1%,#00ff02 33.3%,#0f4 41.7%,#00ff7d 50%,#00ffae 58.3%,#00ffd5 66.7%,#00fff3 75%,#0ff 79.1%,#00f5ff 83.3%,#00e9ff 91.7%,#00e5ff)"></i><i style="background:linear-gradient(#ff9f00,#ff0 7.9%,#faff00 8.3%,#9cff00 16.7%,#49ff00 25%,#0f0 33%,#00ff02 33.3%,#00ff45 41.7%,#00ff7e 50%,#00ffae 58.3%,#00ffd5 66.7%,#00fff3 75%,#0ff 79.4%,#00f6ff 83.3%,#00eaff 91.7%,#00e7ff)"></i><i style="background:linear-gradient(#ffa000,#ff0 7.7%,#f8ff00 8.3%,#9bff00 16.7%,#48ff00 25%,#0f0 33%,#00ff03 33.3%,#00ff45 41.7%,#00ff7e 50%,#00ffad 58.3%,#00ffd4 66.7%,#00fff2 75%,#0ff 79.7%,#00f7ff 83.3%,#00ebff 91.7%,#00e8ff)"></i><i style="background:linear-gradient(#ffa200,#ff0 7.6%,#f7ff00 8.3%,#9aff00 16.7%,#47ff00 25%,#0f0 32.9%,#00ff04 33.3%,#00ff45 41.7%,#00ff7e 50%,#00ffad 58.3%,#00ffd4 66.7%,#00fff2 75%,#0ff 80%,#00f8ff 83.3%,#00ecff 91.7%,#00eaff)"></i><i style="background:linear-gradient(#ffa400,#ff0 7.5%,#f5ff00 8.3%,#9f0 16.7%,#46ff00 25%,#0f0 32.8%,#00ff04 33.3%,#00ff46 41.7%,#00ff7e 50%,#00ffad 58.3%,#00ffd4 66.7%,#00fff1 75%,#0ff 80.3%,#00f9ff 83.3%,#00edff 91.7%,#00ebff)"></i><i style="background:linear-gradient(#ffa500,#ff0 7.4%,#f4ff00 8.3%,#98ff00 16.7%,#45ff00 25%,#0f0 32.7%,#00ff05 33.3%,#00ff46 41.7%,#00ff7e 50%,#00ffad 58.3%,#00ffd3 66.7%,#00fff0 75%,#0ff 80.7%,#00faff 83.3%,#0ef 91.7%,#00ecff)"></i><i style="background:linear-gradient(#ffa700,#ff0 7.2%,#f2ff00 8.3%,#97ff00 16.7%,#4f0 25%,#0f0 32.6%,#00ff06 33.3%,#00ff47 41.7%,#00ff7e 50%,#00ffad 58.3%,#00ffd3 66.7%,#00fff0 75%,#0ff 81.1%,#00faff 83.3%,#00f0ff 91.7%,#0ef)"></i><i style="background:linear-gradient(#ffa900,#ff0 7.1%,#f1ff00 8.3%,#95ff00 16.7%,#43ff00 25%,#0f0 32.6%,#00ff06 33.3%,#00ff47 41.7%,#00ff7e 50%,#00ffad 58.3%,#00ffd3 66.7%,#00ffef 75%,#0ff 81.4%,#00fbff 83.3%,#00f1ff 91.7%,#00efff)"></i><i style="background:linear-gradient(#ffab00,#ff0 7%,#efff00 8.3%,#94ff00 16.7%,#42ff00 25%,#0f0 32.5%,#00ff07 33.3%,#00ff47 41.7%,#00ff7f 50%,#00ffad 58.3%,#00ffd2 66.7%,#0fe 75%,#0ff 81.8%,#00fcff 83.3%,#00f2ff 91.7%,#00f1ff)"></i><i style="background:linear-gradient(#ffac00,#ff0 6.9%,#ef0 8.3%,#93ff00 16.7%,#41ff00 25%,#0f0 32.4%,#00ff08 33.3%,#00ff48 41.7%,#00ff7f 50%,#00ffad 58.3%,#00ffd2 66.7%,#0fe 75%,#0ff 82.3%,#00fdff 83.3%,#00f3ff 91.7%,#00f2ff)"></i><i style="background:linear-gradient(#ffae00,#ff0 6.7%,#ecff00 8.3%,#92ff00 16.7%,#40ff00 25%,#0f0 32.3%,#00ff09 33.3%,#00ff48 41.7%,#00ff7f 50%,#00ffad 58.3%,#00ffd1 66.7%,#00ffed 75%,#0ff 82.8%,#00feff 83.3%,#00f4ff 91.7%,#00f3ff)"></i><i style="background:linear-gradient(#ffb000,#ff0 6.6%,#ebff00 8.3%,#90ff00 16.7%,#3fff00 25%,#0f0 32.2%,#00ff09 33.3%,#00ff49 41.7%,#00ff7f 50%,#00ffad 58.3%,#00ffd1 66.7%,#00ffed 75%,#0ff 83.3%,#0ff 83.3%,#00f5ff 91.7%,#00f5ff)"></i><i style="background:linear-gradient(#ffb200,#ff0 6.4%,#e9ff00 8.3%,#8fff00 16.7%,#3eff00 25%,#0f0 32.1%,#00ff0a 33.3%,#00ff49 41.7%,#00ff7f 50%,#00ffad 58.3%,#00ffd1 66.7%,#00ffec 75%,#00fffe 83.3%,#0ff 83.8%,#00f7ff 91.7%,#00f6ff)"></i><i style="background:linear-gradient(#ffb300,#ff0 6.3%,#e8ff00 8.3%,#8eff00 16.7%,#3dff00 25%,#0f0 32%,#00ff0b 33.3%,#00ff4a 41.7%,#00ff80 50%,#00ffad 58.3%,#00ffd0 66.7%,#00ffeb 75%,#00fffd 83.3%,#0ff 84.4%,#00f8ff 91.7%,#00f8ff)"></i><i style="background:linear-gradient(#ffb500,#ff0 6.2%,#e6ff00 8.3%,#8dff00 16.7%,#3cff00 25%,#0f0 31.9%,#00ff0c 33.3%,#00ff4a 41.7%,#00ff80 50%,#00ffac 58.3%,#00ffd0 66.7%,#00ffeb 75%,#00fffc 83.3%,#0ff 85%,#00f9ff 91.7%,#00f9ff)"></i><i style="background:linear-gradient(#ffb700,#ff0 6%,#e5ff00 8.3%,#8bff00 16.7%,#3bff00 25%,#0f0 31.8%,#00ff0c 33.3%,#00ff4b 41.7%,#00ff80 50%,#00ffac 58.3%,#00ffd0 66.7%,#00ffea 75%,#00fffc 83.3%,#0ff 85.8%,#00faff 91.7%,#00fbff)"></i><i style="background:linear-gradient(#ffb900,#ff0 5.9%,#e3ff00 8.3%,#8aff00 16.7%,#3aff00 25%,#0f0 31.7%,#00ff0d 33.3%,#00ff4b 41.7%,#00ff80 50%,#00ffac 58.3%,#00ffcf 66.7%,#00ffea 75%,#00fffb 83.3%,#0ff 86.6%,#00fbff 91.7%,#00fcff)"></i><i style="background:linear-gradient(#fb0,#ff0 5.7%,#e1ff00 8.3%,#89ff00 16.7%,#39ff00 25%,#0f0 31.6%,#00ff0e 33.3%,#00ff4c 41.7%,#00ff80 50%,#00ffac 58.3%,#00ffcf 66.7%,#00ffe9 75%,#00fffa 83.3%,#0ff 87.6%,#00fcff 91.7%,#00fdff)"></i><i style="background:linear-gradient(#ffbd00,#ff0 5.6%,#e0ff00 8.3%,#87ff00 16.7%,#38ff00 25%,#0f0 31.5%,#00ff0f 33.3%,#00ff4c 41.7%,#00ff81 50%,#00ffac 58.3%,#00ffcf 66.7%,#00ffe8 75%,#00fff9 83.3%,#0ff 88.9%,#00fdff 91.7%,#0ff)"></i><i style="background:linear-gradient(#ffbf00,#ff0 5.4%,#deff00 8.3%,#86ff00 16.7%,#37ff00 25%,#0f0 31.4%,#00ff0f 33.3%,#00ff4d 41.7%,#00ff81 50%,#00ffac 58.3%,#00ffce 66.7%,#00ffe8 75%,#00fff8 83.3%,#0ff 90.8%,#0ff 97.8%,#00fffe)"></i><i style="background:linear-gradient(#ffc100,#ff0 5.3%,#dcff00 8.3%,#85ff00 16.7%,#36ff00 25%,#0f0 31.3%,#00ff10 33.3%,#00ff4d 41.7%,#00ff81 50%,#00ffac 58.3%,#00ffce 66.7%,#00ffe7 75%,#00fff7 83.3%,#00fffe 91.7%,#00fffc)"></i><i style="background:linear-gradient(#ffc300,#ff0 5.1%,#dbff00 8.3%,#83ff00 16.7%,#35ff00 25%,#0f0 31.2%,#0f1 33.3%,#00ff4e 41.7%,#00ff81 50%,#00ffac 58.3%,#00ffce 66.7%,#00ffe6 75%,#00fff6 83.3%,#00fffd 91.7%,#00fffb)"></i><i style="background:linear-gradient(#ffc500,#ff0 5%,#d9ff00 8.3%,#82ff00 16.7%,#3f0 25%,#0f0 31.1%,#00ff12 33.3%,#00ff4e 41.7%,#00ff82 50%,#00ffac 58.3%,#00ffcd 66.7%,#00ffe6 75%,#00fff5 83.3%,#00fffc 91.7%,#00fff9)"></i><i style="background:linear-gradient(#ffc700,#ff0 4.8%,#d7ff00 8.3%,#80ff00 16.7%,#32ff00 25%,#0f0 31%,#00ff13 33.3%,#00ff4f 41.7%,#00ff82 50%,#00ffac 58.3%,#00ffcd 66.7%,#00ffe5 75%,#00fff4 83.3%,#00fffb 91.7%,#00fff8)"></i><i style="background:linear-gradient(#ffc900,#ff0 4.6%,#d6ff00 8.3%,#7fff00 16.7%,#31ff00 25%,#0f0 30.9%,#00ff14 33.3%,#00ff4f 41.7%,#00ff82 50%,#00ffac 58.3%,#00ffcd 66.7%,#00ffe5 75%,#00fff4 83.3%,#00fff9 91.7%,#00fff6)"></i><i style="background:linear-gradient(#ffcb00,#ff0 4.5%,#d4ff00 8.3%,#7eff00 16.7%,#30ff00 25%,#0f0 30.7%,#00ff14 33.3%,#00ff50 41.7%,#00ff82 50%,#00ffac 58.3%,#0fc 66.7%,#00ffe4 75%,#00fff3 83.3%,#00fff8 91.7%,#00fff5)"></i><i style="background:linear-gradient(#ffcd00,#ff0 4.3%,#d2ff00 8.3%,#7cff00 16.7%,#2fff00 25%,#0f0 30.6%,#00ff15 33.3%,#00ff50 41.7%,#00ff83 50%,#00ffac 58.3%,#0fc 66.7%,#00ffe3 75%,#00fff2 83.3%,#00fff7 91.7%,#00fff3)"></i><i style="background:linear-gradient(#ffcf00,#ff0 4.2%,#d1ff00 8.3%,#7bff00 16.7%,#2eff00 25%,#0f0 30.5%,#00ff16 33.3%,#00ff51 41.7%,#00ff83 50%,#00ffac 58.3%,#0fc 66.7%,#00ffe3 75%,#00fff1 83.3%,#00fff6 91.7%,#00fff2)"></i><i style="background:linear-gradient(#ffd100,#ff0 4%,#cfff00 8.3%,#79ff00 16.7%,#2dff00 25%,#0f0 30.4%,#00ff17 33.3%,#00ff52 41.7%,#00ff83 50%,#00ffac 58.3%,#0fc 66.7%,#00ffe2 75%,#00fff0 83.3%,#00fff5 91.7%,#00fff0)"></i><i style="background:linear-gradient(#ffd300,#ff0 3.8%,#cdff00 8.3%,#78ff00 16.7%,#2bff00 25%,#0f0 30.2%,#00ff18 33.3%,#00ff52 41.7%,#00ff83 50%,#00ffac 58.3%,#00ffcb 66.7%,#00ffe2 75%,#00ffef 83.3%,#00fff3 91.7%,#00ffef)"></i><i style="background:linear-gradient(#ffd500,#ff0 3.6%,#cbff00 8.3%,#76ff00 16.7%,#2aff00 25%,#0f0 30.1%,#00ff19 33.3%,#00ff53 41.7%,#00ff84 50%,#00ffac 58.3%,#00ffcb 66.7%,#00ffe1 75%,#0fe 83.3%,#00fff2 91.7%,#00ffed)"></i><i style="background:linear-gradient(#ffd700,#ff0 3.5%,#caff00 8.3%,#75ff00 16.7%,#29ff00 25%,#0f0 30%,#00ff1a 33.3%,#00ff53 41.7%,#00ff84 50%,#00ffac 58.3%,#00ffcb 66.7%,#00ffe0 75%,#00ffed 83.3%,#00fff1 91.7%,#00ffec)"></i><i style="background:linear-gradient(#ffd900,#ff0 3.3%,#c8ff00 8.3%,#73ff00 16.7%,#28ff00 25%,#0f0 29.9%,#00ff1a 33.3%,#00ff54 41.7%,#00ff84 50%,#00ffac 58.3%,#00ffca 66.7%,#00ffe0 75%,#00ffec 83.3%,#00fff0 91.7%,#00ffea)"></i><i style="background:linear-gradient(#ffdb00,#ff0 3.1%,#c6ff00 8.3%,#72ff00 16.7%,#27ff00 25%,#0f0 29.7%,#00ff1b 33.3%,#0f5 41.7%,#00ff85 50%,#00ffac 58.3%,#00ffca 66.7%,#00ffdf 75%,#00ffeb 83.3%,#00ffef 91.7%,#00ffe9)"></i><i style="background:linear-gradient(#fd0,#ff0 2.9%,#c4ff00 8.3%,#70ff00 16.7%,#25ff00 25%,#0f0 29.6%,#00ff1c 33.3%,#0f5 41.7%,#00ff85 50%,#00ffac 58.3%,#00ffca 66.7%,#00ffdf 75%,#00ffea 83.3%,#00ffed 91.7%,#00ffe7)"></i><i style="background:linear-gradient(#ffdf00,#ff0 2.8%,#c2ff00 8.3%,#6fff00 16.7%,#24ff00 25%,#0f0 29.5%,#00ff1d 33.3%,#00ff56 41.7%,#00ff85 50%,#00ffac 58.3%,#00ffc9 66.7%,#00ffde 75%,#00ffea 83.3%,#00ffec 91.7%,#00ffe6)"></i><i style="background:linear-gradient(#ffe200,#ff0 2.6%,#c0ff00 8.3%,#6dff00 16.7%,#23ff00 25%,#0f0 29.3%,#00ff1e 33.3%,#00ff56 41.7%,#00ff86 50%,#00ffac 58.3%,#00ffc9 66.7%,#0fd 75%,#00ffe9 83.3%,#00ffeb 91.7%,#00ffe4)"></i><i style="background:linear-gradient(#ffe400,#ff0 2.4%,#beff00 8.3%,#6cff00 16.7%,#2f0 25%,#0f0 29.2%,#00ff1f 33.3%,#00ff57 41.7%,#00ff86 50%,#00ffac 58.3%,#00ffc9 66.7%,#0fd 75%,#00ffe8 83.3%,#00ffea 91.7%,#00ffe3)"></i><i style="background:linear-gradient(#ffe600,#ff0 2.2%,#bdff00 8.3%,#6aff00 16.7%,#20ff00 25%,#0f0 29%,#00ff20 33.3%,#00ff58 41.7%,#00ff86 50%,#00ffac 58.3%,#00ffc8 66.7%,#00ffdc 75%,#00ffe7 83.3%,#00ffe8 91.7%,#00ffe1)"></i><i style="background:linear-gradient(#ffe800,#ff0 2%,#bf0 8.3%,#68ff00 16.7%,#1fff00 25%,#0f0 28.9%,#00ff21 33.3%,#00ff58 41.7%,#00ff87 50%,#00ffac 58.3%,#00ffc8 66.7%,#00ffdc 75%,#00ffe6 83.3%,#00ffe7 91.7%,#00ffe0)"></i><i style="background:linear-gradient(#ffea00,#ff0 1.8%,#b9ff00 8.3%,#67ff00 16.7%,#1eff00 25%,#0f0 28.8%,#0f2 33.3%,#00ff59 41.7%,#00ff87 50%,#00ffac 58.3%,#00ffc8 66.7%,#00ffdb 75%,#00ffe5 83.3%,#00ffe6 91.7%,#00ffde)"></i><i style="background:linear-gradient(#ffed00,#ff0 1.6%,#b7ff00 8.3%,#65ff00 16.7%,#1dff00 25%,#0f0 28.6%,#00ff23 33.3%,#00ff5a 41.7%,#00ff87 50%,#00ffac 58.3%,#00ffc8 66.7%,#00ffda 75%,#00ffe4 83.3%,#00ffe5 91.7%,#0fd)"></i><i style="background:linear-gradient(#ffef00,#ff0 1.4%,#b5ff00 8.3%,#64ff00 16.7%,#1bff00 25%,#0f0 28.5%,#00ff24 33.3%,#00ff5a 41.7%,#0f8 50%,#00ffac 58.3%,#00ffc7 66.7%,#00ffda 75%,#00ffe3 83.3%,#00ffe4 91.7%,#00ffdb)"></i><i style="background:linear-gradient(#fff100,#ff0 1.2%,#b3ff00 8.3%,#62ff00 16.7%,#1aff00 25%,#0f0 28.3%,#00ff25 33.3%,#00ff5b 41.7%,#0f8 50%,#00ffac 58.3%,#00ffc7 66.7%,#00ffd9 75%,#00ffe2 83.3%,#00ffe2 91.7%,#00ffd9)"></i><i style="background:linear-gradient(#fff300,#ff0 1%,#b1ff00 8.3%,#60ff00 16.7%,#19ff00 25%,#0f0 28.1%,#00ff26 33.3%,#00ff5c 41.7%,#0f8 50%,#00ffac 58.3%,#00ffc7 66.7%,#00ffd8 75%,#00ffe1 83.3%,#00ffe1 91.7%,#00ffd8)"></i><i style="background:linear-gradient(#fff600,#ff0 0.8%,#afff00 8.3%,#5fff00 16.7%,#17ff00 25%,#0f0 28%,#00ff27 33.3%,#00ff5c 41.7%,#00ff89 50%,#00ffac 58.3%,#00ffc6 66.7%,#00ffd8 75%,#00ffe0 83.3%,#00ffe0 91.7%,#00ffd6)"></i><i style="background:linear-gradient(#fff800,#ff0 0.6%,#adff00 8.3%,#5dff00 16.7%,#16ff00 25%,#0f0 27.8%,#00ff28 33.3%,#00ff5d 41.7%,#00ff89 50%,#00ffac 58.3%,#00ffc6 66.7%,#00ffd7 75%,#00ffdf 83.3%,#00ffdf 91.7%,#00ffd5)"></i><i style="background:linear-gradient(#fffa00,#ff0 0.4%,#abff00 8.3%,#5bff00 16.7%,#15ff00 25%,#0f0 27.7%,#00ff29 33.3%,#00ff5e 41.7%,#00ff89 50%,#00ffac 58.3%,#00ffc6 66.7%,#00ffd7 75%,#00ffde 83.3%,#0fd 91.7%,#00ffd3)"></i><i style="background:linear-gradient(#fffd00,#ff0 0.2%,#a9ff00 8.3%,#5aff00 16.7%,#13ff00 25%,#0f0 27.5%,#00ff2a 33.3%,#00ff5e 41.7%,#00ff8a 50%,#00ffac 58.3%,#00ffc6 66.7%,#00ffd6 75%,#00ffde 83.3%,#00ffdc 91.7%,#00ffd1)"></i><i style="background:linear-gradient(#ff0,#a7ff00 8.3%,#58ff00 16.7%,#12ff00 25%,#0f0 27.3%,#00ff2b 33.3%,#00ff5f 41.7%,#00ff8a 50%,#00ffac 58.3%,#00ffc5 66.7%,#00ffd5 75%,#0fd 83.3%,#00ffdb 91.7%,#00ffd0)"></i><i style="background:linear-gradient(#fdff00,#a5ff00 8.3%,#56ff00 16.7%,#1f0 25%,#0f0 27.2%,#00ff2c 33.3%,#00ff60 41.7%,#00ff8b 50%,#00ffac 58.3%,#00ffc5 66.7%,#00ffd5 75%,#00ffdc 83.3%,#00ffd9 91.7%,#00ffce)"></i><i style="background:linear-gradient(#faff00,#a3ff00 8.3%,#5f0 16.7%,#0fff00 25%,#0f0 27%,#00ff2d 33.3%,#00ff61 41.7%,#00ff8b 50%,#00ffac 58.3%,#00ffc5 66.7%,#00ffd4 75%,#00ffdb 83.3%,#00ffd8 91.7%,#00ffcd)"></i><i style="background:linear-gradient(#f8ff00,#a1ff00 8.3%,#53ff00 16.7%,#0eff00 25%,#0f0 26.8%,#00ff2e 33.3%,#00ff61 41.7%,#00ff8b 50%,#00ffac 58.3%,#00ffc5 66.7%,#00ffd4 75%,#00ffda 83.3%,#00ffd7 91.7%,#00ffcb)"></i><i style="background:linear-gradient(#f5ff00,#9fff00 8.3%,#51ff00 16.7%,#0cff00 25%,#0f0 26.6%,#00ff2f 33.3%,#00ff62 41.7%,#00ff8c 50%,#00ffac 58.3%,#00ffc4 66.7%,#00ffd3 75%,#00ffd9 83.3%,#00ffd6 91.7%,#00ffc9)"></i><i style="background:linear-gradient(#f3ff00,#9dff00 8.3%,#4fff00 16.7%,#0bff00 25%,#0f0 26.5%,#00ff30 33.3%,#00ff63 41.7%,#00ff8c 50%,#00ffad 58.3%,#00ffc4 66.7%,#00ffd2 75%,#00ffd8 83.3%,#00ffd4 91.7%,#00ffc8)"></i><i style="background:linear-gradient(#f1ff00,#9bff00 8.3%,#4eff00 16.7%,#0aff00 25%,#0f0 26.3%,#00ff31 33.3%,#00ff64 41.7%,#00ff8d 50%,#00ffad 58.3%,#00ffc4 66.7%,#00ffd2 75%,#00ffd7 83.3%,#00ffd3 91.7%,#00ffc6)"></i><i style="background:linear-gradient(#ef0,#98ff00 8.3%,#4cff00 16.7%,#08ff00 25%,#0f0 26.1%,#0f3 33.3%,#00ff64 41.7%,#00ff8d 50%,#00ffad 58.3%,#00ffc3 66.7%,#00ffd1 75%,#00ffd6 83.3%,#00ffd2 91.7%,#00ffc5)"></i><i style="background:linear-gradient(#ecff00,#96ff00 8.3%,#4aff00 16.7%,#07ff00 25%,#0f0 25.9%,#00ff34 33.3%,#00ff65 41.7%,#00ff8d 50%,#00ffad 58.3%,#00ffc3 66.7%,#00ffd1 75%,#00ffd5 83.3%,#00ffd1 91.7%,#00ffc3)"></i><i style="background:linear-gradient(#e9ff00,#94ff00 8.3%,#48ff00 16.7%,#05ff00 25%,#0f0 25.7%,#00ff35 33.3%,#0f6 41.7%,#00ff8e 50%,#00ffad 58.3%,#00ffc3 66.7%,#00ffd0 75%,#00ffd4 83.3%,#00ffcf 91.7%,#00ffc1)"></i><i style="background:linear-gradient(#e7ff00,#92ff00 8.3%,#46ff00 16.7%,#04ff00 25%,#0f0 25.5%,#00ff36 33.3%,#00ff67 41.7%,#00ff8e 50%,#00ffad 58.3%,#00ffc3 66.7%,#00ffcf 75%,#00ffd3 83.3%,#00ffce 91.7%,#00ffc0)"></i><i style="background:linear-gradient(#e4ff00,#90ff00 8.3%,#45ff00 16.7%,#02ff00 25%,#0f0 25.3%,#00ff37 33.3%,#00ff67 41.7%,#00ff8f 50%,#00ffad 58.3%,#00ffc2 66.7%,#00ffcf 75%,#00ffd2 83.3%,#00ffcd 91.7%,#00ffbe)"></i><i style="background:linear-gradient(#e2ff00,#8eff00 8.3%,#43ff00 16.7%,#01ff00 25%,#0f0 25.1%,#00ff38 33.3%,#00ff68 41.7%,#00ff8f 50%,#00ffad 58.3%,#00ffc2 66.7%,#00ffce 75%,#00ffd1 83.3%,#00ffcb 91.7%,#00ffbc)"></i><i style="background:linear-gradient(#dfff00,#8bff00 8.3%,#41ff00 16.7%,#0f0 24.9%,#00ff01 25%,#00ff39 33.3%,#00ff69 41.7%,#00ff90 50%,#00ffad 58.3%,#00ffc2 66.7%,#00ffce 75%,#00ffd0 83.3%,#00ffca 91.7%,#0fb)"></i><i style="background:linear-gradient(#dcff00,#89ff00 8.3%,#3fff00 16.7%,#0f0 24.7%,#00ff02 25%,#00ff3a 33.3%,#00ff6a 41.7%,#00ff90 50%,#00ffad 58.3%,#00ffc2 66.7%,#00ffcd 75%,#00ffcf 83.3%,#00ffc9 91.7%,#00ffb9)"></i><i style="background:linear-gradient(#daff00,#87ff00 8.3%,#3dff00 16.7%,#0f0 24.5%,#00ff04 25%,#00ff3c 33.3%,#00ff6b 41.7%,#00ff91 50%,#00ffad 58.3%,#00ffc1 66.7%,#0fc 75%,#00ffce 83.3%,#00ffc7 91.7%,#00ffb7)"></i><i style="background:linear-gradient(#d7ff00,#85ff00 8.3%,#3bff00 16.7%,#0f0 24.3%,#00ff05 25%,#00ff3d 33.3%,#00ff6b 41.7%,#00ff91 50%,#00ffae 58.3%,#00ffc1 66.7%,#0fc 75%,#00ffcd 83.3%,#00ffc6 91.7%,#00ffb6)"></i><i style="background:linear-gradient(#d5ff00,#83ff00 8.3%,#39ff00 16.7%,#0f0 24.1%,#00ff07 25%,#00ff3e 33.3%,#00ff6c 41.7%,#00ff91 50%,#00ffae 58.3%,#00ffc1 66.7%,#00ffcb 75%,#00ffcd 83.3%,#00ffc5 91.7%,#00ffb4)"></i><i style="background:linear-gradient(#d2ff00,#80ff00 8.3%,#37ff00 16.7%,#0f0 23.8%,#00ff08 25%,#00ff3f 33.3%,#00ff6d 41.7%,#00ff92 50%,#00ffae 58.3%,#00ffc1 66.7%,#00ffcb 75%,#0fc 83.3%,#00ffc4 91.7%,#00ffb2)"></i><i style="background:linear-gradient(#cfff00,#7eff00 8.3%,#36ff00 16.7%,#0f0 23.6%,#00ff0a 25%,#00ff40 33.3%,#00ff6e 41.7%,#00ff92 50%,#00ffae 58.3%,#00ffc0 66.7%,#00ffca 75%,#00ffcb 83.3%,#00ffc2 91.7%,#00ffb1)"></i><i style="background:linear-gradient(#cdff00,#7cff00 8.3%,#34ff00 16.7%,#0f0 23.4%,#00ff0b 25%,#00ff42 33.3%,#00ff6f 41.7%,#00ff93 50%,#00ffae 58.3%,#00ffc0 66.7%,#00ffc9 75%,#00ffca 83.3%,#00ffc1 91.7%,#00ffaf)"></i><i style="background:linear-gradient(#caff00,#79ff00 8.3%,#32ff00 16.7%,#0f0 23.2%,#00ff0d 25%,#00ff43 33.3%,#00ff70 41.7%,#00ff93 50%,#00ffae 58.3%,#00ffc0 66.7%,#00ffc9 75%,#00ffc9 83.3%,#00ffc0 91.7%,#00ffad)"></i><i style="background:linear-gradient(#c7ff00,#7f0 8.3%,#30ff00 16.7%,#0f0 22.9%,#00ff0f 25%,#0f4 33.3%,#00ff70 41.7%,#00ff94 50%,#00ffae 58.3%,#00ffc0 66.7%,#00ffc8 75%,#00ffc8 83.3%,#00ffbe 91.7%,#00ffac)"></i><i style="background:linear-gradient(#c5ff00,#75ff00 8.3%,#2eff00 16.7%,#0f0 22.7%,#00ff10 25%,#00ff45 33.3%,#00ff71 41.7%,#00ff94 50%,#00ffae 58.3%,#00ffc0 66.7%,#00ffc8 75%,#00ffc7 83.3%,#00ffbd 91.7%,#0fa)"></i><i style="background:linear-gradient(#c2ff00,#72ff00 8.3%,#2cff00 16.7%,#0f0 22.5%,#00ff12 25%,#00ff46 33.3%,#00ff72 41.7%,#00ff95 50%,#00ffaf 58.3%,#00ffbf 66.7%,#00ffc7 75%,#00ffc6 83.3%,#00ffbc 91.7%,#00ffa8)"></i><i style="background:linear-gradient(#bfff00,#70ff00 8.3%,#2aff00 16.7%,#0f0 22.2%,#00ff13 25%,#00ff48 33.3%,#00ff73 41.7%,#00ff95 50%,#00ffaf 58.3%,#00ffbf 66.7%,#00ffc6 75%,#00ffc5 83.3%,#00ffba 91.7%,#00ffa7)"></i><i style="background:linear-gradient(#bdff00,#6eff00 8.3%,#28ff00 16.7%,#0f0 22%,#00ff15 25%,#00ff49 33.3%,#00ff74 41.7%,#00ff96 50%,#00ffaf 58.3%,#00ffbf 66.7%,#00ffc6 75%,#00ffc4 83.3%,#00ffb9 91.7%,#00ffa5)"></i><i style="background:linear-gradient(#baff00,#6bff00 8.3%,#26ff00 16.7%,#0f0 21.7%,#00ff17 25%,#00ff4a 33.3%,#00ff75 41.7%,#00ff96 50%,#00ffaf 58.3%,#00ffbf 66.7%,#00ffc5 75%,#00ffc3 83.3%,#00ffb8 91.7%,#00ffa3)"></i><i style="background:linear-gradient(#b7ff00,#69ff00 8.3%,#24ff00 16.7%,#0f0 21.5%,#00ff18 25%,#00ff4c 33.3%,#00ff76 41.7%,#00ff97 50%,#00ffaf 58.3%,#00ffbe 66.7%,#00ffc5 75%,#00ffc2 83.3%,#00ffb6 91.7%,#00ffa1)"></i><i style="background:linear-gradient(#b4ff00,#67ff00 8.3%,#2f0 16.7%,#0f0 21.2%,#00ff1a 25%,#00ff4d 33.3%,#0f7 41.7%,#00ff97 50%,#00ffaf 58.3%,#00ffbe 66.7%,#00ffc4 75%,#00ffc1 83.3%,#00ffb5 91.7%,#00ffa0)"></i><i style="background:linear-gradient(#b1ff00,#64ff00 8.3%,#20ff00 16.7%,#0f0 21%,#00ff1c 25%,#00ff4e 33.3%,#00ff78 41.7%,#00ff98 50%,#00ffaf 58.3%,#00ffbe 66.7%,#00ffc3 75%,#00ffc0 83.3%,#00ffb3 91.7%,#00ff9e)"></i><i style="background:linear-gradient(#afff00,#62ff00 8.3%,#1eff00 16.7%,#0f0 20.7%,#00ff1d 25%,#00ff4f 33.3%,#00ff78 41.7%,#0f9 50%,#00ffb0 58.3%,#00ffbe 66.7%,#00ffc3 75%,#00ffbf 83.3%,#00ffb2 91.7%,#00ff9c)"></i><i style="background:linear-gradient(#acff00,#5fff00 8.3%,#1cff00 16.7%,#0f0 20.4%,#00ff1f 25%,#00ff51 33.3%,#00ff79 41.7%,#0f9 50%,#00ffb0 58.3%,#00ffbe 66.7%,#00ffc2 75%,#00ffbe 83.3%,#00ffb1 91.7%,#00ff9b)"></i><i style="background:linear-gradient(#a9ff00,#5dff00 8.3%,#19ff00 16.7%,#0f0 20.2%,#00ff21 25%,#00ff52 33.3%,#00ff7a 41.7%,#00ff9a 50%,#00ffb0 58.3%,#00ffbd 66.7%,#00ffc2 75%,#00ffbd 83.3%,#00ffaf 91.7%,#0f9)"></i><i style="background:linear-gradient(#a6ff00,#5aff00 8.3%,#17ff00 16.7%,#0f0 19.9%,#0f2 25%,#00ff53 33.3%,#00ff7b 41.7%,#00ff9a 50%,#00ffb0 58.3%,#00ffbd 66.7%,#00ffc1 75%,#00ffbc 83.3%,#00ffae 91.7%,#00ff97)"></i><i style="background:linear-gradient(#a3ff00,#58ff00 8.3%,#15ff00 16.7%,#0f0 19.6%,#00ff24 25%,#0f5 33.3%,#00ff7c 41.7%,#00ff9b 50%,#00ffb0 58.3%,#00ffbd 66.7%,#00ffc0 75%,#0fb 83.3%,#00ffad 91.7%,#00ff95)"></i><i style="background:linear-gradient(#a0ff00,#5f0 8.3%,#13ff00 16.7%,#0f0 19.3%,#00ff26 25%,#00ff56 33.3%,#00ff7d 41.7%,#00ff9b 50%,#00ffb0 58.3%,#00ffbd 66.7%,#00ffc0 75%,#00ffba 83.3%,#00ffab 91.7%,#00ff94)"></i><i style="background:linear-gradient(#9dff00,#53ff00 8.3%,#1f0 16.7%,#0f0 19%,#00ff28 25%,#00ff57 33.3%,#00ff7e 41.7%,#00ff9c 50%,#00ffb1 58.3%,#00ffbc 66.7%,#00ffbf 75%,#00ffb9 83.3%,#0fa 91.7%,#00ff92)"></i><i style="background:linear-gradient(#9bff00,#50ff00 8.3%,#0fff00 16.7%,#0f0 18.8%,#00ff29 25%,#00ff59 33.3%,#00ff7f 41.7%,#00ff9c 50%,#00ffb1 58.3%,#00ffbc 66.7%,#00ffbf 75%,#00ffb8 83.3%,#00ffa9 91.7%,#00ff90)"></i><i style="background:linear-gradient(#98ff00,#4eff00 8.3%,#0dff00 16.7%,#0f0 18.5%,#00ff2b 25%,#00ff5a 33.3%,#00ff80 41.7%,#00ff9d 50%,#00ffb1 58.3%,#00ffbc 66.7%,#00ffbe 75%,#00ffb7 83.3%,#00ffa7 91.7%,#00ff8e)"></i><i style="background:linear-gradient(#95ff00,#4bff00 8.3%,#0bff00 16.7%,#0f0 18.2%,#00ff2d 25%,#00ff5b 33.3%,#00ff81 41.7%,#00ff9e 50%,#00ffb1 58.3%,#00ffbc 66.7%,#00ffbd 75%,#00ffb6 83.3%,#00ffa6 91.7%,#00ff8c)"></i><i style="background:linear-gradient(#92ff00,#49ff00 8.3%,#08ff00 16.7%,#0f0 17.9%,#00ff2f 25%,#00ff5d 33.3%,#00ff82 41.7%,#00ff9e 50%,#00ffb1 58.3%,#00ffbc 66.7%,#00ffbd 75%,#00ffb5 83.3%,#00ffa4 91.7%,#00ff8b)"></i><i style="background:linear-gradient(#8fff00,#46ff00 8.3%,#06ff00 16.7%,#0f0 17.6%,#00ff30 25%,#00ff5e 33.3%,#00ff83 41.7%,#00ff9f 50%,#00ffb2 58.3%,#0fb 66.7%,#00ffbc 75%,#00ffb4 83.3%,#00ffa3 91.7%,#00ff89)"></i><i style="background:linear-gradient(#8cff00,#43ff00 8.3%,#04ff00 16.7%,#0f0 17.2%,#00ff32 25%,#00ff60 33.3%,#00ff84 41.7%,#00ff9f 50%,#00ffb2 58.3%,#0fb 66.7%,#00ffbc 75%,#00ffb3 83.3%,#00ffa2 91.7%,#00ff87)"></i><i style="background:linear-gradient(#89ff00,#41ff00 8.3%,#02ff00 16.7%,#0f0 16.9%,#00ff34 25%,#00ff61 33.3%,#00ff85 41.7%,#00ffa0 50%,#00ffb2 58.3%,#0fb 66.7%,#0fb 75%,#00ffb2 83.3%,#00ffa0 91.7%,#00ff85)"></i><i style="background:linear-gradient(#86ff00,#3eff00 8.3%,#0f0 16.6%,#0f0 16.7%,#00ff36 25%,#00ff62 33.3%,#00ff86 41.7%,#00ffa1 50%,#00ffb2 58.3%,#0fb 66.7%,#0fb 75%,#00ffb1 83.3%,#00ff9f 91.7%,#00ff84)"></i><i style="background:linear-gradient(#83ff00,#3cff00 8.3%,#0f0 16.3%,#00ff03 16.7%,#00ff38 25%,#00ff64 33.3%,#00ff87 41.7%,#00ffa1 50%,#00ffb2 58.3%,#0fb 66.7%,#00ffba 75%,#00ffb0 83.3%,#00ff9d 91.7%,#00ff82)"></i><i style="background:linear-gradient(#80ff00,#39ff00 8.3%,#0f0 16%,#00ff05 16.7%,#00ff3a 25%,#00ff65 33.3%,#0f8 41.7%,#00ffa2 50%,#00ffb3 58.3%,#00ffba 66.7%,#00ffb9 75%,#00ffaf 83.3%,#00ff9c 91.7%,#00ff80)"></i><i style="background:linear-gradient(#7dff00,#36ff00 8.3%,#0f0 15.6%,#00ff07 16.7%,#00ff3b 25%,#00ff67 33.3%,#00ff89 41.7%,#00ffa2 50%,#00ffb3 58.3%,#00ffba 66.7%,#00ffb9 75%,#00ffae 83.3%,#00ff9b 91.7%,#00ff7e)"></i><i style="background:linear-gradient(#79ff00,#34ff00 8.3%,#0f0 15.3%,#00ff09 16.7%,#00ff3d 25%,#00ff68 33.3%,#00ff8a 41.7%,#00ffa3 50%,#00ffb3 58.3%,#00ffba 66.7%,#00ffb8 75%,#00ffad 83.3%,#0f9 91.7%,#00ff7c)"></i><i style="background:linear-gradient(#76ff00,#31ff00 8.3%,#0f0 15%,#00ff0c 16.7%,#00ff3f 25%,#00ff6a 33.3%,#00ff8b 41.7%,#00ffa4 50%,#00ffb3 58.3%,#00ffba 66.7%,#00ffb8 75%,#00ffac 83.3%,#00ff98 91.7%,#00ff7a)"></i><i style="background:linear-gradient(#73ff00,#2eff00 8.3%,#0f0 14.6%,#00ff0e 16.7%,#00ff41 25%,#00ff6b 33.3%,#00ff8c 41.7%,#00ffa4 50%,#00ffb4 58.3%,#00ffba 66.7%,#00ffb7 75%,#00ffab 83.3%,#00ff96 91.7%,#00ff79)"></i><i style="background:linear-gradient(#70ff00,#2cff00 8.3%,#0f0 14.3%,#00ff10 16.7%,#00ff43 25%,#00ff6d 33.3%,#00ff8d 41.7%,#00ffa5 50%,#00ffb4 58.3%,#00ffba 66.7%,#00ffb6 75%,#0fa 83.3%,#00ff95 91.7%,#0f7)"></i><i style="background:linear-gradient(#6dff00,#29ff00 8.3%,#0f0 13.9%,#00ff12 16.7%,#00ff45 25%,#00ff6e 33.3%,#00ff8e 41.7%,#00ffa6 50%,#00ffb4 58.3%,#00ffb9 66.7%,#00ffb6 75%,#00ffa9 83.3%,#00ff94 91.7%,#00ff75)"></i><i style="background:linear-gradient(#6aff00,#26ff00 8.3%,#0f0 13.6%,#00ff15 16.7%,#00ff47 25%,#00ff70 33.3%,#00ff8f 41.7%,#00ffa6 50%,#00ffb4 58.3%,#00ffb9 66.7%,#00ffb5 75%,#00ffa8 83.3%,#00ff92 91.7%,#00ff73)"></i><i style="background:linear-gradient(#67ff00,#23ff00 8.3%,#0f0 13.2%,#00ff17 16.7%,#00ff49 25%,#00ff71 33.3%,#00ff91 41.7%,#00ffa7 50%,#00ffb5 58.3%,#00ffb9 66.7%,#00ffb5 75%,#00ffa7 83.3%,#00ff91 91.7%,#00ff71)"></i><i style="background:linear-gradient(#64ff00,#21ff00 8.3%,#0f0 12.8%,#00ff19 16.7%,#00ff4a 25%,#00ff73 33.3%,#00ff92 41.7%,#00ffa8 50%,#00ffb5 58.3%,#00ffb9 66.7%,#00ffb4 75%,#00ffa6 83.3%,#00ff8f 91.7%,#00ff6f)"></i><i style="background:linear-gradient(#60ff00,#1eff00 8.3%,#0f0 12.5%,#00ff1c 16.7%,#00ff4c 25%,#00ff74 33.3%,#00ff93 41.7%,#00ffa8 50%,#00ffb5 58.3%,#00ffb9 66.7%,#00ffb3 75%,#00ffa5 83.3%,#00ff8e 91.7%,#00ff6e)"></i><i style="background:linear-gradient(#5dff00,#1bff00 8.3%,#0f0 12.1%,#00ff1e 16.7%,#00ff4e 25%,#00ff76 33.3%,#00ff94 41.7%,#00ffa9 50%,#00ffb5 58.3%,#00ffb9 66.7%,#00ffb3 75%,#00ffa4 83.3%,#00ff8c 91.7%,#00ff6c)"></i><i style="background:linear-gradient(#5aff00,#18ff00 8.3%,#0f0 11.7%,#00ff21 16.7%,#00ff50 25%,#0f7 33.3%,#00ff95 41.7%,#0fa 50%,#00ffb6 58.3%,#00ffb8 66.7%,#00ffb2 75%,#00ffa3 83.3%,#00ff8b 91.7%,#00ff6a)"></i><i style="background:linear-gradient(#57ff00,#15ff00 8.3%,#0f0 11.3%,#00ff23 16.7%,#00ff52 25%,#00ff79 33.3%,#00ff96 41.7%,#0fa 50%,#00ffb6 58.3%,#00ffb8 66.7%,#00ffb2 75%,#00ffa2 83.3%,#00ff8a 91.7%,#00ff68)"></i><i style="background:linear-gradient(#53ff00,#13ff00 8.3%,#0f0 10.9%,#00ff25 16.7%,#00ff54 25%,#00ff7a 33.3%,#00ff97 41.7%,#00ffab 50%,#00ffb6 58.3%,#00ffb8 66.7%,#00ffb1 75%,#00ffa1 83.3%,#0f8 91.7%,#0f6)"></i></div>
<svg id="ov" width="796" height="644" viewBox="0 0 796 644">
<!-- contour lines -->
<g fill="none" stroke="#000" stroke-width="1.25" stroke-opacity=".75" stroke-linejoin="round"><path d="M258.0,566.5 255.0,564.5 251.9,562.5 249.0,560.7 245.2,558.5 243.0,557.2M243.0,196.7 243.9,200.2 245.0,204.0 246.2,208.2 247.0,211.2 247.8,214.2 249.0,218.2 250.1,222.2 251.0,225.3 252.4,230.2 253.6,234.2 254.7,238.2 255.9,242.2 257.0,245.9 258.3,250.2 259.5,254.2 260.8,258.2 262.0,262.2 263.0,265.5 264.5,270.2 265.8,274.2 267.0,278.1 268.4,282.2 269.7,286.2 271.0,290.2 272.3,294.2 273.7,298.2 275.0,302.2 276.4,306.3 277.8,310.3 279.0,313.6 280.7,318.3 282.2,322.3 283.6,326.3 285.0,330.0 286.7,334.3 288.2,338.3 289.8,342.3 291.0,345.5 292.2,348.3 293.8,352.3 295.0,355.3 296.3,358.3 298.0,362.3 299.8,366.3 301.1,369.2 302.5,372.3 304.3,376.3 306.2,380.3 308.1,384.3 310.1,388.3 312.1,392.3 314.1,396.3 316.2,400.3 318.4,404.3 320.6,408.4 322.9,412.4 325.1,416.0 327.1,419.3 329.0,422.4 331.1,425.7 332.8,428.4 335.1,431.8 336.9,434.4 339.1,437.5 341.1,440.3 343.1,443.0 345.1,445.6 347.1,448.2 349.1,450.7 351.1,453.2 353.1,455.6 355.1,458.0 357.1,460.3 359.1,462.5 362.7,466.4 365.1,469.0 368.5,472.4 371.1,475.1 374.5,478.4 377.1,480.9 380.9,484.4 385.1,488.2 387.6,490.4 389.9,492.4 392.2,494.4 394.5,496.4 396.9,498.4 399.3,500.4 401.7,502.4 404.1,504.4 406.5,506.4 409.0,508.4 411.4,510.4 413.8,512.4 416.3,514.5 418.7,516.5 421.2,518.5 423.6,520.5 426.0,522.5 428.4,524.5 430.8,526.5 433.2,528.5 435.5,530.5 437.8,532.5 440.1,534.5 442.3,536.5 445.2,539.1 448.9,542.5 451.2,544.7 455.1,548.5 459.0,552.5 461.2,554.8 464.6,558.5 467.2,561.4 469.2,563.8 471.2,566.2 471.5,566.5M243.0,64.2 244.3,68.0 245.6,72.0 247.0,76.0 248.4,80.0 249.8,84.0 251.0,87.6 252.6,92.1 254.0,96.1 255.5,100.1 257.0,104.1 258.4,108.1 259.9,112.1 261.0,114.9 262.2,118.1 263.8,122.1 265.0,125.3 266.9,130.1 268.5,134.1 270.1,138.1 271.8,142.1 273.0,145.1 274.3,148.1 276.0,152.1 277.7,156.1 279.0,159.2 280.3,162.1 282.1,166.1 283.9,170.1 285.8,174.1 287.0,176.9 288.6,180.1 290.5,184.1 292.4,188.1 294.4,192.1 296.4,196.2 298.5,200.2 300.5,204.2 302.7,208.2 304.8,212.2 307.0,216.2 309.1,219.8 311.1,223.3 312.7,226.2 315.1,230.2 317.1,233.6 318.7,236.2 321.1,240.1 323.1,243.2 325.0,246.2 327.1,249.4 328.9,252.2 331.1,255.4 333.0,258.2 335.1,261.2 337.1,264.0 339.1,266.8 341.1,269.5 343.1,272.2 345.1,274.8 347.1,277.4 349.1,279.9 351.1,282.4 353.1,284.9 355.1,287.3 357.1,289.7 359.1,292.1 361.1,294.4 363.1,296.6 366.4,300.2 369.1,303.2 372.0,306.3 375.1,309.5 377.8,312.3 381.1,315.5 384.0,318.3 387.1,321.3 390.4,324.3 393.1,326.8 397.1,330.3 399.4,332.3 401.8,334.3 404.2,336.3 406.6,338.3 409.0,340.3 411.6,342.3 414.1,344.3 416.7,346.3 419.2,348.2 422.0,350.3 424.7,352.3 427.2,354.1 430.2,356.3 433.1,358.3 435.9,360.3 438.9,362.3 441.8,364.3 444.8,366.3 447.9,368.3 451.0,370.3 454.1,372.3 457.2,374.3 460.5,376.3 463.2,378.0 467.0,380.3 470.3,382.3 473.2,384.1 477.0,386.3 480.4,388.3 483.2,390.0 487.2,392.3 490.8,394.3 494.3,396.3 497.2,398.0 501.2,400.3 504.8,402.3 508.3,404.3 511.3,406.0 515.3,408.3 518.9,410.4 522.4,412.4 525.3,414.0 529.3,416.4 532.7,418.4 535.3,419.9 539.3,422.3 542.7,424.4 546.0,426.4 549.2,428.4 552.4,430.4 555.3,432.2 558.5,434.4 561.3,436.2 564.5,438.4 567.3,440.3 570.2,442.4 572.9,444.4 575.6,446.4 578.2,448.4 580.8,450.4 583.2,452.4 585.6,454.4 588.0,456.4 590.3,458.4 593.3,461.2 596.7,464.4 599.3,467.1 602.5,470.4 605.3,473.6 607.3,475.9 609.3,478.3 611.3,480.8 613.3,483.5 615.3,486.3 617.4,489.2 619.4,492.4 621.4,495.7 622.9,498.4 625.1,502.4 627.0,506.4 628.8,510.4 630.5,514.5 632.0,518.5 633.4,522.3 634.7,526.5 635.9,530.5 636.9,534.5 637.8,538.5 638.7,542.5 639.4,546.1 640.1,550.5 640.7,554.5 641.2,558.5 641.6,562.5 642.0,566.5M775.5,474.7 773.8,478.4 772.1,482.4 770.4,486.4 768.8,490.4 767.5,493.7 765.6,498.4 764.1,502.4 762.6,506.4 761.5,509.5 760.4,512.4 758.9,516.5 757.5,520.5 756.1,524.5 754.7,528.5 753.5,532.1 752.0,536.5 750.6,540.5 749.5,543.8 747.9,548.5 746.6,552.5 745.5,555.9 743.9,560.5 742.6,564.5 742.0,566.5M266.6,34.0 268.3,38.0 270.0,42.0 271.7,46.0 273.0,49.0 274.4,52.0 276.2,56.0 278.0,60.0 279.8,64.0 281.7,68.0 283.0,70.8 284.6,74.0 286.5,78.0 288.5,82.0 290.5,86.0 292.5,90.1 294.6,94.1 296.6,98.1 298.8,102.1 300.9,106.1 303.1,109.9 305.1,113.5 307.1,117.1 308.8,120.1 311.1,124.0 313.1,127.3 314.7,130.1 317.1,133.9 319.1,137.2 320.9,140.1 323.1,143.5 324.8,146.1 327.1,149.6 328.8,152.1 331.1,155.5 332.9,158.1 335.1,161.2 337.1,164.0 339.1,166.8 341.1,169.5 343.1,172.1 345.1,174.8 347.1,177.4 349.1,179.9 351.1,182.4 353.1,184.9 355.1,187.3 357.1,189.7 359.1,192.1 361.1,194.4 363.1,196.7 365.1,199.0 368.0,202.2 371.1,205.5 373.6,208.2 377.1,211.8 379.5,214.2 383.1,217.8 385.6,220.2 389.1,223.5 392.1,226.2 395.1,228.9 398.8,232.2 401.1,234.2 403.5,236.2 406.0,238.2 408.4,240.2 410.9,242.2 413.5,244.2 416.1,246.2 418.7,248.2 421.2,250.0 424.2,252.2 427.0,254.2 429.9,256.2 432.8,258.2 435.8,260.2 438.8,262.2 441.9,264.2 445.1,266.2 448.4,268.2 451.2,269.9 455.2,272.2 458.7,274.2 462.3,276.2 465.2,277.8 469.2,280.0 473.2,282.0 477.2,284.1 481.2,286.0 485.2,287.9 489.2,289.8 493.2,291.6 497.2,293.4 501.2,295.1 505.2,296.8 508.9,298.2 513.3,300.0 517.3,301.5 521.3,303.0 524.7,304.3 529.3,305.9 533.3,307.3 536.2,308.3 539.3,309.3 542.3,310.3 545.3,311.2 548.7,312.3 553.3,313.6 557.3,314.8 561.3,315.9 565.3,317.0 569.3,318.1 573.3,319.1 577.3,320.1 581.3,321.1 585.3,322.1 589.3,323.0 593.3,323.9 597.3,324.7 601.3,325.5 605.2,326.3 609.3,327.1 613.3,327.8 617.4,328.5 621.4,329.1 625.4,329.8 628.9,330.3 633.4,330.9 637.4,331.4 641.4,331.9 644.6,332.3 649.4,332.8 653.4,333.1 657.4,333.5 661.4,333.7 665.4,334.0 669.4,334.2 673.4,334.3 677.4,334.3 681.4,334.4 685.4,334.3 689.4,334.2 693.4,334.0 697.4,333.7 701.4,333.3 705.4,332.8 708.6,332.3 713.4,331.4 717.4,330.5 721.4,329.4 725.1,328.3 729.5,326.7 733.5,325.0 737.5,323.0 741.5,320.6 745.0,318.3 747.5,316.4 750.1,314.3 752.4,312.3 755.5,309.2 758.2,306.3 761.4,302.3 763.5,299.5 765.5,296.7 767.5,293.6 769.5,290.4 771.5,286.9 772.9,284.2 775.0,280.2 775.5,279.3M304.2,34.0 306.5,38.0 308.9,42.0 311.1,45.7 313.1,49.1 314.9,52.0 317.1,55.6 319.1,58.8 321.1,61.9 323.1,65.0 325.1,68.0 327.1,71.1 329.1,74.0 331.1,77.0 333.1,79.8 335.1,82.7 337.1,85.5 339.0,88.1 341.1,90.9 343.1,93.6 345.0,96.1 347.1,98.8 349.1,101.4 351.1,103.9 353.1,106.3 355.1,108.8 357.1,111.2 359.1,113.6 361.1,115.9 363.1,118.2 365.1,120.5 368.4,124.1 371.1,127.0 374.0,130.1 377.1,133.3 379.9,136.1 383.1,139.3 386.0,142.1 389.1,145.1 392.4,148.1 395.1,150.6 399.1,154.1 401.5,156.1 403.9,158.1 406.3,160.1 408.8,162.1 411.2,164.0 413.8,166.1 416.5,168.1 419.1,170.1 421.9,172.1 424.6,174.1 427.2,175.9 430.4,178.1 433.2,180.0 436.5,182.1 439.2,183.9 442.8,186.1 446.2,188.1 449.2,189.9 453.1,192.1 456.7,194.2 460.4,196.2 463.2,197.6 467.2,199.6 471.2,201.6 475.2,203.5 479.2,205.3 483.2,207.1 487.2,208.7 490.8,210.2 495.2,211.9 499.2,213.4 503.2,214.8 507.1,216.2 511.3,217.5 515.3,218.8 519.3,220.0 523.3,221.1 527.3,222.1 531.3,223.2 535.3,224.1 539.3,225.0 543.3,225.8 547.3,226.6 551.3,227.3 555.3,228.0 559.3,228.6 563.3,229.1 567.3,229.6 571.3,230.0 575.3,230.4 579.3,230.7 583.3,230.9 587.3,231.1 591.3,231.2 595.3,231.3 599.3,231.2 603.3,231.1 607.3,231.0 611.3,230.8 615.3,230.4 619.4,230.1 623.4,229.6 627.4,229.1 631.4,228.4 635.4,227.7 639.4,226.9 642.7,226.2 647.4,225.0 650.6,224.2 655.4,222.8 659.4,221.5 663.1,220.2 667.4,218.5 671.4,216.9 675.4,215.1 679.4,213.2 683.4,211.2 687.4,209.0 691.4,206.6 695.3,204.2 698.3,202.2 701.2,200.2 703.9,198.2 706.6,196.2 709.1,194.2 711.4,192.2 713.9,190.1 716.1,188.1 719.4,185.1 722.5,182.1 725.5,179.1 728.2,176.1 731.5,172.6 733.5,170.3 735.5,167.9 737.5,165.4 739.5,162.9 741.5,160.3 743.5,157.7 745.5,154.9 747.5,152.1 749.5,149.2 751.5,146.2 753.5,143.1 755.4,140.1 757.5,136.7 759.1,134.1 761.4,130.1 763.5,126.4 765.5,122.8 767.0,120.1 769.1,116.1 771.2,112.1 773.2,108.1 775.1,104.1 775.5,103.3M348.7,34.0 351.1,37.0 353.1,39.5 355.1,41.9 357.1,44.3 359.1,46.7 361.1,49.0 363.1,51.3 365.1,53.6 367.1,55.9 370.9,60.0 373.1,62.4 376.6,66.0 379.1,68.6 382.6,72.0 385.1,74.5 388.8,78.0 391.1,80.2 395.1,83.8 397.6,86.0 400.0,88.1 402.3,90.1 404.7,92.1 407.1,94.1 409.6,96.1 412.1,98.1 414.7,100.1 417.2,101.9 420.1,104.1 422.8,106.1 425.7,108.1 428.6,110.1 431.2,111.8 434.6,114.1 437.2,115.7 441.0,118.1 444.3,120.1 447.2,121.8 451.2,124.1 454.9,126.1 458.7,128.1 462.6,130.1 466.7,132.1 471.0,134.1 475.2,136.0 479.2,137.7 483.2,139.3 487.2,140.9 490.4,142.1 495.2,143.8 499.2,145.2 502.2,146.1 505.2,147.0 508.9,148.1 513.3,149.3 516.4,150.1 521.3,151.3 525.0,152.1 529.3,153.0 533.3,153.7 537.3,154.4 541.3,155.0 545.3,155.6 549.3,156.0 553.3,156.4 557.3,156.8 561.3,157.0 565.3,157.2 569.3,157.3 573.3,157.4 577.3,157.3 581.3,157.2 585.3,157.0 589.3,156.7 593.3,156.4 597.3,156.0 601.3,155.5 605.3,154.9 609.3,154.2 613.3,153.4 617.4,152.6 621.4,151.6 625.4,150.6 629.4,149.5 633.4,148.2 637.4,146.9 641.4,145.4 644.8,144.1 649.4,142.2 653.4,140.5 657.4,138.6 661.4,136.5 665.4,134.4 669.4,132.1 672.8,130.1 675.4,128.5 679.0,126.1 681.9,124.1 684.8,122.1 687.4,120.1 690.1,118.1 692.6,116.1 695.1,114.1 697.4,112.1 699.8,110.1 702.0,108.1 705.4,104.9 708.4,102.1 711.4,99.0 714.3,96.1 717.4,92.6 719.8,90.1 723.2,86.0 725.5,83.4 727.5,81.0 729.5,78.5 731.4,76.0 733.5,73.3 735.5,70.6 737.4,68.0 739.5,65.1 741.5,62.2 743.5,59.3 745.5,56.3 747.5,53.2 749.5,50.1 751.5,46.9 753.2,44.0 755.5,40.2 757.5,36.8 759.1,34.0M406.0,34.0 408.5,36.0 411.0,38.0 413.5,40.0 416.2,42.0 418.9,44.0 421.6,46.0 424.4,48.0 427.2,49.9 430.3,52.0 433.2,53.9 436.4,56.0 439.2,57.7 443.0,60.0 446.4,62.0 449.2,63.6 453.2,65.8 457.2,67.9 461.2,69.9 465.2,71.9 469.2,73.7 473.2,75.5 477.2,77.2 481.2,78.8 484.6,80.0 489.2,81.7 493.2,83.1 496.2,84.0 499.2,85.0 502.9,86.0 507.2,87.2 510.5,88.1 515.3,89.2 519.3,90.0 523.3,90.8 527.3,91.5 530.6,92.1 535.3,92.7 539.3,93.2 543.3,93.6 547.3,93.9 551.3,94.2 555.3,94.3 559.3,94.4 563.3,94.4 567.3,94.3 571.3,94.2 575.3,94.0 579.3,93.6 583.3,93.2 587.3,92.7 591.3,92.2 595.3,91.5 599.3,90.8 602.7,90.1 607.3,89.0 611.0,88.1 615.3,86.8 619.4,85.6 623.4,84.3 627.4,82.9 631.4,81.4 634.6,80.0 637.4,78.9 641.4,77.1 645.4,75.2 649.4,73.1 653.4,71.0 657.4,68.7 661.4,66.3 665.0,64.0 668.0,62.0 670.9,60.0 673.4,58.3 676.5,56.0 679.1,54.0 681.7,52.0 684.2,50.0 686.6,48.0 688.9,46.0 691.2,44.0 695.4,40.2 697.7,38.0 701.4,34.4 701.8,34.0M508.0,34.0 511.3,34.7 515.3,35.6 519.3,36.3 523.3,37.0 527.3,37.6 531.3,38.1 535.3,38.6 539.3,38.9 543.3,39.2 547.3,39.4 551.3,39.5 555.3,39.5 559.3,39.5 563.3,39.3 567.3,39.1 571.3,38.8 575.3,38.4 578.6,38.0 583.3,37.3 587.3,36.7 590.8,36.0 595.3,35.1 599.3,34.1 599.8,34.0"/></g>
<!-- frame and ticks -->
<g stroke="#111" stroke-width="1" fill="none">
<rect x="243.1" y="34.25" width="532.3" height="532.45"/>
<path d="M230,34.25H243M230,140.7H243M230,247.2H243M230,353.7H243M230,460.2H243M230,566.7H243"/>
<path d="M243.1,566.5V579.5M376.2,566.5V579.5M509.25,566.5V579.5M642.3,566.5V579.5M775.4,566.5V579.5"/>
</g>
<!-- contour labels -->
<g fill="#fff" stroke="#000" stroke-width="1">
<rect x="547.5" y="83.9" width="17" height="10.6"/>
<rect x="540.7" y="145.6" width="17" height="10.6"/>
<rect x="507.6" y="208.2" width="17" height="10.6"/>
<rect x="450.1" y="263" width="17" height="10.6"/>
<rect x="411" y="334.2" width="10.6" height="10.6"/>
<rect x="314.6" y="397.9" width="17" height="10.6"/>
<rect x="248.2" y="553.1" width="17" height="10.6"/>
<rect x="750.1" y="509" width="17" height="10.6"/>
</g>
<g font-size="8.6" fill="#111" stroke="#111" stroke-width=".15" text-anchor="middle">
<text transform="translate(556,91.9) scale(.9,1)">1.8</text>
<text transform="translate(549.2,153.6) scale(.9,1)">1.6</text>
<text transform="translate(516.1,216.2) scale(.9,1)">1.4</text>
<text transform="translate(458.6,271.0) scale(.9,1)">1.2</text>
<text transform="translate(416.3,342.2) scale(.9,1)">1</text>
<text transform="translate(323.1,405.9) scale(.9,1)">0.8</text>
<text transform="translate(256.7,561.1) scale(.9,1)">0.8</text>
<text transform="translate(758.6,517.0) scale(.9,1)">1.2</text>
<text transform="translate(496.4,302.3) scale(.9,1)">5</text>
</g>
<!-- design points -->
<g fill="#c60000" stroke="#1a0000" stroke-width="1.1">
<circle cx="243.1" cy="34.25" r="4.75"/><circle cx="509.25" cy="34.25" r="4.75"/><circle cx="775.4" cy="34.25" r="4.75"/>
<circle cx="243.1" cy="300.45" r="4.75"/><circle cx="509.25" cy="300.45" r="4.75"/><circle cx="775.4" cy="300.45" r="4.75"/>
<circle cx="243.1" cy="566.7" r="4.75"/><circle cx="509.25" cy="566.7" r="4.75"/><circle cx="775.4" cy="566.7" r="4.75"/>
</g>
<!-- titles -->
<g font-size="20" fill="#111" stroke="#111" stroke-width=".25" text-anchor="middle">
<text transform="translate(508.5,25) scale(1.03,1)">Wear Rate (mg/min)</text>
<text transform="translate(507.9,637.8) scale(1.032,1)">A: Linear Velocity (m/s)</text>
<text transform="translate(162,298.8) rotate(-90) scale(1.043,1)">B: Pressure (MPa)</text>
</g>
<!-- tick labels -->
<g font-size="20.3" fill="#111" stroke="#111" stroke-width=".3" text-anchor="end">
<text transform="translate(225.3,40.3) scale(1.01,1)">0.02</text>
<text transform="translate(225.3,146.8) scale(1.01,1)">0.018</text>
<text transform="translate(225.3,253.3) scale(1.01,1)">0.016</text>
<text transform="translate(225.3,359.8) scale(1.01,1)">0.014</text>
<text transform="translate(225.3,466.3) scale(1.01,1)">0.012</text>
<text transform="translate(225.3,572.8) scale(1.01,1)">0.01</text>
</g>
<g font-size="20.8" fill="#111" stroke="#111" stroke-width=".3" text-anchor="middle">
<text transform="translate(242.1,601.6) scale(.97,1)">0.57</text>
<text transform="translate(376.7,601.6)">0.665</text>
<text transform="translate(508.7,601.6) scale(.98,1)">0.76</text>
<text transform="translate(641.9,601.6)">0.855</text>
<text transform="translate(774.6,601.6) scale(.97,1)">0.95</text>
</g>
<!-- pop-out icon -->
<g>
<path d="M157.7,175.8H150.2V197.9H172.4V190.6" fill="none" stroke="#000" stroke-width="3.4"/>
<path d="M160.9,174.1H174.1V187.4Z" fill="#000"/>
<path d="M160.2,188.1L169.5,178.8" stroke="#000" stroke-width="3.75" fill="none"/>
</g>
<!-- legend -->
<text transform="translate(2,13.7) scale(1.056,1)" font-size="14.5" fill="#222">Factor Coding: Actual</text>
<text transform="translate(2.3,62.7) scale(1.094,1)" font-size="14.5" font-weight="bold" fill="#111" stroke="#111" stroke-width=".25">Wear Rate (mg/min)</text>
<circle cx="17.6" cy="82.6" r="8" fill="#c40000" stroke="#1a0000" stroke-width="1.2"/>
<text transform="translate(34.2,88.4) scale(1.055,1)" font-size="14.5" fill="#bf1f28">Design Points</text>
<defs><linearGradient id="lg"><stop offset="0" stop-color="#00f"/><stop offset=".5" stop-color="#0f0"/><stop offset="1" stop-color="#f00"/></linearGradient></defs>
<rect x="53" y="121.9" width="55.3" height="21.4" rx="1" fill="url(#lg)" stroke="#222" stroke-width="1"/>
<text x="1.7" y="137.3" font-size="15" fill="#2222ff">0.7332</text>
<text x="114.4" y="137.3" font-size="15" fill="#ff2222">2.104</text>
<text y="162.8" font-size="14.5" fill="#222"><tspan x="2.3">X1</tspan><tspan x="25.3">=</tspan><tspan x="39.1">A</tspan></text>
<text y="186.5" font-size="14.5" fill="#222"><tspan x="2.3">X2</tspan><tspan x="25.3">=</tspan><tspan x="38.6">B</tspan></text>
</svg>
</body></html>
